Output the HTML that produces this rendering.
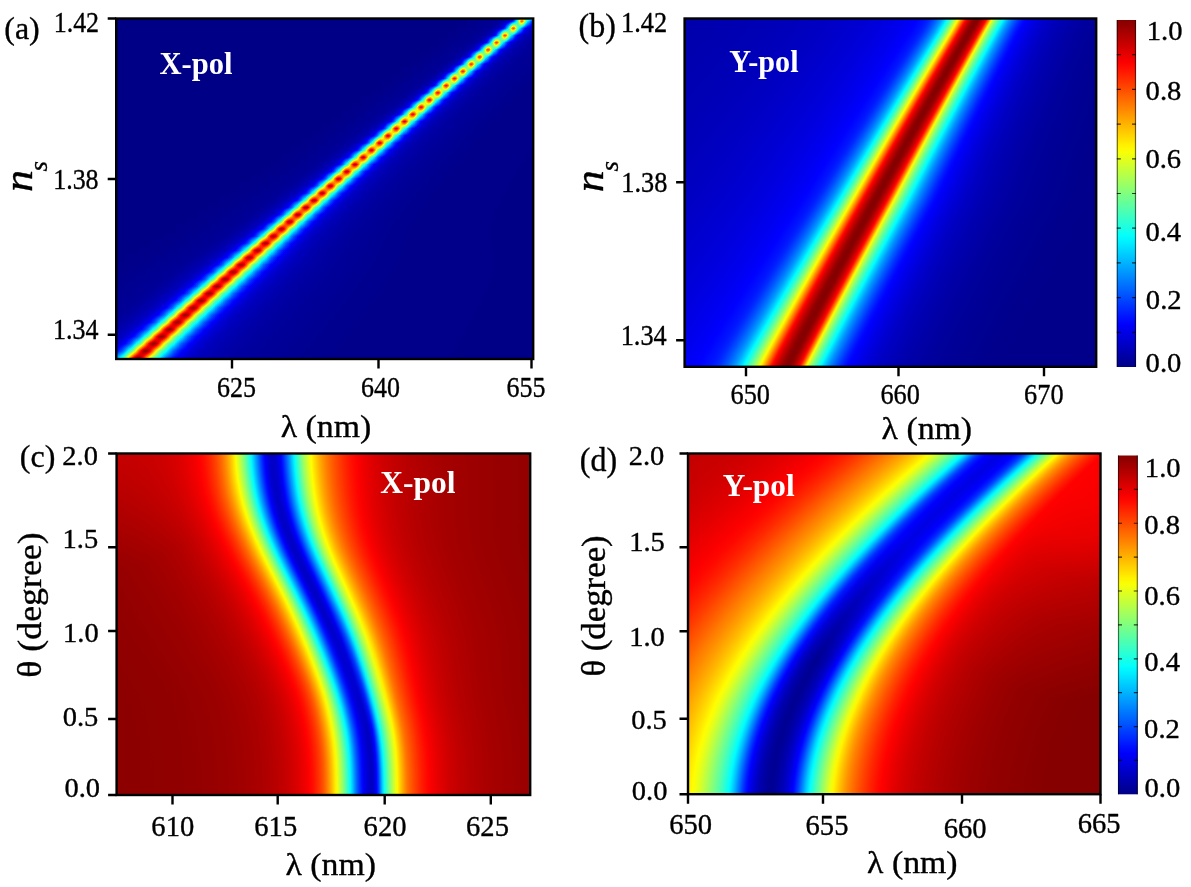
<!DOCTYPE html>
<html><head><meta charset="utf-8"><title>Figure</title>
<style>
html,body{margin:0;padding:0;background:#fff;overflow:hidden}
svg{display:block}
text{font-family:"Liberation Serif",serif;white-space:pre}
</style></head><body>
<svg width="1191" height="887" viewBox="0 0 1191 887">
<defs>
<linearGradient id="gb" gradientUnits="userSpaceOnUse" x1="-640" x2="640" y1="0" y2="0"><stop offset="0" stop-color="#0000a2"/><stop offset="0.0094" stop-color="#0000a2"/><stop offset="0.0187" stop-color="#0000a2"/><stop offset="0.0281" stop-color="#0000a2"/><stop offset="0.0375" stop-color="#0000a3"/><stop offset="0.0469" stop-color="#0000a3"/><stop offset="0.0563" stop-color="#0000a3"/><stop offset="0.0656" stop-color="#0000a4"/><stop offset="0.075" stop-color="#0000a4"/><stop offset="0.0844" stop-color="#0000a5"/><stop offset="0.0938" stop-color="#0000a5"/><stop offset="0.1031" stop-color="#0000a6"/><stop offset="0.1125" stop-color="#0000a7"/><stop offset="0.1219" stop-color="#0000a7"/><stop offset="0.1313" stop-color="#0000a8"/><stop offset="0.1406" stop-color="#0000a9"/><stop offset="0.15" stop-color="#0000aa"/><stop offset="0.1594" stop-color="#0000ab"/><stop offset="0.1688" stop-color="#0000ac"/><stop offset="0.1781" stop-color="#0000ad"/><stop offset="0.1875" stop-color="#0000ae"/><stop offset="0.1969" stop-color="#0000af"/><stop offset="0.2062" stop-color="#0000b0"/><stop offset="0.2156" stop-color="#0000b1"/><stop offset="0.225" stop-color="#0000b2"/><stop offset="0.2344" stop-color="#0000b3"/><stop offset="0.2437" stop-color="#0000b4"/><stop offset="0.2531" stop-color="#0000b5"/><stop offset="0.2625" stop-color="#0000b7"/><stop offset="0.2719" stop-color="#0000b8"/><stop offset="0.2812" stop-color="#0000ba"/><stop offset="0.2906" stop-color="#0000bb"/><stop offset="0.3" stop-color="#0000be"/><stop offset="0.3094" stop-color="#0000c0"/><stop offset="0.3187" stop-color="#0000c2"/><stop offset="0.3281" stop-color="#0000c5"/><stop offset="0.3375" stop-color="#0000c8"/><stop offset="0.3469" stop-color="#0000cb"/><stop offset="0.3563" stop-color="#0000cf"/><stop offset="0.3656" stop-color="#0000d2"/><stop offset="0.375" stop-color="#0000d6"/><stop offset="0.3758" stop-color="#0000d7"/><stop offset="0.3781" stop-color="#0000d8"/><stop offset="0.3805" stop-color="#0000d9"/><stop offset="0.3828" stop-color="#0000da"/><stop offset="0.3852" stop-color="#0000db"/><stop offset="0.3875" stop-color="#0000dd"/><stop offset="0.3898" stop-color="#0000de"/><stop offset="0.3922" stop-color="#0000df"/><stop offset="0.3945" stop-color="#0000e1"/><stop offset="0.3969" stop-color="#0000e2"/><stop offset="0.3992" stop-color="#0000e4"/><stop offset="0.4016" stop-color="#0000e5"/><stop offset="0.4039" stop-color="#0000e7"/><stop offset="0.4062" stop-color="#0000e9"/><stop offset="0.4086" stop-color="#0000ea"/><stop offset="0.4109" stop-color="#0000ec"/><stop offset="0.4133" stop-color="#0000ee"/><stop offset="0.4156" stop-color="#0000f0"/><stop offset="0.418" stop-color="#0000f2"/><stop offset="0.4203" stop-color="#0000f4"/><stop offset="0.4227" stop-color="#0000f7"/><stop offset="0.425" stop-color="#0000f9"/><stop offset="0.4273" stop-color="#0000fc"/><stop offset="0.4297" stop-color="#0000ff"/><stop offset="0.432" stop-color="#0004ff"/><stop offset="0.4344" stop-color="#0009ff"/><stop offset="0.4367" stop-color="#000eff"/><stop offset="0.4391" stop-color="#0013ff"/><stop offset="0.4414" stop-color="#0019ff"/><stop offset="0.4437" stop-color="#0022ff"/><stop offset="0.4461" stop-color="#002eff"/><stop offset="0.4484" stop-color="#003eff"/><stop offset="0.4508" stop-color="#004fff"/><stop offset="0.4531" stop-color="#0063ff"/><stop offset="0.4539" stop-color="#006aff"/><stop offset="0.4547" stop-color="#0071ff"/><stop offset="0.4555" stop-color="#0078ff"/><stop offset="0.4562" stop-color="#0080ff"/><stop offset="0.457" stop-color="#0087ff"/><stop offset="0.4578" stop-color="#0090ff"/><stop offset="0.4586" stop-color="#0098ff"/><stop offset="0.4594" stop-color="#00a2ff"/><stop offset="0.4602" stop-color="#00acff"/><stop offset="0.4609" stop-color="#00b7ff"/><stop offset="0.4617" stop-color="#00c2ff"/><stop offset="0.4625" stop-color="#00cdff"/><stop offset="0.4633" stop-color="#00d9ff"/><stop offset="0.4641" stop-color="#00e5ff"/><stop offset="0.4648" stop-color="#00f1ff"/><stop offset="0.4656" stop-color="#00feff"/><stop offset="0.4664" stop-color="#0bfff4"/><stop offset="0.4672" stop-color="#19ffe6"/><stop offset="0.468" stop-color="#26ffd9"/><stop offset="0.4688" stop-color="#34ffcb"/><stop offset="0.4695" stop-color="#43ffbc"/><stop offset="0.4703" stop-color="#51ffae"/><stop offset="0.4711" stop-color="#61ff9e"/><stop offset="0.4719" stop-color="#70ff8f"/><stop offset="0.4727" stop-color="#80ff7f"/><stop offset="0.4734" stop-color="#90ff6f"/><stop offset="0.4742" stop-color="#a1ff5e"/><stop offset="0.475" stop-color="#b2ff4d"/><stop offset="0.4758" stop-color="#c4ff3b"/><stop offset="0.4766" stop-color="#d5ff2a"/><stop offset="0.4773" stop-color="#e7ff18"/><stop offset="0.4781" stop-color="#f9ff06"/><stop offset="0.4789" stop-color="#fff200"/><stop offset="0.4797" stop-color="#ffdd00"/><stop offset="0.4805" stop-color="#ffc800"/><stop offset="0.4813" stop-color="#ffb200"/><stop offset="0.482" stop-color="#ff9c00"/><stop offset="0.4828" stop-color="#ff8600"/><stop offset="0.4836" stop-color="#ff7000"/><stop offset="0.4844" stop-color="#ff5a00"/><stop offset="0.4852" stop-color="#ff4300"/><stop offset="0.4859" stop-color="#ff2d00"/><stop offset="0.4867" stop-color="#ff1800"/><stop offset="0.4875" stop-color="#ff0600"/><stop offset="0.4883" stop-color="#f70000"/><stop offset="0.4891" stop-color="#ea0000"/><stop offset="0.4898" stop-color="#de0000"/><stop offset="0.4906" stop-color="#d20000"/><stop offset="0.4914" stop-color="#c80000"/><stop offset="0.4922" stop-color="#be0000"/><stop offset="0.493" stop-color="#b50000"/><stop offset="0.4938" stop-color="#ac0000"/><stop offset="0.4945" stop-color="#a30000"/><stop offset="0.4953" stop-color="#9b0000"/><stop offset="0.4961" stop-color="#930000"/><stop offset="0.4969" stop-color="#8e0000"/><stop offset="0.4977" stop-color="#8b0000"/><stop offset="0.4984" stop-color="#880000"/><stop offset="0.4992" stop-color="#850000"/><stop offset="0.5" stop-color="#850000"/><stop offset="0.5008" stop-color="#860000"/><stop offset="0.5016" stop-color="#8a0000"/><stop offset="0.5023" stop-color="#8e0000"/><stop offset="0.5031" stop-color="#950000"/><stop offset="0.5039" stop-color="#9f0000"/><stop offset="0.5047" stop-color="#ab0000"/><stop offset="0.5055" stop-color="#b70000"/><stop offset="0.5062" stop-color="#c30000"/><stop offset="0.507" stop-color="#d10000"/><stop offset="0.5078" stop-color="#e10000"/><stop offset="0.5086" stop-color="#f30000"/><stop offset="0.5094" stop-color="#ff0900"/><stop offset="0.5102" stop-color="#ff2500"/><stop offset="0.5109" stop-color="#ff4600"/><stop offset="0.5117" stop-color="#ff6a00"/><stop offset="0.5125" stop-color="#ff8f00"/><stop offset="0.5133" stop-color="#ffbc00"/><stop offset="0.5141" stop-color="#ffe700"/><stop offset="0.5148" stop-color="#f7ff08"/><stop offset="0.5156" stop-color="#ddff22"/><stop offset="0.5164" stop-color="#c5ff3a"/><stop offset="0.5172" stop-color="#afff50"/><stop offset="0.518" stop-color="#9bff64"/><stop offset="0.5188" stop-color="#88ff77"/><stop offset="0.5195" stop-color="#76ff89"/><stop offset="0.5203" stop-color="#65ff9a"/><stop offset="0.5211" stop-color="#55ffaa"/><stop offset="0.5219" stop-color="#46ffb9"/><stop offset="0.5227" stop-color="#37ffc8"/><stop offset="0.5234" stop-color="#28ffd7"/><stop offset="0.5242" stop-color="#1affe5"/><stop offset="0.525" stop-color="#0cfff3"/><stop offset="0.5258" stop-color="#00fcff"/><stop offset="0.5266" stop-color="#00eeff"/><stop offset="0.5273" stop-color="#00dfff"/><stop offset="0.5281" stop-color="#00d2ff"/><stop offset="0.5289" stop-color="#00c4ff"/><stop offset="0.5297" stop-color="#00b7ff"/><stop offset="0.5305" stop-color="#00abff"/><stop offset="0.5312" stop-color="#009fff"/><stop offset="0.532" stop-color="#0094ff"/><stop offset="0.5328" stop-color="#0089ff"/><stop offset="0.5336" stop-color="#0080ff"/><stop offset="0.5344" stop-color="#0076ff"/><stop offset="0.5352" stop-color="#006dff"/><stop offset="0.5359" stop-color="#0064ff"/><stop offset="0.5367" stop-color="#005bff"/><stop offset="0.5375" stop-color="#0052ff"/><stop offset="0.5383" stop-color="#004aff"/><stop offset="0.5391" stop-color="#0042ff"/><stop offset="0.5398" stop-color="#003aff"/><stop offset="0.5406" stop-color="#0032ff"/><stop offset="0.5414" stop-color="#002bff"/><stop offset="0.5422" stop-color="#0024ff"/><stop offset="0.543" stop-color="#001dff"/><stop offset="0.5437" stop-color="#0017ff"/><stop offset="0.5445" stop-color="#0011ff"/><stop offset="0.5453" stop-color="#000cff"/><stop offset="0.5461" stop-color="#0007ff"/><stop offset="0.5469" stop-color="#0003ff"/><stop offset="0.5492" stop-color="#0000f9"/><stop offset="0.5516" stop-color="#0000f1"/><stop offset="0.5539" stop-color="#0000ea"/><stop offset="0.5563" stop-color="#0000e3"/><stop offset="0.5586" stop-color="#0000dd"/><stop offset="0.5609" stop-color="#0000d7"/><stop offset="0.5633" stop-color="#0000d2"/><stop offset="0.5656" stop-color="#0000cd"/><stop offset="0.568" stop-color="#0000c8"/><stop offset="0.5703" stop-color="#0000c4"/><stop offset="0.5727" stop-color="#0000c0"/><stop offset="0.575" stop-color="#0000bd"/><stop offset="0.5773" stop-color="#0000ba"/><stop offset="0.5797" stop-color="#0000b7"/><stop offset="0.582" stop-color="#0000b4"/><stop offset="0.5844" stop-color="#0000b1"/><stop offset="0.5867" stop-color="#0000af"/><stop offset="0.5891" stop-color="#0000ad"/><stop offset="0.5914" stop-color="#0000ab"/><stop offset="0.5938" stop-color="#0000a8"/><stop offset="0.5961" stop-color="#0000a6"/><stop offset="0.5984" stop-color="#0000a5"/><stop offset="0.6008" stop-color="#0000a3"/><stop offset="0.6031" stop-color="#0000a1"/><stop offset="0.6055" stop-color="#00009f"/><stop offset="0.6078" stop-color="#00009e"/><stop offset="0.6102" stop-color="#00009c"/><stop offset="0.6125" stop-color="#00009b"/><stop offset="0.6148" stop-color="#00009a"/><stop offset="0.6172" stop-color="#000099"/><stop offset="0.6195" stop-color="#000098"/><stop offset="0.6219" stop-color="#000097"/><stop offset="0.6242" stop-color="#000096"/><stop offset="0.625" stop-color="#000096"/><stop offset="0.6344" stop-color="#000092"/><stop offset="0.6438" stop-color="#000090"/><stop offset="0.6531" stop-color="#00008d"/><stop offset="0.6625" stop-color="#00008c"/><stop offset="0.6719" stop-color="#00008b"/><stop offset="0.6813" stop-color="#00008b"/><stop offset="0.6906" stop-color="#00008a"/><stop offset="0.7" stop-color="#00008a"/><stop offset="0.7094" stop-color="#00008a"/><stop offset="0.7188" stop-color="#00008a"/><stop offset="0.7281" stop-color="#00008a"/><stop offset="0.7375" stop-color="#000089"/><stop offset="0.7469" stop-color="#000089"/><stop offset="0.7562" stop-color="#000089"/><stop offset="0.7656" stop-color="#000089"/><stop offset="0.775" stop-color="#000089"/><stop offset="0.7844" stop-color="#000089"/><stop offset="0.7937" stop-color="#000088"/><stop offset="0.8031" stop-color="#000088"/><stop offset="0.8125" stop-color="#000088"/><stop offset="0.8219" stop-color="#000088"/><stop offset="0.8313" stop-color="#000088"/><stop offset="0.8406" stop-color="#000088"/><stop offset="0.85" stop-color="#000088"/><stop offset="0.8594" stop-color="#000088"/><stop offset="0.8688" stop-color="#000088"/><stop offset="0.8781" stop-color="#000088"/><stop offset="0.8875" stop-color="#000087"/><stop offset="0.8969" stop-color="#000087"/><stop offset="0.9062" stop-color="#000087"/><stop offset="0.9156" stop-color="#000087"/><stop offset="0.925" stop-color="#000087"/><stop offset="0.9344" stop-color="#000087"/><stop offset="0.9437" stop-color="#000087"/><stop offset="0.9531" stop-color="#000087"/><stop offset="0.9625" stop-color="#000087"/><stop offset="0.9719" stop-color="#000087"/><stop offset="0.9812" stop-color="#000087"/><stop offset="0.9906" stop-color="#000087"/><stop offset="1" stop-color="#000087"/></linearGradient>
<clipPath id="cb"><rect x="684.6" y="18.5" width="411.6" height="348.3"/></clipPath>
<linearGradient id="gc" gradientUnits="userSpaceOnUse" x1="-520" x2="520" y1="0" y2="0"><stop offset="0" stop-color="#860000"/><stop offset="0.0115" stop-color="#870000"/><stop offset="0.0231" stop-color="#870000"/><stop offset="0.0346" stop-color="#870000"/><stop offset="0.0462" stop-color="#870000"/><stop offset="0.0577" stop-color="#870000"/><stop offset="0.0692" stop-color="#870000"/><stop offset="0.0808" stop-color="#870000"/><stop offset="0.0923" stop-color="#870000"/><stop offset="0.1038" stop-color="#880000"/><stop offset="0.1154" stop-color="#880000"/><stop offset="0.1269" stop-color="#880000"/><stop offset="0.1385" stop-color="#880000"/><stop offset="0.15" stop-color="#880000"/><stop offset="0.1615" stop-color="#890000"/><stop offset="0.1731" stop-color="#890000"/><stop offset="0.1846" stop-color="#890000"/><stop offset="0.1962" stop-color="#8a0000"/><stop offset="0.2077" stop-color="#8a0000"/><stop offset="0.2192" stop-color="#8a0000"/><stop offset="0.2308" stop-color="#8b0000"/><stop offset="0.2423" stop-color="#8c0000"/><stop offset="0.2538" stop-color="#8c0000"/><stop offset="0.2654" stop-color="#8d0000"/><stop offset="0.2769" stop-color="#8e0000"/><stop offset="0.2885" stop-color="#8f0000"/><stop offset="0.3" stop-color="#900000"/><stop offset="0.3115" stop-color="#910000"/><stop offset="0.3231" stop-color="#930000"/><stop offset="0.3346" stop-color="#950000"/><stop offset="0.3462" stop-color="#980000"/><stop offset="0.3471" stop-color="#980000"/><stop offset="0.35" stop-color="#990000"/><stop offset="0.3529" stop-color="#990000"/><stop offset="0.3558" stop-color="#9a0000"/><stop offset="0.3587" stop-color="#9b0000"/><stop offset="0.3615" stop-color="#9c0000"/><stop offset="0.3644" stop-color="#9d0000"/><stop offset="0.3673" stop-color="#9e0000"/><stop offset="0.3702" stop-color="#9f0000"/><stop offset="0.3731" stop-color="#a00000"/><stop offset="0.376" stop-color="#a20000"/><stop offset="0.3788" stop-color="#a30000"/><stop offset="0.3817" stop-color="#a50000"/><stop offset="0.3846" stop-color="#a60000"/><stop offset="0.3875" stop-color="#a80000"/><stop offset="0.3904" stop-color="#aa0000"/><stop offset="0.3933" stop-color="#ab0000"/><stop offset="0.3962" stop-color="#ae0000"/><stop offset="0.399" stop-color="#b00000"/><stop offset="0.4019" stop-color="#b20000"/><stop offset="0.4048" stop-color="#b50000"/><stop offset="0.4077" stop-color="#b80000"/><stop offset="0.4106" stop-color="#bb0000"/><stop offset="0.4135" stop-color="#be0000"/><stop offset="0.4163" stop-color="#c20000"/><stop offset="0.4192" stop-color="#c60000"/><stop offset="0.4221" stop-color="#cb0000"/><stop offset="0.425" stop-color="#d00000"/><stop offset="0.4279" stop-color="#d60000"/><stop offset="0.4308" stop-color="#dc0000"/><stop offset="0.4337" stop-color="#e30000"/><stop offset="0.4365" stop-color="#eb0000"/><stop offset="0.4394" stop-color="#f30000"/><stop offset="0.4423" stop-color="#fd0000"/><stop offset="0.4433" stop-color="#ff0200"/><stop offset="0.4442" stop-color="#ff0600"/><stop offset="0.4452" stop-color="#ff0a00"/><stop offset="0.4462" stop-color="#ff0e00"/><stop offset="0.4471" stop-color="#ff1200"/><stop offset="0.4481" stop-color="#ff1800"/><stop offset="0.449" stop-color="#ff1d00"/><stop offset="0.45" stop-color="#ff2300"/><stop offset="0.451" stop-color="#ff2900"/><stop offset="0.4519" stop-color="#ff2f00"/><stop offset="0.4529" stop-color="#ff3500"/><stop offset="0.4538" stop-color="#ff3c00"/><stop offset="0.4548" stop-color="#ff4300"/><stop offset="0.4558" stop-color="#ff4b00"/><stop offset="0.4567" stop-color="#ff5300"/><stop offset="0.4577" stop-color="#ff5b00"/><stop offset="0.4587" stop-color="#ff6300"/><stop offset="0.4596" stop-color="#ff6c00"/><stop offset="0.4606" stop-color="#ff7600"/><stop offset="0.4615" stop-color="#ff8000"/><stop offset="0.4625" stop-color="#ff8a00"/><stop offset="0.4635" stop-color="#ff9500"/><stop offset="0.4644" stop-color="#ffa100"/><stop offset="0.4654" stop-color="#ffad00"/><stop offset="0.4663" stop-color="#ffb900"/><stop offset="0.4673" stop-color="#ffc700"/><stop offset="0.4683" stop-color="#ffd500"/><stop offset="0.4692" stop-color="#ffe300"/><stop offset="0.4702" stop-color="#fff200"/><stop offset="0.4712" stop-color="#fcff03"/><stop offset="0.4721" stop-color="#ebff14"/><stop offset="0.4731" stop-color="#daff25"/><stop offset="0.474" stop-color="#c7ff38"/><stop offset="0.475" stop-color="#b4ff4b"/><stop offset="0.476" stop-color="#a1ff5e"/><stop offset="0.4769" stop-color="#8dff72"/><stop offset="0.4779" stop-color="#79ff86"/><stop offset="0.4788" stop-color="#64ff9b"/><stop offset="0.4798" stop-color="#4effb1"/><stop offset="0.4808" stop-color="#38ffc7"/><stop offset="0.4817" stop-color="#21ffde"/><stop offset="0.4827" stop-color="#09fff6"/><stop offset="0.4837" stop-color="#00f0ff"/><stop offset="0.4846" stop-color="#00d8ff"/><stop offset="0.4856" stop-color="#00bfff"/><stop offset="0.4865" stop-color="#00a6ff"/><stop offset="0.4875" stop-color="#008eff"/><stop offset="0.4885" stop-color="#0075ff"/><stop offset="0.4894" stop-color="#005dff"/><stop offset="0.4904" stop-color="#0046ff"/><stop offset="0.4913" stop-color="#0030ff"/><stop offset="0.4923" stop-color="#001bff"/><stop offset="0.4933" stop-color="#0008ff"/><stop offset="0.4942" stop-color="#0000f6"/><stop offset="0.4952" stop-color="#0000e8"/><stop offset="0.4962" stop-color="#0000dc"/><stop offset="0.4971" stop-color="#0000d2"/><stop offset="0.4981" stop-color="#0000cb"/><stop offset="0.499" stop-color="#0000c7"/><stop offset="0.5" stop-color="#0000c5"/><stop offset="0.501" stop-color="#0000c7"/><stop offset="0.5019" stop-color="#0000cb"/><stop offset="0.5029" stop-color="#0000d2"/><stop offset="0.5038" stop-color="#0000dc"/><stop offset="0.5048" stop-color="#0000e8"/><stop offset="0.5058" stop-color="#0000f6"/><stop offset="0.5067" stop-color="#0008ff"/><stop offset="0.5077" stop-color="#001bff"/><stop offset="0.5087" stop-color="#0030ff"/><stop offset="0.5096" stop-color="#0046ff"/><stop offset="0.5106" stop-color="#005dff"/><stop offset="0.5115" stop-color="#0075ff"/><stop offset="0.5125" stop-color="#008eff"/><stop offset="0.5135" stop-color="#00a6ff"/><stop offset="0.5144" stop-color="#00bfff"/><stop offset="0.5154" stop-color="#00d8ff"/><stop offset="0.5163" stop-color="#00f0ff"/><stop offset="0.5173" stop-color="#09fff6"/><stop offset="0.5183" stop-color="#21ffde"/><stop offset="0.5192" stop-color="#38ffc7"/><stop offset="0.5202" stop-color="#4effb1"/><stop offset="0.5212" stop-color="#64ff9b"/><stop offset="0.5221" stop-color="#79ff86"/><stop offset="0.5231" stop-color="#8dff72"/><stop offset="0.524" stop-color="#a1ff5e"/><stop offset="0.525" stop-color="#b2ff4d"/><stop offset="0.526" stop-color="#c3ff3c"/><stop offset="0.5269" stop-color="#d3ff2c"/><stop offset="0.5279" stop-color="#e3ff1c"/><stop offset="0.5288" stop-color="#f2ff0d"/><stop offset="0.5298" stop-color="#fffe00"/><stop offset="0.5308" stop-color="#fff100"/><stop offset="0.5317" stop-color="#ffe400"/><stop offset="0.5327" stop-color="#ffd800"/><stop offset="0.5337" stop-color="#ffcc00"/><stop offset="0.5346" stop-color="#ffc100"/><stop offset="0.5356" stop-color="#ffb600"/><stop offset="0.5365" stop-color="#ffac00"/><stop offset="0.5375" stop-color="#ffa200"/><stop offset="0.5385" stop-color="#ff9900"/><stop offset="0.5394" stop-color="#ff9000"/><stop offset="0.5404" stop-color="#ff8800"/><stop offset="0.5413" stop-color="#ff7f00"/><stop offset="0.5423" stop-color="#ff7800"/><stop offset="0.5433" stop-color="#ff7000"/><stop offset="0.5442" stop-color="#ff6900"/><stop offset="0.5452" stop-color="#ff6200"/><stop offset="0.5462" stop-color="#ff5c00"/><stop offset="0.5471" stop-color="#ff5600"/><stop offset="0.5481" stop-color="#ff5000"/><stop offset="0.549" stop-color="#ff4a00"/><stop offset="0.55" stop-color="#ff4500"/><stop offset="0.551" stop-color="#ff3f00"/><stop offset="0.5519" stop-color="#ff3a00"/><stop offset="0.5529" stop-color="#ff3600"/><stop offset="0.5538" stop-color="#ff3000"/><stop offset="0.5548" stop-color="#ff2b00"/><stop offset="0.5558" stop-color="#ff2600"/><stop offset="0.5567" stop-color="#ff2200"/><stop offset="0.5577" stop-color="#ff1d00"/><stop offset="0.5606" stop-color="#ff1100"/><stop offset="0.5635" stop-color="#ff0600"/><stop offset="0.5663" stop-color="#fb0000"/><stop offset="0.5692" stop-color="#f30000"/><stop offset="0.5721" stop-color="#eb0000"/><stop offset="0.575" stop-color="#e40000"/><stop offset="0.5779" stop-color="#de0000"/><stop offset="0.5808" stop-color="#d80000"/><stop offset="0.5837" stop-color="#d30000"/><stop offset="0.5865" stop-color="#ce0000"/><stop offset="0.5894" stop-color="#ca0000"/><stop offset="0.5923" stop-color="#c60000"/><stop offset="0.5952" stop-color="#c20000"/><stop offset="0.5981" stop-color="#bf0000"/><stop offset="0.601" stop-color="#bc0000"/><stop offset="0.6038" stop-color="#b90000"/><stop offset="0.6067" stop-color="#b60000"/><stop offset="0.6096" stop-color="#b40000"/><stop offset="0.6125" stop-color="#b20000"/><stop offset="0.6154" stop-color="#b00000"/><stop offset="0.6183" stop-color="#ae0000"/><stop offset="0.6212" stop-color="#ac0000"/><stop offset="0.624" stop-color="#aa0000"/><stop offset="0.6269" stop-color="#a80000"/><stop offset="0.6298" stop-color="#a70000"/><stop offset="0.6327" stop-color="#a50000"/><stop offset="0.6356" stop-color="#a40000"/><stop offset="0.6385" stop-color="#a30000"/><stop offset="0.6413" stop-color="#a20000"/><stop offset="0.6442" stop-color="#a10000"/><stop offset="0.6471" stop-color="#a00000"/><stop offset="0.65" stop-color="#9f0000"/><stop offset="0.6529" stop-color="#9e0000"/><stop offset="0.6538" stop-color="#9d0000"/><stop offset="0.6654" stop-color="#9a0000"/><stop offset="0.6769" stop-color="#970000"/><stop offset="0.6885" stop-color="#950000"/><stop offset="0.7" stop-color="#930000"/><stop offset="0.7115" stop-color="#920000"/><stop offset="0.7231" stop-color="#910000"/><stop offset="0.7346" stop-color="#8f0000"/><stop offset="0.7462" stop-color="#8e0000"/><stop offset="0.7577" stop-color="#8e0000"/><stop offset="0.7692" stop-color="#8d0000"/><stop offset="0.7808" stop-color="#8c0000"/><stop offset="0.7923" stop-color="#8c0000"/><stop offset="0.8038" stop-color="#8b0000"/><stop offset="0.8154" stop-color="#8b0000"/><stop offset="0.8269" stop-color="#8a0000"/><stop offset="0.8385" stop-color="#8a0000"/><stop offset="0.85" stop-color="#890000"/><stop offset="0.8615" stop-color="#890000"/><stop offset="0.8731" stop-color="#890000"/><stop offset="0.8846" stop-color="#890000"/><stop offset="0.8962" stop-color="#880000"/><stop offset="0.9077" stop-color="#880000"/><stop offset="0.9192" stop-color="#880000"/><stop offset="0.9308" stop-color="#880000"/><stop offset="0.9423" stop-color="#880000"/><stop offset="0.9538" stop-color="#880000"/><stop offset="0.9654" stop-color="#870000"/><stop offset="0.9769" stop-color="#870000"/><stop offset="0.9885" stop-color="#870000"/><stop offset="1" stop-color="#870000"/></linearGradient>
<clipPath id="cc"><rect x="116.6" y="453.5" width="413.6" height="341.5"/></clipPath>
<linearGradient id="gc2" gradientUnits="userSpaceOnUse" x1="-44" x2="44" y1="0" y2="0"><stop offset="0" stop-color="#ff5b00"/><stop offset="0.0227" stop-color="#ff7000"/><stop offset="0.0455" stop-color="#ff8700"/><stop offset="0.0682" stop-color="#ff9f00"/><stop offset="0.0909" stop-color="#ffb800"/><stop offset="0.1136" stop-color="#ffd300"/><stop offset="0.1364" stop-color="#ffef00"/><stop offset="0.1591" stop-color="#f2ff0d"/><stop offset="0.1818" stop-color="#d2ff2d"/><stop offset="0.2045" stop-color="#b1ff4e"/><stop offset="0.2273" stop-color="#8fff70"/><stop offset="0.25" stop-color="#6bff94"/><stop offset="0.2727" stop-color="#47ffb8"/><stop offset="0.2955" stop-color="#21ffde"/><stop offset="0.3182" stop-color="#00f9ff"/><stop offset="0.3409" stop-color="#00ceff"/><stop offset="0.3636" stop-color="#009fff"/><stop offset="0.3864" stop-color="#0072ff"/><stop offset="0.4091" stop-color="#004dff"/><stop offset="0.4318" stop-color="#002cff"/><stop offset="0.4545" stop-color="#000eff"/><stop offset="0.4773" stop-color="#0000f4"/><stop offset="0.5" stop-color="#0000e2"/><stop offset="0.5227" stop-color="#0000d4"/><stop offset="0.5455" stop-color="#0000c8"/><stop offset="0.5682" stop-color="#0000c1"/><stop offset="0.5909" stop-color="#0000c6"/><stop offset="0.6136" stop-color="#0000e0"/><stop offset="0.6364" stop-color="#0005ff"/><stop offset="0.6591" stop-color="#003bff"/><stop offset="0.6818" stop-color="#0085ff"/><stop offset="0.7045" stop-color="#00cfff"/><stop offset="0.7273" stop-color="#0afff5"/><stop offset="0.75" stop-color="#37ffc8"/><stop offset="0.7727" stop-color="#60ff9f"/><stop offset="0.7955" stop-color="#86ff79"/><stop offset="0.8182" stop-color="#a9ff56"/><stop offset="0.8409" stop-color="#c9ff36"/><stop offset="0.8636" stop-color="#e8ff17"/><stop offset="0.8864" stop-color="#fff800"/><stop offset="0.9091" stop-color="#ffdb00"/><stop offset="0.9318" stop-color="#ffbf00"/><stop offset="0.9545" stop-color="#ffa600"/><stop offset="0.9773" stop-color="#ff8e00"/><stop offset="1" stop-color="#ff7800"/></linearGradient>
<radialGradient id="ctl" gradientUnits="userSpaceOnUse" cx="105" cy="435" r="135"><stop offset="0" stop-color="#f00" stop-opacity=".45"/><stop offset=".5" stop-color="#f00" stop-opacity=".22"/><stop offset="1" stop-color="#f00" stop-opacity="0"/></radialGradient>
<linearGradient id="gd" gradientUnits="userSpaceOnUse" x1="-640" x2="640" y1="0" y2="0"><stop offset="0" stop-color="#ac0000"/><stop offset="0.0094" stop-color="#ac0000"/><stop offset="0.0187" stop-color="#ac0000"/><stop offset="0.0281" stop-color="#ac0000"/><stop offset="0.0375" stop-color="#ac0000"/><stop offset="0.0469" stop-color="#ad0000"/><stop offset="0.0563" stop-color="#ad0000"/><stop offset="0.0656" stop-color="#ae0000"/><stop offset="0.075" stop-color="#ae0000"/><stop offset="0.0844" stop-color="#af0000"/><stop offset="0.0938" stop-color="#b00000"/><stop offset="0.1031" stop-color="#b00000"/><stop offset="0.1125" stop-color="#b10000"/><stop offset="0.1219" stop-color="#b20000"/><stop offset="0.1313" stop-color="#b30000"/><stop offset="0.1406" stop-color="#b40000"/><stop offset="0.15" stop-color="#b50000"/><stop offset="0.1594" stop-color="#b70000"/><stop offset="0.1688" stop-color="#b80000"/><stop offset="0.1781" stop-color="#b90000"/><stop offset="0.1875" stop-color="#bb0000"/><stop offset="0.1969" stop-color="#bc0000"/><stop offset="0.2062" stop-color="#be0000"/><stop offset="0.2156" stop-color="#bf0000"/><stop offset="0.225" stop-color="#c10000"/><stop offset="0.2344" stop-color="#c30000"/><stop offset="0.2437" stop-color="#c50000"/><stop offset="0.2531" stop-color="#c70000"/><stop offset="0.2625" stop-color="#c80000"/><stop offset="0.2719" stop-color="#cb0000"/><stop offset="0.2812" stop-color="#ce0000"/><stop offset="0.2906" stop-color="#d20000"/><stop offset="0.3" stop-color="#d70000"/><stop offset="0.3094" stop-color="#dd0000"/><stop offset="0.3187" stop-color="#e30000"/><stop offset="0.3281" stop-color="#eb0000"/><stop offset="0.3375" stop-color="#f30000"/><stop offset="0.3469" stop-color="#fc0000"/><stop offset="0.3563" stop-color="#ff0800"/><stop offset="0.3656" stop-color="#ff1800"/><stop offset="0.375" stop-color="#ff2b00"/><stop offset="0.3758" stop-color="#ff2d00"/><stop offset="0.3781" stop-color="#ff3300"/><stop offset="0.3805" stop-color="#ff3800"/><stop offset="0.3828" stop-color="#ff3e00"/><stop offset="0.3852" stop-color="#ff4400"/><stop offset="0.3875" stop-color="#ff4b00"/><stop offset="0.3898" stop-color="#ff5100"/><stop offset="0.3922" stop-color="#ff5700"/><stop offset="0.3945" stop-color="#ff5e00"/><stop offset="0.3969" stop-color="#ff6400"/><stop offset="0.3992" stop-color="#ff6b00"/><stop offset="0.4016" stop-color="#ff7200"/><stop offset="0.4039" stop-color="#ff7900"/><stop offset="0.4062" stop-color="#ff8000"/><stop offset="0.4086" stop-color="#ff8600"/><stop offset="0.4109" stop-color="#ff8d00"/><stop offset="0.4133" stop-color="#ff9500"/><stop offset="0.4156" stop-color="#ff9c00"/><stop offset="0.418" stop-color="#ffa400"/><stop offset="0.4203" stop-color="#ffac00"/><stop offset="0.4227" stop-color="#ffb400"/><stop offset="0.425" stop-color="#ffbd00"/><stop offset="0.4273" stop-color="#ffc600"/><stop offset="0.4297" stop-color="#ffd000"/><stop offset="0.432" stop-color="#ffda00"/><stop offset="0.4344" stop-color="#ffe500"/><stop offset="0.4367" stop-color="#fff100"/><stop offset="0.4391" stop-color="#fffd00"/><stop offset="0.4414" stop-color="#f3ff0c"/><stop offset="0.4437" stop-color="#e3ff1c"/><stop offset="0.4461" stop-color="#d1ff2e"/><stop offset="0.4484" stop-color="#bdff42"/><stop offset="0.4508" stop-color="#a9ff56"/><stop offset="0.4531" stop-color="#94ff6b"/><stop offset="0.4539" stop-color="#8dff72"/><stop offset="0.4547" stop-color="#86ff79"/><stop offset="0.4555" stop-color="#7fff80"/><stop offset="0.4562" stop-color="#78ff87"/><stop offset="0.457" stop-color="#71ff8e"/><stop offset="0.4578" stop-color="#6aff95"/><stop offset="0.4586" stop-color="#63ff9c"/><stop offset="0.4594" stop-color="#5bffa4"/><stop offset="0.4602" stop-color="#54ffab"/><stop offset="0.4609" stop-color="#4cffb3"/><stop offset="0.4617" stop-color="#44ffbb"/><stop offset="0.4625" stop-color="#3cffc3"/><stop offset="0.4633" stop-color="#34ffcb"/><stop offset="0.4641" stop-color="#2cffd3"/><stop offset="0.4648" stop-color="#23ffdc"/><stop offset="0.4656" stop-color="#1affe5"/><stop offset="0.4664" stop-color="#11ffee"/><stop offset="0.4672" stop-color="#07fff8"/><stop offset="0.468" stop-color="#00fcff"/><stop offset="0.4688" stop-color="#00f1ff"/><stop offset="0.4695" stop-color="#00e5ff"/><stop offset="0.4703" stop-color="#00d8ff"/><stop offset="0.4711" stop-color="#00caff"/><stop offset="0.4719" stop-color="#00bcff"/><stop offset="0.4727" stop-color="#00adff"/><stop offset="0.4734" stop-color="#009eff"/><stop offset="0.4742" stop-color="#008eff"/><stop offset="0.475" stop-color="#007fff"/><stop offset="0.4758" stop-color="#006fff"/><stop offset="0.4766" stop-color="#0060ff"/><stop offset="0.4773" stop-color="#0051ff"/><stop offset="0.4781" stop-color="#0042ff"/><stop offset="0.4789" stop-color="#0034ff"/><stop offset="0.4797" stop-color="#0027ff"/><stop offset="0.4805" stop-color="#001aff"/><stop offset="0.4813" stop-color="#000fff"/><stop offset="0.482" stop-color="#0005ff"/><stop offset="0.4828" stop-color="#0000fb"/><stop offset="0.4836" stop-color="#0000f3"/><stop offset="0.4844" stop-color="#0000eb"/><stop offset="0.4852" stop-color="#0000e3"/><stop offset="0.4859" stop-color="#0000db"/><stop offset="0.4867" stop-color="#0000d4"/><stop offset="0.4875" stop-color="#0000cd"/><stop offset="0.4883" stop-color="#0000c7"/><stop offset="0.4891" stop-color="#0000c1"/><stop offset="0.4898" stop-color="#0000bb"/><stop offset="0.4906" stop-color="#0000b6"/><stop offset="0.4914" stop-color="#0000b2"/><stop offset="0.4922" stop-color="#0000ae"/><stop offset="0.493" stop-color="#0000aa"/><stop offset="0.4938" stop-color="#0000a6"/><stop offset="0.4945" stop-color="#0000a3"/><stop offset="0.4953" stop-color="#0000a0"/><stop offset="0.4961" stop-color="#00009d"/><stop offset="0.4969" stop-color="#00009a"/><stop offset="0.4977" stop-color="#000098"/><stop offset="0.4984" stop-color="#000096"/><stop offset="0.4992" stop-color="#000094"/><stop offset="0.5" stop-color="#000093"/><stop offset="0.5008" stop-color="#000094"/><stop offset="0.5016" stop-color="#000096"/><stop offset="0.5023" stop-color="#000098"/><stop offset="0.5031" stop-color="#00009a"/><stop offset="0.5039" stop-color="#00009d"/><stop offset="0.5047" stop-color="#0000a0"/><stop offset="0.5055" stop-color="#0000a3"/><stop offset="0.5062" stop-color="#0000a6"/><stop offset="0.507" stop-color="#0000aa"/><stop offset="0.5078" stop-color="#0000ae"/><stop offset="0.5086" stop-color="#0000b2"/><stop offset="0.5094" stop-color="#0000b6"/><stop offset="0.5102" stop-color="#0000bb"/><stop offset="0.5109" stop-color="#0000c1"/><stop offset="0.5117" stop-color="#0000c6"/><stop offset="0.5125" stop-color="#0000cd"/><stop offset="0.5133" stop-color="#0000d4"/><stop offset="0.5141" stop-color="#0000db"/><stop offset="0.5148" stop-color="#0000e2"/><stop offset="0.5156" stop-color="#0000ea"/><stop offset="0.5164" stop-color="#0000f2"/><stop offset="0.5172" stop-color="#0000fb"/><stop offset="0.518" stop-color="#0005ff"/><stop offset="0.5188" stop-color="#0010ff"/><stop offset="0.5195" stop-color="#001cff"/><stop offset="0.5203" stop-color="#0029ff"/><stop offset="0.5211" stop-color="#0037ff"/><stop offset="0.5219" stop-color="#0046ff"/><stop offset="0.5227" stop-color="#0056ff"/><stop offset="0.5234" stop-color="#0066ff"/><stop offset="0.5242" stop-color="#0076ff"/><stop offset="0.525" stop-color="#0087ff"/><stop offset="0.5258" stop-color="#0098ff"/><stop offset="0.5266" stop-color="#00a9ff"/><stop offset="0.5273" stop-color="#00baff"/><stop offset="0.5281" stop-color="#00caff"/><stop offset="0.5289" stop-color="#00daff"/><stop offset="0.5297" stop-color="#00e9ff"/><stop offset="0.5305" stop-color="#00f7ff"/><stop offset="0.5312" stop-color="#05fffa"/><stop offset="0.532" stop-color="#12ffed"/><stop offset="0.5328" stop-color="#1fffe0"/><stop offset="0.5336" stop-color="#2bffd4"/><stop offset="0.5344" stop-color="#37ffc8"/><stop offset="0.5352" stop-color="#43ffbc"/><stop offset="0.5359" stop-color="#4fffb0"/><stop offset="0.5367" stop-color="#5bffa4"/><stop offset="0.5375" stop-color="#66ff99"/><stop offset="0.5383" stop-color="#72ff8d"/><stop offset="0.5391" stop-color="#7dff82"/><stop offset="0.5398" stop-color="#89ff76"/><stop offset="0.5406" stop-color="#94ff6b"/><stop offset="0.5414" stop-color="#9fff60"/><stop offset="0.5422" stop-color="#abff54"/><stop offset="0.543" stop-color="#b6ff49"/><stop offset="0.5437" stop-color="#c1ff3e"/><stop offset="0.5445" stop-color="#ccff33"/><stop offset="0.5453" stop-color="#d7ff28"/><stop offset="0.5461" stop-color="#e2ff1d"/><stop offset="0.5469" stop-color="#ecff13"/><stop offset="0.5492" stop-color="#fff600"/><stop offset="0.5516" stop-color="#ffdc00"/><stop offset="0.5539" stop-color="#ffc300"/><stop offset="0.5563" stop-color="#ffac00"/><stop offset="0.5586" stop-color="#ff9700"/><stop offset="0.5609" stop-color="#ff8500"/><stop offset="0.5633" stop-color="#ff7500"/><stop offset="0.5656" stop-color="#ff6600"/><stop offset="0.568" stop-color="#ff5700"/><stop offset="0.5703" stop-color="#ff4a00"/><stop offset="0.5727" stop-color="#ff3d00"/><stop offset="0.575" stop-color="#ff3100"/><stop offset="0.5773" stop-color="#ff2500"/><stop offset="0.5797" stop-color="#ff1b00"/><stop offset="0.582" stop-color="#ff1100"/><stop offset="0.5844" stop-color="#ff0800"/><stop offset="0.5867" stop-color="#ff0000"/><stop offset="0.5891" stop-color="#f80000"/><stop offset="0.5914" stop-color="#f10000"/><stop offset="0.5938" stop-color="#ea0000"/><stop offset="0.5961" stop-color="#e40000"/><stop offset="0.5984" stop-color="#df0000"/><stop offset="0.6008" stop-color="#d90000"/><stop offset="0.6031" stop-color="#d40000"/><stop offset="0.6055" stop-color="#d00000"/><stop offset="0.6078" stop-color="#cc0000"/><stop offset="0.6102" stop-color="#c80000"/><stop offset="0.6125" stop-color="#c40000"/><stop offset="0.6148" stop-color="#c10000"/><stop offset="0.6172" stop-color="#be0000"/><stop offset="0.6195" stop-color="#bb0000"/><stop offset="0.6219" stop-color="#b80000"/><stop offset="0.6242" stop-color="#b60000"/><stop offset="0.625" stop-color="#b50000"/><stop offset="0.6344" stop-color="#ac0000"/><stop offset="0.6438" stop-color="#a40000"/><stop offset="0.6531" stop-color="#9d0000"/><stop offset="0.6625" stop-color="#980000"/><stop offset="0.6719" stop-color="#930000"/><stop offset="0.6813" stop-color="#900000"/><stop offset="0.6906" stop-color="#8d0000"/><stop offset="0.7" stop-color="#8a0000"/><stop offset="0.7094" stop-color="#880000"/><stop offset="0.7188" stop-color="#860000"/><stop offset="0.7281" stop-color="#850000"/><stop offset="0.7375" stop-color="#850000"/><stop offset="0.7469" stop-color="#850000"/><stop offset="0.7562" stop-color="#850000"/><stop offset="0.7656" stop-color="#850000"/><stop offset="0.775" stop-color="#850000"/><stop offset="0.7844" stop-color="#850000"/><stop offset="0.7937" stop-color="#850000"/><stop offset="0.8031" stop-color="#850000"/><stop offset="0.8125" stop-color="#850000"/><stop offset="0.8219" stop-color="#850000"/><stop offset="0.8313" stop-color="#850000"/><stop offset="0.8406" stop-color="#850000"/><stop offset="0.85" stop-color="#850000"/><stop offset="0.8594" stop-color="#850000"/><stop offset="0.8688" stop-color="#850000"/><stop offset="0.8781" stop-color="#850000"/><stop offset="0.8875" stop-color="#850000"/><stop offset="0.8969" stop-color="#850000"/><stop offset="0.9062" stop-color="#850000"/><stop offset="0.9156" stop-color="#850000"/><stop offset="0.925" stop-color="#850000"/><stop offset="0.9344" stop-color="#850000"/><stop offset="0.9437" stop-color="#850000"/><stop offset="0.9531" stop-color="#850000"/><stop offset="0.9625" stop-color="#850000"/><stop offset="0.9719" stop-color="#850000"/><stop offset="0.9812" stop-color="#850000"/><stop offset="0.9906" stop-color="#850000"/><stop offset="1" stop-color="#850000"/></linearGradient>
<clipPath id="cd"><rect x="688" y="453.5" width="412.5" height="340.7"/></clipPath>
<linearGradient id="gd2" gradientUnits="userSpaceOnUse" x1="-70" x2="70" y1="0" y2="0"><stop offset="0" stop-color="#d7ff28"/><stop offset="0.0143" stop-color="#cbff34"/><stop offset="0.0286" stop-color="#bdff42"/><stop offset="0.0429" stop-color="#b0ff4f"/><stop offset="0.0571" stop-color="#a2ff5d"/><stop offset="0.0714" stop-color="#94ff6b"/><stop offset="0.0857" stop-color="#87ff78"/><stop offset="0.1" stop-color="#79ff86"/><stop offset="0.1143" stop-color="#6bff94"/><stop offset="0.1286" stop-color="#5dffa2"/><stop offset="0.1429" stop-color="#4effb1"/><stop offset="0.1571" stop-color="#3fffc0"/><stop offset="0.1714" stop-color="#2fffd0"/><stop offset="0.1857" stop-color="#1fffe0"/><stop offset="0.2" stop-color="#0dfff2"/><stop offset="0.2143" stop-color="#00f9ff"/><stop offset="0.2286" stop-color="#00e2ff"/><stop offset="0.2429" stop-color="#00c9ff"/><stop offset="0.2571" stop-color="#00adff"/><stop offset="0.2714" stop-color="#0092ff"/><stop offset="0.2857" stop-color="#0077ff"/><stop offset="0.3" stop-color="#005dff"/><stop offset="0.3143" stop-color="#0047ff"/><stop offset="0.3286" stop-color="#0034ff"/><stop offset="0.3429" stop-color="#0026ff"/><stop offset="0.3571" stop-color="#001aff"/><stop offset="0.3714" stop-color="#0010ff"/><stop offset="0.3857" stop-color="#0006ff"/><stop offset="0.4" stop-color="#0000fe"/><stop offset="0.4143" stop-color="#0000f8"/><stop offset="0.4286" stop-color="#0000f4"/><stop offset="0.4429" stop-color="#0000f0"/><stop offset="0.4571" stop-color="#0000ed"/><stop offset="0.4714" stop-color="#0000ea"/><stop offset="0.4857" stop-color="#0000e7"/><stop offset="0.5" stop-color="#0000e4"/><stop offset="0.5143" stop-color="#0000e7"/><stop offset="0.5286" stop-color="#0000ea"/><stop offset="0.5429" stop-color="#0000ed"/><stop offset="0.5571" stop-color="#0000f0"/><stop offset="0.5714" stop-color="#0000f4"/><stop offset="0.5857" stop-color="#0000f8"/><stop offset="0.6" stop-color="#0000fe"/><stop offset="0.6143" stop-color="#0006ff"/><stop offset="0.6286" stop-color="#000fff"/><stop offset="0.6429" stop-color="#001aff"/><stop offset="0.6571" stop-color="#0026ff"/><stop offset="0.6714" stop-color="#0035ff"/><stop offset="0.6857" stop-color="#0049ff"/><stop offset="0.7" stop-color="#0061ff"/><stop offset="0.7143" stop-color="#007dff"/><stop offset="0.7286" stop-color="#009aff"/><stop offset="0.7429" stop-color="#00b9ff"/><stop offset="0.7571" stop-color="#00d7ff"/><stop offset="0.7714" stop-color="#00f3ff"/><stop offset="0.7857" stop-color="#0dfff2"/><stop offset="0.8" stop-color="#25ffda"/><stop offset="0.8143" stop-color="#3cffc3"/><stop offset="0.8286" stop-color="#53ffac"/><stop offset="0.8429" stop-color="#69ff96"/><stop offset="0.8571" stop-color="#7fff80"/><stop offset="0.8714" stop-color="#95ff6a"/><stop offset="0.8857" stop-color="#acff53"/><stop offset="0.9" stop-color="#c2ff3d"/><stop offset="0.9143" stop-color="#d8ff27"/><stop offset="0.9286" stop-color="#ecff13"/><stop offset="0.9429" stop-color="#ffff00"/><stop offset="0.9571" stop-color="#ffed00"/><stop offset="0.9714" stop-color="#ffdc00"/><stop offset="0.9857" stop-color="#ffcb00"/><stop offset="1" stop-color="#ffbb00"/></linearGradient>
<clipPath id="cdr"><polygon points="1108.2,450 1097.1,460 1086.4,470 1075.9,480 1065.6,490 1055.6,500 1045.5,510 1035.7,520 1026.2,530 1016.8,540 1007.8,550 999,560 990.4,570 982.1,580 974.1,590 966.4,600 959,610 951.9,620 945.1,630 938.7,640 932.6,650 926.8,660 921.3,670 916.2,680 911.5,690 907.1,700 902.7,710 898.8,720 895.2,730 1102,730 1102,450"/></clipPath>
<radialGradient id="dtr" gradientUnits="userSpaceOnUse" cx="1100" cy="453" r="250"><stop offset="0" stop-color="#f00" stop-opacity=".9"/><stop offset=".19" stop-color="#f00" stop-opacity=".9"/><stop offset=".35" stop-color="#f00" stop-opacity=".75"/><stop offset=".51" stop-color="#f00" stop-opacity=".42"/><stop offset=".71" stop-color="#f00" stop-opacity=".2"/><stop offset="1" stop-color="#f00" stop-opacity="0"/></radialGradient>
<filter id="jet" filterUnits="userSpaceOnUse" x="114.2" y="16.5" width="421" height="344.5" color-interpolation-filters="sRGB"><feComponentTransfer><feFuncR type="table" tableValues="0 0 0 0 0 0 0 0 0 0 0 0 0 0 0 0 0 0 0 0 0 0 0 0 0 0 0 0 0 0 0 0 0 0 0 0 0 0 0.02 0.06 0.1 0.14 0.18 0.22 0.26 0.3 0.34 0.38 0.42 0.46 0.5 0.54 0.58 0.62 0.66 0.7 0.74 0.78 0.82 0.86 0.9 0.94 0.98 1 1 1 1 1 1 1 1 1 1 1 1 1 1 1 1 1 1 1 1 1 1 1 1 1 0.981 0.942 0.904 0.866 0.827 0.789 0.75 0.712 0.674 0.635 0.597 0.558 0.52"/><feFuncG type="table" tableValues="0 0 0 0 0 0 0 0 0 0 0 0 0 0.02 0.06 0.1 0.14 0.18 0.22 0.26 0.3 0.34 0.38 0.42 0.46 0.5 0.54 0.58 0.62 0.66 0.7 0.74 0.78 0.82 0.86 0.9 0.94 0.98 1 1 1 1 1 1 1 1 1 1 1 1 1 1 1 1 1 1 1 1 1 1 1 1 1 0.98 0.94 0.9 0.86 0.82 0.78 0.74 0.7 0.66 0.62 0.58 0.54 0.5 0.46 0.42 0.38 0.34 0.3 0.26 0.22 0.18 0.14 0.1 0.06 0.02 0 0 0 0 0 0 0 0 0 0 0 0 0"/><feFuncB type="table" tableValues="0.53 0.568 0.605 0.643 0.68 0.718 0.756 0.793 0.831 0.868 0.906 0.944 0.981 1 1 1 1 1 1 1 1 1 1 1 1 1 1 1 1 1 1 1 1 1 1 1 1 1 0.98 0.94 0.9 0.86 0.82 0.78 0.74 0.7 0.66 0.62 0.58 0.54 0.5 0.46 0.42 0.38 0.34 0.3 0.26 0.22 0.18 0.14 0.1 0.06 0.02 0 0 0 0 0 0 0 0 0 0 0 0 0 0 0 0 0 0 0 0 0 0 0 0 0 0 0 0 0 0 0 0 0 0 0 0 0 0"/></feComponentTransfer></filter>
<linearGradient id="ga" gradientUnits="userSpaceOnUse" x1="-500" x2="500" y1="0" y2="0"><stop offset="0" stop-color="#000000"/><stop offset="0.004" stop-color="#000000"/><stop offset="0.01" stop-color="#000000"/><stop offset="0.016" stop-color="#000000"/><stop offset="0.022" stop-color="#000000"/><stop offset="0.028" stop-color="#000000"/><stop offset="0.034" stop-color="#000000"/><stop offset="0.04" stop-color="#000000"/><stop offset="0.046" stop-color="#000000"/><stop offset="0.052" stop-color="#000000"/><stop offset="0.058" stop-color="#000000"/><stop offset="0.064" stop-color="#000000"/><stop offset="0.07" stop-color="#000000"/><stop offset="0.076" stop-color="#000000"/><stop offset="0.082" stop-color="#000000"/><stop offset="0.088" stop-color="#000000"/><stop offset="0.094" stop-color="#000000"/><stop offset="0.1" stop-color="#000000"/><stop offset="0.106" stop-color="#000000"/><stop offset="0.112" stop-color="#000000"/><stop offset="0.118" stop-color="#000000"/><stop offset="0.124" stop-color="#000000"/><stop offset="0.13" stop-color="#000000"/><stop offset="0.136" stop-color="#000000"/><stop offset="0.142" stop-color="#000000"/><stop offset="0.148" stop-color="#000000"/><stop offset="0.154" stop-color="#000000"/><stop offset="0.16" stop-color="#000000"/><stop offset="0.166" stop-color="#000000"/><stop offset="0.172" stop-color="#000000"/><stop offset="0.178" stop-color="#000000"/><stop offset="0.184" stop-color="#000000"/><stop offset="0.19" stop-color="#000000"/><stop offset="0.196" stop-color="#000000"/><stop offset="0.202" stop-color="#000000"/><stop offset="0.208" stop-color="#000000"/><stop offset="0.214" stop-color="#000000"/><stop offset="0.22" stop-color="#000000"/><stop offset="0.226" stop-color="#000000"/><stop offset="0.232" stop-color="#000000"/><stop offset="0.238" stop-color="#000000"/><stop offset="0.244" stop-color="#000000"/><stop offset="0.25" stop-color="#000000"/><stop offset="0.256" stop-color="#000000"/><stop offset="0.262" stop-color="#000000"/><stop offset="0.268" stop-color="#000000"/><stop offset="0.274" stop-color="#000000"/><stop offset="0.28" stop-color="#000000"/><stop offset="0.286" stop-color="#000000"/><stop offset="0.292" stop-color="#000000"/><stop offset="0.298" stop-color="#000000"/><stop offset="0.304" stop-color="#000000"/><stop offset="0.31" stop-color="#000000"/><stop offset="0.316" stop-color="#000000"/><stop offset="0.322" stop-color="#000000"/><stop offset="0.328" stop-color="#000000"/><stop offset="0.334" stop-color="#000000"/><stop offset="0.34" stop-color="#000000"/><stop offset="0.341" stop-color="#000000"/><stop offset="0.3425" stop-color="#000000"/><stop offset="0.344" stop-color="#000000"/><stop offset="0.3455" stop-color="#010101"/><stop offset="0.347" stop-color="#010101"/><stop offset="0.3485" stop-color="#010101"/><stop offset="0.35" stop-color="#010101"/><stop offset="0.3515" stop-color="#010101"/><stop offset="0.353" stop-color="#010101"/><stop offset="0.3545" stop-color="#010101"/><stop offset="0.356" stop-color="#010101"/><stop offset="0.3575" stop-color="#010101"/><stop offset="0.359" stop-color="#010101"/><stop offset="0.3605" stop-color="#010101"/><stop offset="0.362" stop-color="#010101"/><stop offset="0.3635" stop-color="#010101"/><stop offset="0.365" stop-color="#010101"/><stop offset="0.3665" stop-color="#010101"/><stop offset="0.368" stop-color="#010101"/><stop offset="0.3695" stop-color="#010101"/><stop offset="0.371" stop-color="#010101"/><stop offset="0.3725" stop-color="#010101"/><stop offset="0.374" stop-color="#010101"/><stop offset="0.3755" stop-color="#010101"/><stop offset="0.377" stop-color="#020202"/><stop offset="0.3785" stop-color="#020202"/><stop offset="0.38" stop-color="#020202"/><stop offset="0.3815" stop-color="#020202"/><stop offset="0.383" stop-color="#020202"/><stop offset="0.3845" stop-color="#020202"/><stop offset="0.386" stop-color="#020202"/><stop offset="0.3875" stop-color="#020202"/><stop offset="0.389" stop-color="#020202"/><stop offset="0.3905" stop-color="#020202"/><stop offset="0.392" stop-color="#020202"/><stop offset="0.3935" stop-color="#020202"/><stop offset="0.395" stop-color="#020202"/><stop offset="0.3965" stop-color="#020202"/><stop offset="0.398" stop-color="#030303"/><stop offset="0.3995" stop-color="#030303"/><stop offset="0.401" stop-color="#030303"/><stop offset="0.4025" stop-color="#030303"/><stop offset="0.404" stop-color="#030303"/><stop offset="0.4055" stop-color="#030303"/><stop offset="0.407" stop-color="#030303"/><stop offset="0.4085" stop-color="#030303"/><stop offset="0.41" stop-color="#030303"/><stop offset="0.4115" stop-color="#030303"/><stop offset="0.413" stop-color="#030303"/><stop offset="0.4145" stop-color="#030303"/><stop offset="0.416" stop-color="#040404"/><stop offset="0.4175" stop-color="#040404"/><stop offset="0.419" stop-color="#040404"/><stop offset="0.4205" stop-color="#040404"/><stop offset="0.422" stop-color="#040404"/><stop offset="0.4235" stop-color="#040404"/><stop offset="0.425" stop-color="#040404"/><stop offset="0.4265" stop-color="#040404"/><stop offset="0.428" stop-color="#050505"/><stop offset="0.4295" stop-color="#050505"/><stop offset="0.431" stop-color="#050505"/><stop offset="0.4325" stop-color="#050505"/><stop offset="0.434" stop-color="#060606"/><stop offset="0.4355" stop-color="#060606"/><stop offset="0.437" stop-color="#060606"/><stop offset="0.4385" stop-color="#070707"/><stop offset="0.44" stop-color="#070707"/><stop offset="0.4405" stop-color="#070707"/><stop offset="0.441" stop-color="#080808"/><stop offset="0.4415" stop-color="#080808"/><stop offset="0.442" stop-color="#080808"/><stop offset="0.4425" stop-color="#080808"/><stop offset="0.443" stop-color="#080808"/><stop offset="0.4435" stop-color="#080808"/><stop offset="0.444" stop-color="#080808"/><stop offset="0.4445" stop-color="#090909"/><stop offset="0.445" stop-color="#090909"/><stop offset="0.4455" stop-color="#090909"/><stop offset="0.446" stop-color="#090909"/><stop offset="0.4465" stop-color="#090909"/><stop offset="0.447" stop-color="#090909"/><stop offset="0.4475" stop-color="#0a0a0a"/><stop offset="0.448" stop-color="#0a0a0a"/><stop offset="0.4485" stop-color="#0a0a0a"/><stop offset="0.449" stop-color="#0a0a0a"/><stop offset="0.4495" stop-color="#0a0a0a"/><stop offset="0.45" stop-color="#0b0b0b"/><stop offset="0.4505" stop-color="#0b0b0b"/><stop offset="0.451" stop-color="#0b0b0b"/><stop offset="0.4515" stop-color="#0b0b0b"/><stop offset="0.452" stop-color="#0b0b0b"/><stop offset="0.4525" stop-color="#0c0c0c"/><stop offset="0.453" stop-color="#0c0c0c"/><stop offset="0.4535" stop-color="#0c0c0c"/><stop offset="0.454" stop-color="#0c0c0c"/><stop offset="0.4545" stop-color="#0d0d0d"/><stop offset="0.455" stop-color="#0d0d0d"/><stop offset="0.4555" stop-color="#0d0d0d"/><stop offset="0.456" stop-color="#0d0d0d"/><stop offset="0.4565" stop-color="#0e0e0e"/><stop offset="0.457" stop-color="#0e0e0e"/><stop offset="0.4575" stop-color="#0e0e0e"/><stop offset="0.458" stop-color="#0f0f0f"/><stop offset="0.4585" stop-color="#0f0f0f"/><stop offset="0.459" stop-color="#0f0f0f"/><stop offset="0.4595" stop-color="#101010"/><stop offset="0.46" stop-color="#101010"/><stop offset="0.4605" stop-color="#111111"/><stop offset="0.461" stop-color="#111111"/><stop offset="0.4615" stop-color="#121212"/><stop offset="0.462" stop-color="#121212"/><stop offset="0.4625" stop-color="#131313"/><stop offset="0.463" stop-color="#141414"/><stop offset="0.4635" stop-color="#141414"/><stop offset="0.464" stop-color="#151515"/><stop offset="0.4645" stop-color="#161616"/><stop offset="0.465" stop-color="#161616"/><stop offset="0.4655" stop-color="#171717"/><stop offset="0.466" stop-color="#181818"/><stop offset="0.4665" stop-color="#191919"/><stop offset="0.467" stop-color="#191919"/><stop offset="0.4675" stop-color="#1a1a1a"/><stop offset="0.468" stop-color="#1b1b1b"/><stop offset="0.4685" stop-color="#1c1c1c"/><stop offset="0.469" stop-color="#1d1d1d"/><stop offset="0.4695" stop-color="#1e1e1e"/><stop offset="0.47" stop-color="#1f1f1f"/><stop offset="0.4705" stop-color="#202020"/><stop offset="0.471" stop-color="#212121"/><stop offset="0.4715" stop-color="#222222"/><stop offset="0.472" stop-color="#242424"/><stop offset="0.4725" stop-color="#252525"/><stop offset="0.473" stop-color="#272727"/><stop offset="0.4735" stop-color="#292929"/><stop offset="0.474" stop-color="#2b2b2b"/><stop offset="0.4745" stop-color="#2d2d2d"/><stop offset="0.475" stop-color="#2f2f2f"/><stop offset="0.4755" stop-color="#313131"/><stop offset="0.476" stop-color="#333333"/><stop offset="0.4765" stop-color="#363636"/><stop offset="0.477" stop-color="#383838"/><stop offset="0.4775" stop-color="#3b3b3b"/><stop offset="0.478" stop-color="#3e3e3e"/><stop offset="0.4785" stop-color="#414141"/><stop offset="0.479" stop-color="#454545"/><stop offset="0.4795" stop-color="#494949"/><stop offset="0.48" stop-color="#4c4c4c"/><stop offset="0.4805" stop-color="#505050"/><stop offset="0.481" stop-color="#545454"/><stop offset="0.4815" stop-color="#585858"/><stop offset="0.482" stop-color="#5c5c5c"/><stop offset="0.4825" stop-color="#606060"/><stop offset="0.483" stop-color="#636363"/><stop offset="0.4835" stop-color="#666666"/><stop offset="0.484" stop-color="#696969"/><stop offset="0.4845" stop-color="#6c6c6c"/><stop offset="0.485" stop-color="#707070"/><stop offset="0.4855" stop-color="#737373"/><stop offset="0.486" stop-color="#767676"/><stop offset="0.4865" stop-color="#7a7a7a"/><stop offset="0.487" stop-color="#7f7f7f"/><stop offset="0.4875" stop-color="#848484"/><stop offset="0.488" stop-color="#898989"/><stop offset="0.4885" stop-color="#8e8e8e"/><stop offset="0.489" stop-color="#949494"/><stop offset="0.4895" stop-color="#9a9a9a"/><stop offset="0.49" stop-color="#9f9f9f"/><stop offset="0.4905" stop-color="#a6a6a6"/><stop offset="0.491" stop-color="#acacac"/><stop offset="0.4915" stop-color="#b3b3b3"/><stop offset="0.492" stop-color="#bababa"/><stop offset="0.4925" stop-color="#c1c1c1"/><stop offset="0.493" stop-color="#c7c7c7"/><stop offset="0.4935" stop-color="#cdcdcd"/><stop offset="0.494" stop-color="#d3d3d3"/><stop offset="0.4945" stop-color="#d8d8d8"/><stop offset="0.495" stop-color="#dedede"/><stop offset="0.4955" stop-color="#e3e3e3"/><stop offset="0.496" stop-color="#e9e9e9"/><stop offset="0.4965" stop-color="#eeeeee"/><stop offset="0.497" stop-color="#f2f2f2"/><stop offset="0.4975" stop-color="#f6f6f6"/><stop offset="0.498" stop-color="#f9f9f9"/><stop offset="0.4985" stop-color="#fbfbfb"/><stop offset="0.499" stop-color="#fdfdfd"/><stop offset="0.4995" stop-color="#fefefe"/><stop offset="0.5" stop-color="#ffffff"/><stop offset="0.5005" stop-color="#fefefe"/><stop offset="0.501" stop-color="#fdfdfd"/><stop offset="0.5015" stop-color="#fbfbfb"/><stop offset="0.502" stop-color="#f9f9f9"/><stop offset="0.5025" stop-color="#f6f6f6"/><stop offset="0.503" stop-color="#f2f2f2"/><stop offset="0.5035" stop-color="#eeeeee"/><stop offset="0.504" stop-color="#e9e9e9"/><stop offset="0.5045" stop-color="#e3e3e3"/><stop offset="0.505" stop-color="#dedede"/><stop offset="0.5055" stop-color="#d8d8d8"/><stop offset="0.506" stop-color="#d3d3d3"/><stop offset="0.5065" stop-color="#cdcdcd"/><stop offset="0.507" stop-color="#c7c7c7"/><stop offset="0.5075" stop-color="#c1c1c1"/><stop offset="0.508" stop-color="#bbbbbb"/><stop offset="0.5085" stop-color="#b5b5b5"/><stop offset="0.509" stop-color="#afafaf"/><stop offset="0.5095" stop-color="#aaaaaa"/><stop offset="0.51" stop-color="#a4a4a4"/><stop offset="0.5105" stop-color="#9f9f9f"/><stop offset="0.511" stop-color="#9b9b9b"/><stop offset="0.5115" stop-color="#969696"/><stop offset="0.512" stop-color="#919191"/><stop offset="0.5125" stop-color="#8d8d8d"/><stop offset="0.513" stop-color="#898989"/><stop offset="0.5135" stop-color="#858585"/><stop offset="0.514" stop-color="#818181"/><stop offset="0.5145" stop-color="#7e7e7e"/><stop offset="0.515" stop-color="#7a7a7a"/><stop offset="0.5155" stop-color="#777777"/><stop offset="0.516" stop-color="#757575"/><stop offset="0.5165" stop-color="#727272"/><stop offset="0.517" stop-color="#707070"/><stop offset="0.5175" stop-color="#6e6e6e"/><stop offset="0.518" stop-color="#6b6b6b"/><stop offset="0.5185" stop-color="#696969"/><stop offset="0.519" stop-color="#676767"/><stop offset="0.5195" stop-color="#656565"/><stop offset="0.52" stop-color="#636363"/><stop offset="0.5205" stop-color="#606060"/><stop offset="0.521" stop-color="#5e5e5e"/><stop offset="0.5215" stop-color="#5b5b5b"/><stop offset="0.522" stop-color="#585858"/><stop offset="0.5225" stop-color="#555555"/><stop offset="0.523" stop-color="#525252"/><stop offset="0.5235" stop-color="#4f4f4f"/><stop offset="0.524" stop-color="#4c4c4c"/><stop offset="0.5245" stop-color="#494949"/><stop offset="0.525" stop-color="#474747"/><stop offset="0.5255" stop-color="#444444"/><stop offset="0.526" stop-color="#414141"/><stop offset="0.5265" stop-color="#3f3f3f"/><stop offset="0.527" stop-color="#3c3c3c"/><stop offset="0.5275" stop-color="#3a3a3a"/><stop offset="0.528" stop-color="#383838"/><stop offset="0.5285" stop-color="#363636"/><stop offset="0.529" stop-color="#343434"/><stop offset="0.5295" stop-color="#333333"/><stop offset="0.53" stop-color="#313131"/><stop offset="0.5305" stop-color="#2f2f2f"/><stop offset="0.531" stop-color="#2e2e2e"/><stop offset="0.5315" stop-color="#2c2c2c"/><stop offset="0.532" stop-color="#2b2b2b"/><stop offset="0.5325" stop-color="#292929"/><stop offset="0.533" stop-color="#282828"/><stop offset="0.5335" stop-color="#262626"/><stop offset="0.534" stop-color="#252525"/><stop offset="0.5345" stop-color="#242424"/><stop offset="0.535" stop-color="#232323"/><stop offset="0.5355" stop-color="#222222"/><stop offset="0.536" stop-color="#212121"/><stop offset="0.5365" stop-color="#202020"/><stop offset="0.537" stop-color="#1f1f1f"/><stop offset="0.5375" stop-color="#1f1f1f"/><stop offset="0.538" stop-color="#1e1e1e"/><stop offset="0.5385" stop-color="#1d1d1d"/><stop offset="0.539" stop-color="#1d1d1d"/><stop offset="0.5395" stop-color="#1c1c1c"/><stop offset="0.54" stop-color="#1b1b1b"/><stop offset="0.5405" stop-color="#1b1b1b"/><stop offset="0.541" stop-color="#1a1a1a"/><stop offset="0.5415" stop-color="#1a1a1a"/><stop offset="0.542" stop-color="#191919"/><stop offset="0.5425" stop-color="#181818"/><stop offset="0.543" stop-color="#181818"/><stop offset="0.5435" stop-color="#171717"/><stop offset="0.544" stop-color="#171717"/><stop offset="0.5445" stop-color="#161616"/><stop offset="0.545" stop-color="#161616"/><stop offset="0.5455" stop-color="#151515"/><stop offset="0.546" stop-color="#151515"/><stop offset="0.5465" stop-color="#151515"/><stop offset="0.547" stop-color="#141414"/><stop offset="0.5475" stop-color="#141414"/><stop offset="0.548" stop-color="#131313"/><stop offset="0.5485" stop-color="#131313"/><stop offset="0.549" stop-color="#131313"/><stop offset="0.5495" stop-color="#121212"/><stop offset="0.55" stop-color="#121212"/><stop offset="0.5505" stop-color="#121212"/><stop offset="0.551" stop-color="#111111"/><stop offset="0.5515" stop-color="#111111"/><stop offset="0.552" stop-color="#111111"/><stop offset="0.5525" stop-color="#101010"/><stop offset="0.553" stop-color="#101010"/><stop offset="0.5535" stop-color="#101010"/><stop offset="0.554" stop-color="#101010"/><stop offset="0.5545" stop-color="#0f0f0f"/><stop offset="0.555" stop-color="#0f0f0f"/><stop offset="0.5555" stop-color="#0f0f0f"/><stop offset="0.556" stop-color="#0f0f0f"/><stop offset="0.5565" stop-color="#0f0f0f"/><stop offset="0.557" stop-color="#0f0f0f"/><stop offset="0.5575" stop-color="#0e0e0e"/><stop offset="0.558" stop-color="#0e0e0e"/><stop offset="0.5585" stop-color="#0e0e0e"/><stop offset="0.559" stop-color="#0e0e0e"/><stop offset="0.5595" stop-color="#0e0e0e"/><stop offset="0.56" stop-color="#0e0e0e"/><stop offset="0.5615" stop-color="#0d0d0d"/><stop offset="0.563" stop-color="#0d0d0d"/><stop offset="0.5645" stop-color="#0c0c0c"/><stop offset="0.566" stop-color="#0c0c0c"/><stop offset="0.5675" stop-color="#0b0b0b"/><stop offset="0.569" stop-color="#0b0b0b"/><stop offset="0.5705" stop-color="#0b0b0b"/><stop offset="0.572" stop-color="#0a0a0a"/><stop offset="0.5735" stop-color="#0a0a0a"/><stop offset="0.575" stop-color="#0a0a0a"/><stop offset="0.5765" stop-color="#0a0a0a"/><stop offset="0.578" stop-color="#090909"/><stop offset="0.5795" stop-color="#090909"/><stop offset="0.581" stop-color="#090909"/><stop offset="0.5825" stop-color="#090909"/><stop offset="0.584" stop-color="#080808"/><stop offset="0.5855" stop-color="#080808"/><stop offset="0.587" stop-color="#080808"/><stop offset="0.5885" stop-color="#080808"/><stop offset="0.59" stop-color="#080808"/><stop offset="0.5915" stop-color="#070707"/><stop offset="0.593" stop-color="#070707"/><stop offset="0.5945" stop-color="#070707"/><stop offset="0.596" stop-color="#070707"/><stop offset="0.5975" stop-color="#070707"/><stop offset="0.599" stop-color="#070707"/><stop offset="0.6005" stop-color="#070707"/><stop offset="0.602" stop-color="#060606"/><stop offset="0.6035" stop-color="#060606"/><stop offset="0.605" stop-color="#060606"/><stop offset="0.6065" stop-color="#060606"/><stop offset="0.608" stop-color="#060606"/><stop offset="0.6095" stop-color="#060606"/><stop offset="0.611" stop-color="#060606"/><stop offset="0.6125" stop-color="#060606"/><stop offset="0.614" stop-color="#050505"/><stop offset="0.6155" stop-color="#050505"/><stop offset="0.617" stop-color="#050505"/><stop offset="0.6185" stop-color="#050505"/><stop offset="0.62" stop-color="#050505"/><stop offset="0.6215" stop-color="#050505"/><stop offset="0.623" stop-color="#050505"/><stop offset="0.6245" stop-color="#050505"/><stop offset="0.626" stop-color="#040404"/><stop offset="0.6275" stop-color="#040404"/><stop offset="0.629" stop-color="#040404"/><stop offset="0.6305" stop-color="#040404"/><stop offset="0.632" stop-color="#040404"/><stop offset="0.6335" stop-color="#040404"/><stop offset="0.635" stop-color="#040404"/><stop offset="0.6365" stop-color="#040404"/><stop offset="0.638" stop-color="#040404"/><stop offset="0.6395" stop-color="#040404"/><stop offset="0.641" stop-color="#030303"/><stop offset="0.6425" stop-color="#030303"/><stop offset="0.644" stop-color="#030303"/><stop offset="0.6455" stop-color="#030303"/><stop offset="0.647" stop-color="#030303"/><stop offset="0.6485" stop-color="#030303"/><stop offset="0.65" stop-color="#030303"/><stop offset="0.6515" stop-color="#030303"/><stop offset="0.653" stop-color="#030303"/><stop offset="0.6545" stop-color="#030303"/><stop offset="0.656" stop-color="#030303"/><stop offset="0.6575" stop-color="#030303"/><stop offset="0.659" stop-color="#020202"/><stop offset="0.66" stop-color="#020202"/><stop offset="0.666" stop-color="#020202"/><stop offset="0.672" stop-color="#020202"/><stop offset="0.678" stop-color="#020202"/><stop offset="0.684" stop-color="#020202"/><stop offset="0.69" stop-color="#010101"/><stop offset="0.696" stop-color="#010101"/><stop offset="0.702" stop-color="#010101"/><stop offset="0.708" stop-color="#010101"/><stop offset="0.714" stop-color="#010101"/><stop offset="0.72" stop-color="#010101"/><stop offset="0.726" stop-color="#010101"/><stop offset="0.732" stop-color="#010101"/><stop offset="0.738" stop-color="#010101"/><stop offset="0.744" stop-color="#010101"/><stop offset="0.75" stop-color="#010101"/><stop offset="0.756" stop-color="#010101"/><stop offset="0.762" stop-color="#010101"/><stop offset="0.768" stop-color="#010101"/><stop offset="0.774" stop-color="#010101"/><stop offset="0.78" stop-color="#010101"/><stop offset="0.786" stop-color="#010101"/><stop offset="0.792" stop-color="#010101"/><stop offset="0.798" stop-color="#010101"/><stop offset="0.804" stop-color="#010101"/><stop offset="0.81" stop-color="#000000"/><stop offset="0.816" stop-color="#000000"/><stop offset="0.822" stop-color="#000000"/><stop offset="0.828" stop-color="#000000"/><stop offset="0.834" stop-color="#000000"/><stop offset="0.84" stop-color="#000000"/><stop offset="0.846" stop-color="#000000"/><stop offset="0.852" stop-color="#000000"/><stop offset="0.858" stop-color="#000000"/><stop offset="0.864" stop-color="#000000"/><stop offset="0.87" stop-color="#000000"/><stop offset="0.876" stop-color="#000000"/><stop offset="0.882" stop-color="#000000"/><stop offset="0.888" stop-color="#000000"/><stop offset="0.894" stop-color="#000000"/><stop offset="0.9" stop-color="#000000"/><stop offset="0.906" stop-color="#000000"/><stop offset="0.912" stop-color="#000000"/><stop offset="0.918" stop-color="#000000"/><stop offset="0.924" stop-color="#000000"/><stop offset="0.93" stop-color="#000000"/><stop offset="0.936" stop-color="#000000"/><stop offset="0.942" stop-color="#000000"/><stop offset="0.948" stop-color="#000000"/><stop offset="0.954" stop-color="#000000"/><stop offset="0.96" stop-color="#000000"/><stop offset="0.966" stop-color="#000000"/><stop offset="0.972" stop-color="#000000"/><stop offset="0.978" stop-color="#000000"/><stop offset="0.984" stop-color="#000000"/><stop offset="0.99" stop-color="#000000"/><stop offset="0.996" stop-color="#000000"/><stop offset="1" stop-color="#000000"/></linearGradient>
<clipPath id="ca"><rect x="116.2" y="18.5" width="417" height="340.5"/></clipPath>
<linearGradient id="env" x1="0" y1="0" x2="0" y2="1"><stop offset="0" stop-color="#000" stop-opacity=".2"/><stop offset="0.25" stop-color="#000" stop-opacity=".1"/><stop offset="0.5" stop-color="#000" stop-opacity=".03"/><stop offset="1" stop-color="#000" stop-opacity="0"/></linearGradient>
<linearGradient id="cbar" x1="0" y1="0" x2="0" y2="1"><stop offset="0" stop-color="#850000"/><stop offset="0.02" stop-color="#980000"/><stop offset="0.04" stop-color="#ac0000"/><stop offset="0.06" stop-color="#bf0000"/><stop offset="0.08" stop-color="#d30000"/><stop offset="0.1" stop-color="#e70000"/><stop offset="0.12" stop-color="#fa0000"/><stop offset="0.14" stop-color="#ff0f00"/><stop offset="0.16" stop-color="#ff2400"/><stop offset="0.18" stop-color="#ff3800"/><stop offset="0.2" stop-color="#ff4c00"/><stop offset="0.22" stop-color="#ff6100"/><stop offset="0.24" stop-color="#ff7500"/><stop offset="0.26" stop-color="#ff8a00"/><stop offset="0.28" stop-color="#ff9e00"/><stop offset="0.3" stop-color="#ffb300"/><stop offset="0.32" stop-color="#ffc700"/><stop offset="0.34" stop-color="#ffdb00"/><stop offset="0.36" stop-color="#fff000"/><stop offset="0.38" stop-color="#faff05"/><stop offset="0.4" stop-color="#e5ff1a"/><stop offset="0.42" stop-color="#d1ff2e"/><stop offset="0.44" stop-color="#bdff42"/><stop offset="0.46" stop-color="#a8ff57"/><stop offset="0.48" stop-color="#94ff6b"/><stop offset="0.5" stop-color="#80ff80"/><stop offset="0.52" stop-color="#6bff94"/><stop offset="0.54" stop-color="#57ffa8"/><stop offset="0.56" stop-color="#42ffbd"/><stop offset="0.58" stop-color="#2effd1"/><stop offset="0.6" stop-color="#1affe5"/><stop offset="0.62" stop-color="#05fffa"/><stop offset="0.64" stop-color="#00f0ff"/><stop offset="0.66" stop-color="#00dbff"/><stop offset="0.68" stop-color="#00c7ff"/><stop offset="0.7" stop-color="#00b3ff"/><stop offset="0.72" stop-color="#009eff"/><stop offset="0.74" stop-color="#008aff"/><stop offset="0.76" stop-color="#0075ff"/><stop offset="0.78" stop-color="#0061ff"/><stop offset="0.8" stop-color="#004cff"/><stop offset="0.82" stop-color="#0038ff"/><stop offset="0.84" stop-color="#0024ff"/><stop offset="0.86" stop-color="#000fff"/><stop offset="0.88" stop-color="#0000fa"/><stop offset="0.9" stop-color="#0000e7"/><stop offset="0.92" stop-color="#0000d4"/><stop offset="0.94" stop-color="#0000c1"/><stop offset="0.96" stop-color="#0000ae"/><stop offset="0.98" stop-color="#00009a"/><stop offset="1" stop-color="#000087"/></linearGradient>
</defs>
<rect width="1191" height="887" fill="#fff"/>
<g clip-path="url(#cb)"><rect transform="translate(977.2 18) scale(0.67 1)" x="-438.2" width="439.7" height="1" fill="url(#gb)"/><rect transform="translate(977.2 18) scale(0.81 1)" x="0" width="148.1" height="1" fill="url(#gb)"/><rect transform="translate(976.62 19) scale(0.67 1)" x="-437.3" width="438.8" height="1" fill="url(#gb)"/><rect transform="translate(976.62 19) scale(0.81 1)" x="0" width="148.9" height="1" fill="url(#gb)"/><rect transform="translate(976.04 20) scale(0.67 1)" x="-436.5" width="438" height="1" fill="url(#gb)"/><rect transform="translate(976.04 20) scale(0.81 1)" x="0" width="149.6" height="1" fill="url(#gb)"/><rect transform="translate(975.46 21) scale(0.67 1)" x="-435.6" width="437.1" height="1" fill="url(#gb)"/><rect transform="translate(975.46 21) scale(0.81 1)" x="0" width="150.3" height="1" fill="url(#gb)"/><rect transform="translate(974.89 22) scale(0.67 1)" x="-434.8" width="436.2" height="1" fill="url(#gb)"/><rect transform="translate(974.89 22) scale(0.81 1)" x="0" width="151" height="1" fill="url(#gb)"/><rect transform="translate(974.31 23) scale(0.67 1)" x="-433.9" width="435.4" height="1" fill="url(#gb)"/><rect transform="translate(974.31 23) scale(0.81 1)" x="0" width="151.7" height="1" fill="url(#gb)"/><rect transform="translate(973.73 24) scale(0.67 1)" x="-433" width="434.5" height="1" fill="url(#gb)"/><rect transform="translate(973.73 24) scale(0.81 1)" x="0" width="152.4" height="1" fill="url(#gb)"/><rect transform="translate(973.15 25) scale(0.67 1)" x="-432.2" width="433.7" height="1" fill="url(#gb)"/><rect transform="translate(973.15 25) scale(0.81 1)" x="0" width="153.1" height="1" fill="url(#gb)"/><rect transform="translate(972.57 26) scale(0.67 1)" x="-431.3" width="432.8" height="1" fill="url(#gb)"/><rect transform="translate(972.57 26) scale(0.81 1)" x="0" width="153.9" height="1" fill="url(#gb)"/><rect transform="translate(972 27) scale(0.67 1)" x="-430.4" width="431.9" height="1" fill="url(#gb)"/><rect transform="translate(972 27) scale(0.81 1)" x="0" width="154.6" height="1" fill="url(#gb)"/><rect transform="translate(971.42 28) scale(0.67 1)" x="-429.6" width="431.1" height="1" fill="url(#gb)"/><rect transform="translate(971.42 28) scale(0.81 1)" x="0" width="155.3" height="1" fill="url(#gb)"/><rect transform="translate(970.84 29) scale(0.67 1)" x="-428.7" width="430.2" height="1" fill="url(#gb)"/><rect transform="translate(970.84 29) scale(0.81 1)" x="0" width="156" height="1" fill="url(#gb)"/><rect transform="translate(970.26 30) scale(0.67 1)" x="-427.9" width="429.4" height="1" fill="url(#gb)"/><rect transform="translate(970.26 30) scale(0.81 1)" x="0" width="156.7" height="1" fill="url(#gb)"/><rect transform="translate(969.69 31) scale(0.67 1)" x="-427" width="428.5" height="1" fill="url(#gb)"/><rect transform="translate(969.69 31) scale(0.81 1)" x="0" width="157.4" height="1" fill="url(#gb)"/><rect transform="translate(969.11 32) scale(0.67 1)" x="-425.9" width="427.3" height="1" fill="url(#gb)"/><rect transform="translate(969.11 32) scale(0.811 1)" x="0" width="158" height="1" fill="url(#gb)"/><rect transform="translate(968.54 33) scale(0.671 1)" x="-424.4" width="425.9" height="1" fill="url(#gb)"/><rect transform="translate(968.54 33) scale(0.812 1)" x="0" width="158.5" height="1" fill="url(#gb)"/><rect transform="translate(967.96 34) scale(0.672 1)" x="-423" width="424.5" height="1" fill="url(#gb)"/><rect transform="translate(967.96 34) scale(0.813 1)" x="0" width="159" height="1" fill="url(#gb)"/><rect transform="translate(967.38 35) scale(0.673 1)" x="-421.6" width="423.1" height="1" fill="url(#gb)"/><rect transform="translate(967.38 35) scale(0.814 1)" x="0" width="159.5" height="1" fill="url(#gb)"/><rect transform="translate(966.81 36) scale(0.674 1)" x="-420.2" width="421.7" height="1" fill="url(#gb)"/><rect transform="translate(966.81 36) scale(0.815 1)" x="0" width="160" height="1" fill="url(#gb)"/><rect transform="translate(966.23 37) scale(0.675 1)" x="-418.8" width="420.3" height="1" fill="url(#gb)"/><rect transform="translate(966.23 37) scale(0.816 1)" x="0" width="160.5" height="1" fill="url(#gb)"/><rect transform="translate(965.66 38) scale(0.676 1)" x="-417.4" width="418.8" height="1" fill="url(#gb)"/><rect transform="translate(965.66 38) scale(0.817 1)" x="0" width="160.9" height="1" fill="url(#gb)"/><rect transform="translate(965.08 39) scale(0.677 1)" x="-416" width="417.4" height="1" fill="url(#gb)"/><rect transform="translate(965.08 39) scale(0.818 1)" x="0" width="161.4" height="1" fill="url(#gb)"/><rect transform="translate(964.51 40) scale(0.678 1)" x="-414.6" width="416" height="1" fill="url(#gb)"/><rect transform="translate(964.51 40) scale(0.82 1)" x="0" width="161.9" height="1" fill="url(#gb)"/><rect transform="translate(963.93 41) scale(0.678 1)" x="-413.2" width="414.6" height="1" fill="url(#gb)"/><rect transform="translate(963.93 41) scale(0.821 1)" x="0" width="162.4" height="1" fill="url(#gb)"/><rect transform="translate(963.36 42) scale(0.679 1)" x="-411.8" width="413.3" height="1" fill="url(#gb)"/><rect transform="translate(963.36 42) scale(0.822 1)" x="0" width="162.9" height="1" fill="url(#gb)"/><rect transform="translate(962.78 43) scale(0.68 1)" x="-410.4" width="411.9" height="1" fill="url(#gb)"/><rect transform="translate(962.78 43) scale(0.823 1)" x="0" width="163.3" height="1" fill="url(#gb)"/><rect transform="translate(962.21 44) scale(0.681 1)" x="-409" width="410.5" height="1" fill="url(#gb)"/><rect transform="translate(962.21 44) scale(0.824 1)" x="0" width="163.8" height="1" fill="url(#gb)"/><rect transform="translate(961.64 45) scale(0.682 1)" x="-407.6" width="409.1" height="1" fill="url(#gb)"/><rect transform="translate(961.64 45) scale(0.825 1)" x="0" width="164.3" height="1" fill="url(#gb)"/><rect transform="translate(961.06 46) scale(0.683 1)" x="-406.3" width="407.7" height="1" fill="url(#gb)"/><rect transform="translate(961.06 46) scale(0.826 1)" x="0" width="164.7" height="1" fill="url(#gb)"/><rect transform="translate(960.49 47) scale(0.684 1)" x="-404.9" width="406.4" height="1" fill="url(#gb)"/><rect transform="translate(960.49 47) scale(0.828 1)" x="0" width="165.2" height="1" fill="url(#gb)"/><rect transform="translate(959.91 48) scale(0.685 1)" x="-403.5" width="405" height="1" fill="url(#gb)"/><rect transform="translate(959.91 48) scale(0.829 1)" x="0" width="165.7" height="1" fill="url(#gb)"/><rect transform="translate(959.34 49) scale(0.686 1)" x="-402.2" width="403.6" height="1" fill="url(#gb)"/><rect transform="translate(959.34 49) scale(0.83 1)" x="0" width="166.1" height="1" fill="url(#gb)"/><rect transform="translate(958.77 50) scale(0.687 1)" x="-400.8" width="402.3" height="1" fill="url(#gb)"/><rect transform="translate(958.77 50) scale(0.831 1)" x="0" width="166.6" height="1" fill="url(#gb)"/><rect transform="translate(958.2 51) scale(0.687 1)" x="-399.5" width="400.9" height="1" fill="url(#gb)"/><rect transform="translate(958.2 51) scale(0.832 1)" x="0" width="167.1" height="1" fill="url(#gb)"/><rect transform="translate(957.62 52) scale(0.688 1)" x="-398.1" width="399.6" height="1" fill="url(#gb)"/><rect transform="translate(957.62 52) scale(0.833 1)" x="0" width="167.5" height="1" fill="url(#gb)"/><rect transform="translate(957.05 53) scale(0.689 1)" x="-396.8" width="398.2" height="1" fill="url(#gb)"/><rect transform="translate(957.05 53) scale(0.834 1)" x="0" width="168" height="1" fill="url(#gb)"/><rect transform="translate(956.48 54) scale(0.69 1)" x="-395.4" width="396.9" height="1" fill="url(#gb)"/><rect transform="translate(956.48 54) scale(0.835 1)" x="0" width="168.4" height="1" fill="url(#gb)"/><rect transform="translate(955.91 55) scale(0.691 1)" x="-394.1" width="395.5" height="1" fill="url(#gb)"/><rect transform="translate(955.91 55) scale(0.837 1)" x="0" width="168.9" height="1" fill="url(#gb)"/><rect transform="translate(955.33 56) scale(0.692 1)" x="-392.8" width="394.2" height="1" fill="url(#gb)"/><rect transform="translate(955.33 56) scale(0.838 1)" x="0" width="169.3" height="1" fill="url(#gb)"/><rect transform="translate(954.76 57) scale(0.693 1)" x="-391.4" width="392.9" height="1" fill="url(#gb)"/><rect transform="translate(954.76 57) scale(0.839 1)" x="0" width="169.8" height="1" fill="url(#gb)"/><rect transform="translate(954.19 58) scale(0.694 1)" x="-390.1" width="391.5" height="1" fill="url(#gb)"/><rect transform="translate(954.19 58) scale(0.84 1)" x="0" width="170.3" height="1" fill="url(#gb)"/><rect transform="translate(953.62 59) scale(0.695 1)" x="-388.8" width="390.2" height="1" fill="url(#gb)"/><rect transform="translate(953.62 59) scale(0.841 1)" x="0" width="170.7" height="1" fill="url(#gb)"/><rect transform="translate(953.05 60) scale(0.695 1)" x="-387.4" width="388.9" height="1" fill="url(#gb)"/><rect transform="translate(953.05 60) scale(0.842 1)" x="0" width="171.2" height="1" fill="url(#gb)"/><rect transform="translate(952.48 61) scale(0.696 1)" x="-386.1" width="387.6" height="1" fill="url(#gb)"/><rect transform="translate(952.48 61) scale(0.843 1)" x="0" width="171.6" height="1" fill="url(#gb)"/><rect transform="translate(951.91 62) scale(0.697 1)" x="-384.8" width="386.3" height="1" fill="url(#gb)"/><rect transform="translate(951.91 62) scale(0.844 1)" x="0" width="172" height="1" fill="url(#gb)"/><rect transform="translate(951.34 63) scale(0.698 1)" x="-383.5" width="384.9" height="1" fill="url(#gb)"/><rect transform="translate(951.34 63) scale(0.846 1)" x="0" width="172.5" height="1" fill="url(#gb)"/><rect transform="translate(950.77 64) scale(0.699 1)" x="-382.2" width="383.6" height="1" fill="url(#gb)"/><rect transform="translate(950.77 64) scale(0.847 1)" x="0" width="172.9" height="1" fill="url(#gb)"/><rect transform="translate(950.2 65) scale(0.7 1)" x="-380.9" width="382.3" height="1" fill="url(#gb)"/><rect transform="translate(950.2 65) scale(0.848 1)" x="0" width="173.4" height="1" fill="url(#gb)"/><rect transform="translate(949.63 66) scale(0.701 1)" x="-379.6" width="381" height="1" fill="url(#gb)"/><rect transform="translate(949.63 66) scale(0.849 1)" x="0" width="173.8" height="1" fill="url(#gb)"/><rect transform="translate(949.06 67) scale(0.702 1)" x="-378.3" width="379.7" height="1" fill="url(#gb)"/><rect transform="translate(949.06 67) scale(0.85 1)" x="0" width="174.3" height="1" fill="url(#gb)"/><rect transform="translate(948.49 68) scale(0.703 1)" x="-377" width="378.4" height="1" fill="url(#gb)"/><rect transform="translate(948.49 68) scale(0.851 1)" x="0" width="174.7" height="1" fill="url(#gb)"/><rect transform="translate(947.92 69) scale(0.703 1)" x="-375.7" width="377.2" height="1" fill="url(#gb)"/><rect transform="translate(947.92 69) scale(0.852 1)" x="0" width="175.1" height="1" fill="url(#gb)"/><rect transform="translate(947.35 70) scale(0.704 1)" x="-374.4" width="375.9" height="1" fill="url(#gb)"/><rect transform="translate(947.35 70) scale(0.854 1)" x="0" width="175.6" height="1" fill="url(#gb)"/><rect transform="translate(946.78 71) scale(0.705 1)" x="-373.2" width="374.6" height="1" fill="url(#gb)"/><rect transform="translate(946.78 71) scale(0.855 1)" x="0" width="176" height="1" fill="url(#gb)"/><rect transform="translate(946.21 72) scale(0.706 1)" x="-371.9" width="373.3" height="1" fill="url(#gb)"/><rect transform="translate(946.21 72) scale(0.856 1)" x="0" width="176.4" height="1" fill="url(#gb)"/><rect transform="translate(945.64 73) scale(0.707 1)" x="-370.6" width="372" height="1" fill="url(#gb)"/><rect transform="translate(945.64 73) scale(0.857 1)" x="0" width="176.9" height="1" fill="url(#gb)"/><rect transform="translate(945.08 74) scale(0.708 1)" x="-369.3" width="370.8" height="1" fill="url(#gb)"/><rect transform="translate(945.08 74) scale(0.858 1)" x="0" width="177.3" height="1" fill="url(#gb)"/><rect transform="translate(944.51 75) scale(0.709 1)" x="-368.1" width="369.5" height="1" fill="url(#gb)"/><rect transform="translate(944.51 75) scale(0.859 1)" x="0" width="177.7" height="1" fill="url(#gb)"/><rect transform="translate(943.94 76) scale(0.71 1)" x="-366.8" width="368.2" height="1" fill="url(#gb)"/><rect transform="translate(943.94 76) scale(0.86 1)" x="0" width="178.1" height="1" fill="url(#gb)"/><rect transform="translate(943.37 77) scale(0.711 1)" x="-365.6" width="367" height="1" fill="url(#gb)"/><rect transform="translate(943.37 77) scale(0.861 1)" x="0" width="178.6" height="1" fill="url(#gb)"/><rect transform="translate(942.8 78) scale(0.712 1)" x="-364.3" width="365.7" height="1" fill="url(#gb)"/><rect transform="translate(942.8 78) scale(0.863 1)" x="0" width="179" height="1" fill="url(#gb)"/><rect transform="translate(942.24 79) scale(0.712 1)" x="-363" width="364.4" height="1" fill="url(#gb)"/><rect transform="translate(942.24 79) scale(0.864 1)" x="0" width="179.4" height="1" fill="url(#gb)"/><rect transform="translate(941.67 80) scale(0.713 1)" x="-361.8" width="363.2" height="1" fill="url(#gb)"/><rect transform="translate(941.67 80) scale(0.865 1)" x="0" width="179.8" height="1" fill="url(#gb)"/><rect transform="translate(941.1 81) scale(0.714 1)" x="-360.5" width="361.9" height="1" fill="url(#gb)"/><rect transform="translate(941.1 81) scale(0.866 1)" x="0" width="180.3" height="1" fill="url(#gb)"/><rect transform="translate(940.54 82) scale(0.715 1)" x="-359.3" width="360.7" height="1" fill="url(#gb)"/><rect transform="translate(940.54 82) scale(0.867 1)" x="0" width="180.7" height="1" fill="url(#gb)"/><rect transform="translate(939.97 83) scale(0.716 1)" x="-358.1" width="359.5" height="1" fill="url(#gb)"/><rect transform="translate(939.97 83) scale(0.868 1)" x="0" width="181.1" height="1" fill="url(#gb)"/><rect transform="translate(939.4 84) scale(0.717 1)" x="-356.8" width="358.2" height="1" fill="url(#gb)"/><rect transform="translate(939.4 84) scale(0.869 1)" x="0" width="181.5" height="1" fill="url(#gb)"/><rect transform="translate(938.84 85) scale(0.718 1)" x="-355.6" width="357" height="1" fill="url(#gb)"/><rect transform="translate(938.84 85) scale(0.871 1)" x="0" width="181.9" height="1" fill="url(#gb)"/><rect transform="translate(938.27 86) scale(0.719 1)" x="-354.4" width="355.8" height="1" fill="url(#gb)"/><rect transform="translate(938.27 86) scale(0.872 1)" x="0" width="182.3" height="1" fill="url(#gb)"/><rect transform="translate(937.71 87) scale(0.72 1)" x="-353.1" width="354.5" height="1" fill="url(#gb)"/><rect transform="translate(937.71 87) scale(0.873 1)" x="0" width="182.7" height="1" fill="url(#gb)"/><rect transform="translate(937.14 88) scale(0.72 1)" x="-351.9" width="353.3" height="1" fill="url(#gb)"/><rect transform="translate(937.14 88) scale(0.874 1)" x="0" width="183.2" height="1" fill="url(#gb)"/><rect transform="translate(936.57 89) scale(0.721 1)" x="-350.7" width="352.1" height="1" fill="url(#gb)"/><rect transform="translate(936.57 89) scale(0.875 1)" x="0" width="183.6" height="1" fill="url(#gb)"/><rect transform="translate(936.01 90) scale(0.722 1)" x="-349.5" width="350.9" height="1" fill="url(#gb)"/><rect transform="translate(936.01 90) scale(0.876 1)" x="0" width="184" height="1" fill="url(#gb)"/><rect transform="translate(935.44 91) scale(0.723 1)" x="-348.3" width="349.7" height="1" fill="url(#gb)"/><rect transform="translate(935.44 91) scale(0.877 1)" x="0" width="184.4" height="1" fill="url(#gb)"/><rect transform="translate(934.88 92) scale(0.724 1)" x="-347.1" width="348.4" height="1" fill="url(#gb)"/><rect transform="translate(934.88 92) scale(0.878 1)" x="0" width="184.8" height="1" fill="url(#gb)"/><rect transform="translate(934.31 93) scale(0.725 1)" x="-345.9" width="347.2" height="1" fill="url(#gb)"/><rect transform="translate(934.31 93) scale(0.88 1)" x="0" width="185.2" height="1" fill="url(#gb)"/><rect transform="translate(933.75 94) scale(0.726 1)" x="-344.7" width="346" height="1" fill="url(#gb)"/><rect transform="translate(933.75 94) scale(0.881 1)" x="0" width="185.6" height="1" fill="url(#gb)"/><rect transform="translate(933.19 95) scale(0.727 1)" x="-343.5" width="344.8" height="1" fill="url(#gb)"/><rect transform="translate(933.19 95) scale(0.882 1)" x="0" width="186" height="1" fill="url(#gb)"/><rect transform="translate(932.62 96) scale(0.728 1)" x="-342.3" width="343.6" height="1" fill="url(#gb)"/><rect transform="translate(932.62 96) scale(0.883 1)" x="0" width="186.4" height="1" fill="url(#gb)"/><rect transform="translate(932.06 97) scale(0.728 1)" x="-341.1" width="342.4" height="1" fill="url(#gb)"/><rect transform="translate(932.06 97) scale(0.884 1)" x="0" width="186.8" height="1" fill="url(#gb)"/><rect transform="translate(931.49 98) scale(0.729 1)" x="-339.9" width="341.2" height="1" fill="url(#gb)"/><rect transform="translate(931.49 98) scale(0.885 1)" x="0" width="187.2" height="1" fill="url(#gb)"/><rect transform="translate(930.93 99) scale(0.73 1)" x="-338.7" width="340.1" height="1" fill="url(#gb)"/><rect transform="translate(930.93 99) scale(0.886 1)" x="0" width="187.6" height="1" fill="url(#gb)"/><rect transform="translate(930.37 100) scale(0.731 1)" x="-337.5" width="338.9" height="1" fill="url(#gb)"/><rect transform="translate(930.37 100) scale(0.887 1)" x="0" width="188" height="1" fill="url(#gb)"/><rect transform="translate(929.8 101) scale(0.732 1)" x="-336.3" width="337.7" height="1" fill="url(#gb)"/><rect transform="translate(929.8 101) scale(0.889 1)" x="0" width="188.4" height="1" fill="url(#gb)"/><rect transform="translate(929.24 102) scale(0.733 1)" x="-335.1" width="336.5" height="1" fill="url(#gb)"/><rect transform="translate(929.24 102) scale(0.89 1)" x="0" width="188.8" height="1" fill="url(#gb)"/><rect transform="translate(928.68 103) scale(0.734 1)" x="-334" width="335.3" height="1" fill="url(#gb)"/><rect transform="translate(928.68 103) scale(0.891 1)" x="0" width="189.2" height="1" fill="url(#gb)"/><rect transform="translate(928.12 104) scale(0.735 1)" x="-332.8" width="334.2" height="1" fill="url(#gb)"/><rect transform="translate(928.12 104) scale(0.892 1)" x="0" width="189.6" height="1" fill="url(#gb)"/><rect transform="translate(927.55 105) scale(0.736 1)" x="-331.6" width="333" height="1" fill="url(#gb)"/><rect transform="translate(927.55 105) scale(0.893 1)" x="0" width="189.9" height="1" fill="url(#gb)"/><rect transform="translate(926.99 106) scale(0.737 1)" x="-330.5" width="331.8" height="1" fill="url(#gb)"/><rect transform="translate(926.99 106) scale(0.894 1)" x="0" width="190.3" height="1" fill="url(#gb)"/><rect transform="translate(926.43 107) scale(0.737 1)" x="-329.3" width="330.7" height="1" fill="url(#gb)"/><rect transform="translate(926.43 107) scale(0.895 1)" x="0" width="190.7" height="1" fill="url(#gb)"/><rect transform="translate(925.87 108) scale(0.738 1)" x="-328.1" width="329.5" height="1" fill="url(#gb)"/><rect transform="translate(925.87 108) scale(0.897 1)" x="0" width="191.1" height="1" fill="url(#gb)"/><rect transform="translate(925.31 109) scale(0.739 1)" x="-327" width="328.3" height="1" fill="url(#gb)"/><rect transform="translate(925.31 109) scale(0.898 1)" x="0" width="191.5" height="1" fill="url(#gb)"/><rect transform="translate(924.75 110) scale(0.74 1)" x="-325.8" width="327.2" height="1" fill="url(#gb)"/><rect transform="translate(924.75 110) scale(0.899 1)" x="0" width="191.9" height="1" fill="url(#gb)"/><rect transform="translate(924.19 111) scale(0.741 1)" x="-324.7" width="326" height="1" fill="url(#gb)"/><rect transform="translate(924.19 111) scale(0.9 1)" x="0" width="192.3" height="1" fill="url(#gb)"/><rect transform="translate(923.62 112) scale(0.742 1)" x="-323.5" width="324.9" height="1" fill="url(#gb)"/><rect transform="translate(923.62 112) scale(0.901 1)" x="0" width="192.6" height="1" fill="url(#gb)"/><rect transform="translate(923.06 113) scale(0.743 1)" x="-322.4" width="323.7" height="1" fill="url(#gb)"/><rect transform="translate(923.06 113) scale(0.902 1)" x="0" width="193" height="1" fill="url(#gb)"/><rect transform="translate(922.5 114) scale(0.744 1)" x="-321.3" width="322.6" height="1" fill="url(#gb)"/><rect transform="translate(922.5 114) scale(0.903 1)" x="0" width="193.4" height="1" fill="url(#gb)"/><rect transform="translate(921.94 115) scale(0.745 1)" x="-320.1" width="321.5" height="1" fill="url(#gb)"/><rect transform="translate(921.94 115) scale(0.904 1)" x="0" width="193.8" height="1" fill="url(#gb)"/><rect transform="translate(921.38 116) scale(0.745 1)" x="-319" width="320.3" height="1" fill="url(#gb)"/><rect transform="translate(921.38 116) scale(0.906 1)" x="0" width="194.2" height="1" fill="url(#gb)"/><rect transform="translate(920.82 117) scale(0.746 1)" x="-317.8" width="319.2" height="1" fill="url(#gb)"/><rect transform="translate(920.82 117) scale(0.907 1)" x="0" width="194.5" height="1" fill="url(#gb)"/><rect transform="translate(920.26 118) scale(0.747 1)" x="-316.7" width="318.1" height="1" fill="url(#gb)"/><rect transform="translate(920.26 118) scale(0.908 1)" x="0" width="194.9" height="1" fill="url(#gb)"/><rect transform="translate(919.7 119) scale(0.748 1)" x="-315.6" width="316.9" height="1" fill="url(#gb)"/><rect transform="translate(919.7 119) scale(0.909 1)" x="0" width="195.3" height="1" fill="url(#gb)"/><rect transform="translate(919.14 120) scale(0.749 1)" x="-314.5" width="315.8" height="1" fill="url(#gb)"/><rect transform="translate(919.14 120) scale(0.91 1)" x="0" width="195.6" height="1" fill="url(#gb)"/><rect transform="translate(918.58 121) scale(0.75 1)" x="-313.4" width="314.7" height="1" fill="url(#gb)"/><rect transform="translate(918.58 121) scale(0.911 1)" x="0" width="196" height="1" fill="url(#gb)"/><rect transform="translate(918.03 122) scale(0.751 1)" x="-312.2" width="313.6" height="1" fill="url(#gb)"/><rect transform="translate(918.03 122) scale(0.912 1)" x="0" width="196.4" height="1" fill="url(#gb)"/><rect transform="translate(917.47 123) scale(0.752 1)" x="-311.1" width="312.4" height="1" fill="url(#gb)"/><rect transform="translate(917.47 123) scale(0.913 1)" x="0" width="196.8" height="1" fill="url(#gb)"/><rect transform="translate(916.91 124) scale(0.753 1)" x="-310" width="311.3" height="1" fill="url(#gb)"/><rect transform="translate(916.91 124) scale(0.915 1)" x="0" width="197.1" height="1" fill="url(#gb)"/><rect transform="translate(916.35 125) scale(0.753 1)" x="-308.9" width="310.2" height="1" fill="url(#gb)"/><rect transform="translate(916.35 125) scale(0.916 1)" x="0" width="197.5" height="1" fill="url(#gb)"/><rect transform="translate(915.79 126) scale(0.754 1)" x="-307.8" width="309.1" height="1" fill="url(#gb)"/><rect transform="translate(915.79 126) scale(0.917 1)" x="0" width="197.9" height="1" fill="url(#gb)"/><rect transform="translate(915.23 127) scale(0.755 1)" x="-306.7" width="308" height="1" fill="url(#gb)"/><rect transform="translate(915.23 127) scale(0.918 1)" x="0" width="198.2" height="1" fill="url(#gb)"/><rect transform="translate(914.68 128) scale(0.756 1)" x="-305.6" width="306.9" height="1" fill="url(#gb)"/><rect transform="translate(914.68 128) scale(0.919 1)" x="0" width="198.6" height="1" fill="url(#gb)"/><rect transform="translate(914.12 129) scale(0.757 1)" x="-304.5" width="305.8" height="1" fill="url(#gb)"/><rect transform="translate(914.12 129) scale(0.92 1)" x="0" width="198.9" height="1" fill="url(#gb)"/><rect transform="translate(913.56 130) scale(0.758 1)" x="-303.4" width="304.7" height="1" fill="url(#gb)"/><rect transform="translate(913.56 130) scale(0.921 1)" x="0" width="199.3" height="1" fill="url(#gb)"/><rect transform="translate(913 131) scale(0.759 1)" x="-302.3" width="303.6" height="1" fill="url(#gb)"/><rect transform="translate(913 131) scale(0.923 1)" x="0" width="199.7" height="1" fill="url(#gb)"/><rect transform="translate(912.45 132) scale(0.76 1)" x="-301.2" width="302.5" height="1" fill="url(#gb)"/><rect transform="translate(912.45 132) scale(0.924 1)" x="0" width="200" height="1" fill="url(#gb)"/><rect transform="translate(911.89 133) scale(0.761 1)" x="-300.1" width="301.5" height="1" fill="url(#gb)"/><rect transform="translate(911.89 133) scale(0.925 1)" x="0" width="200.4" height="1" fill="url(#gb)"/><rect transform="translate(911.33 134) scale(0.762 1)" x="-299.1" width="300.4" height="1" fill="url(#gb)"/><rect transform="translate(911.33 134) scale(0.926 1)" x="0" width="200.7" height="1" fill="url(#gb)"/><rect transform="translate(910.78 135) scale(0.762 1)" x="-298" width="299.3" height="1" fill="url(#gb)"/><rect transform="translate(910.78 135) scale(0.927 1)" x="0" width="201.1" height="1" fill="url(#gb)"/><rect transform="translate(910.22 136) scale(0.763 1)" x="-296.9" width="298.2" height="1" fill="url(#gb)"/><rect transform="translate(910.22 136) scale(0.928 1)" x="0" width="201.4" height="1" fill="url(#gb)"/><rect transform="translate(909.67 137) scale(0.764 1)" x="-295.8" width="297.1" height="1" fill="url(#gb)"/><rect transform="translate(909.67 137) scale(0.929 1)" x="0" width="201.8" height="1" fill="url(#gb)"/><rect transform="translate(909.11 138) scale(0.765 1)" x="-294.7" width="296.1" height="1" fill="url(#gb)"/><rect transform="translate(909.11 138) scale(0.93 1)" x="0" width="202.2" height="1" fill="url(#gb)"/><rect transform="translate(908.55 139) scale(0.766 1)" x="-293.7" width="295" height="1" fill="url(#gb)"/><rect transform="translate(908.55 139) scale(0.932 1)" x="0" width="202.5" height="1" fill="url(#gb)"/><rect transform="translate(908 140) scale(0.767 1)" x="-292.6" width="293.9" height="1" fill="url(#gb)"/><rect transform="translate(908 140) scale(0.933 1)" x="0" width="202.9" height="1" fill="url(#gb)"/><rect transform="translate(907.44 141) scale(0.768 1)" x="-291.6" width="292.9" height="1" fill="url(#gb)"/><rect transform="translate(907.44 141) scale(0.934 1)" x="0" width="203.2" height="1" fill="url(#gb)"/><rect transform="translate(906.89 142) scale(0.769 1)" x="-290.5" width="291.8" height="1" fill="url(#gb)"/><rect transform="translate(906.89 142) scale(0.935 1)" x="0" width="203.5" height="1" fill="url(#gb)"/><rect transform="translate(906.33 143) scale(0.77 1)" x="-289.4" width="290.7" height="1" fill="url(#gb)"/><rect transform="translate(906.33 143) scale(0.936 1)" x="0" width="203.9" height="1" fill="url(#gb)"/><rect transform="translate(905.78 144) scale(0.77 1)" x="-288.4" width="289.7" height="1" fill="url(#gb)"/><rect transform="translate(905.78 144) scale(0.937 1)" x="0" width="204.2" height="1" fill="url(#gb)"/><rect transform="translate(905.22 145) scale(0.771 1)" x="-287.3" width="288.6" height="1" fill="url(#gb)"/><rect transform="translate(905.22 145) scale(0.938 1)" x="0" width="204.6" height="1" fill="url(#gb)"/><rect transform="translate(904.67 146) scale(0.772 1)" x="-286.3" width="287.6" height="1" fill="url(#gb)"/><rect transform="translate(904.67 146) scale(0.939 1)" x="0" width="204.9" height="1" fill="url(#gb)"/><rect transform="translate(904.12 147) scale(0.773 1)" x="-285.2" width="286.5" height="1" fill="url(#gb)"/><rect transform="translate(904.12 147) scale(0.941 1)" x="0" width="205.3" height="1" fill="url(#gb)"/><rect transform="translate(903.56 148) scale(0.774 1)" x="-284.2" width="285.5" height="1" fill="url(#gb)"/><rect transform="translate(903.56 148) scale(0.942 1)" x="0" width="205.6" height="1" fill="url(#gb)"/><rect transform="translate(903.01 149) scale(0.775 1)" x="-283.1" width="284.4" height="1" fill="url(#gb)"/><rect transform="translate(903.01 149) scale(0.943 1)" x="0" width="206" height="1" fill="url(#gb)"/><rect transform="translate(902.45 150) scale(0.776 1)" x="-282.1" width="283.4" height="1" fill="url(#gb)"/><rect transform="translate(902.45 150) scale(0.944 1)" x="0" width="206.3" height="1" fill="url(#gb)"/><rect transform="translate(901.9 151) scale(0.777 1)" x="-281.1" width="282.4" height="1" fill="url(#gb)"/><rect transform="translate(901.9 151) scale(0.945 1)" x="0" width="206.6" height="1" fill="url(#gb)"/><rect transform="translate(901.35 152) scale(0.778 1)" x="-280" width="281.3" height="1" fill="url(#gb)"/><rect transform="translate(901.35 152) scale(0.946 1)" x="0" width="207" height="1" fill="url(#gb)"/><rect transform="translate(900.8 153) scale(0.778 1)" x="-279" width="280.3" height="1" fill="url(#gb)"/><rect transform="translate(900.8 153) scale(0.947 1)" x="0" width="207.3" height="1" fill="url(#gb)"/><rect transform="translate(900.24 154) scale(0.779 1)" x="-278" width="279.3" height="1" fill="url(#gb)"/><rect transform="translate(900.24 154) scale(0.949 1)" x="0" width="207.6" height="1" fill="url(#gb)"/><rect transform="translate(899.69 155) scale(0.78 1)" x="-276.9" width="278.2" height="1" fill="url(#gb)"/><rect transform="translate(899.69 155) scale(0.95 1)" x="0" width="208" height="1" fill="url(#gb)"/><rect transform="translate(899.14 156) scale(0.781 1)" x="-275.9" width="277.2" height="1" fill="url(#gb)"/><rect transform="translate(899.14 156) scale(0.951 1)" x="0" width="208.3" height="1" fill="url(#gb)"/><rect transform="translate(898.59 157) scale(0.782 1)" x="-274.9" width="276.2" height="1" fill="url(#gb)"/><rect transform="translate(898.59 157) scale(0.952 1)" x="0" width="208.6" height="1" fill="url(#gb)"/><rect transform="translate(898.03 158) scale(0.783 1)" x="-273.9" width="275.2" height="1" fill="url(#gb)"/><rect transform="translate(898.03 158) scale(0.953 1)" x="0" width="209" height="1" fill="url(#gb)"/><rect transform="translate(897.48 159) scale(0.784 1)" x="-272.9" width="274.1" height="1" fill="url(#gb)"/><rect transform="translate(897.48 159) scale(0.954 1)" x="0" width="209.3" height="1" fill="url(#gb)"/><rect transform="translate(896.93 160) scale(0.785 1)" x="-271.9" width="273.1" height="1" fill="url(#gb)"/><rect transform="translate(896.93 160) scale(0.955 1)" x="0" width="209.6" height="1" fill="url(#gb)"/><rect transform="translate(896.38 161) scale(0.786 1)" x="-270.8" width="272.1" height="1" fill="url(#gb)"/><rect transform="translate(896.38 161) scale(0.956 1)" x="0" width="210" height="1" fill="url(#gb)"/><rect transform="translate(895.83 162) scale(0.787 1)" x="-269.8" width="271.1" height="1" fill="url(#gb)"/><rect transform="translate(895.83 162) scale(0.958 1)" x="0" width="210.3" height="1" fill="url(#gb)"/><rect transform="translate(895.28 163) scale(0.787 1)" x="-268.8" width="270.1" height="1" fill="url(#gb)"/><rect transform="translate(895.28 163) scale(0.959 1)" x="0" width="210.6" height="1" fill="url(#gb)"/><rect transform="translate(894.73 164) scale(0.788 1)" x="-267.8" width="269.1" height="1" fill="url(#gb)"/><rect transform="translate(894.73 164) scale(0.96 1)" x="0" width="210.9" height="1" fill="url(#gb)"/><rect transform="translate(894.18 165) scale(0.789 1)" x="-266.8" width="268.1" height="1" fill="url(#gb)"/><rect transform="translate(894.18 165) scale(0.961 1)" x="0" width="211.3" height="1" fill="url(#gb)"/><rect transform="translate(893.63 166) scale(0.79 1)" x="-265.8" width="267.1" height="1" fill="url(#gb)"/><rect transform="translate(893.63 166) scale(0.962 1)" x="0" width="211.6" height="1" fill="url(#gb)"/><rect transform="translate(893.07 167) scale(0.791 1)" x="-264.8" width="266.1" height="1" fill="url(#gb)"/><rect transform="translate(893.07 167) scale(0.963 1)" x="0" width="211.9" height="1" fill="url(#gb)"/><rect transform="translate(892.52 168) scale(0.792 1)" x="-263.8" width="265.1" height="1" fill="url(#gb)"/><rect transform="translate(892.52 168) scale(0.964 1)" x="0" width="212.2" height="1" fill="url(#gb)"/><rect transform="translate(891.98 169) scale(0.793 1)" x="-262.8" width="264.1" height="1" fill="url(#gb)"/><rect transform="translate(891.98 169) scale(0.966 1)" x="0" width="212.6" height="1" fill="url(#gb)"/><rect transform="translate(891.43 170) scale(0.794 1)" x="-261.9" width="263.1" height="1" fill="url(#gb)"/><rect transform="translate(891.43 170) scale(0.967 1)" x="0" width="212.9" height="1" fill="url(#gb)"/><rect transform="translate(890.88 171) scale(0.795 1)" x="-260.9" width="262.1" height="1" fill="url(#gb)"/><rect transform="translate(890.88 171) scale(0.968 1)" x="0" width="213.2" height="1" fill="url(#gb)"/><rect transform="translate(890.33 172) scale(0.795 1)" x="-259.9" width="261.1" height="1" fill="url(#gb)"/><rect transform="translate(890.33 172) scale(0.969 1)" x="0" width="213.5" height="1" fill="url(#gb)"/><rect transform="translate(889.78 173) scale(0.796 1)" x="-258.9" width="260.2" height="1" fill="url(#gb)"/><rect transform="translate(889.78 173) scale(0.97 1)" x="0" width="213.8" height="1" fill="url(#gb)"/><rect transform="translate(889.23 174) scale(0.797 1)" x="-257.9" width="259.2" height="1" fill="url(#gb)"/><rect transform="translate(889.23 174) scale(0.971 1)" x="0" width="214.1" height="1" fill="url(#gb)"/><rect transform="translate(888.68 175) scale(0.798 1)" x="-257" width="258.2" height="1" fill="url(#gb)"/><rect transform="translate(888.68 175) scale(0.972 1)" x="0" width="214.5" height="1" fill="url(#gb)"/><rect transform="translate(888.13 176) scale(0.799 1)" x="-256" width="257.2" height="1" fill="url(#gb)"/><rect transform="translate(888.13 176) scale(0.973 1)" x="0" width="214.8" height="1" fill="url(#gb)"/><rect transform="translate(887.58 177) scale(0.8 1)" x="-255" width="256.3" height="1" fill="url(#gb)"/><rect transform="translate(887.58 177) scale(0.975 1)" x="0" width="215.1" height="1" fill="url(#gb)"/><rect transform="translate(887.04 178) scale(0.801 1)" x="-254" width="255.3" height="1" fill="url(#gb)"/><rect transform="translate(887.04 178) scale(0.976 1)" x="0" width="215.4" height="1" fill="url(#gb)"/><rect transform="translate(886.49 179) scale(0.802 1)" x="-253.1" width="254.3" height="1" fill="url(#gb)"/><rect transform="translate(886.49 179) scale(0.977 1)" x="0" width="215.7" height="1" fill="url(#gb)"/><rect transform="translate(885.94 180) scale(0.803 1)" x="-252.1" width="253.4" height="1" fill="url(#gb)"/><rect transform="translate(885.94 180) scale(0.978 1)" x="0" width="216" height="1" fill="url(#gb)"/><rect transform="translate(885.39 181) scale(0.803 1)" x="-251.1" width="252.4" height="1" fill="url(#gb)"/><rect transform="translate(885.39 181) scale(0.979 1)" x="0" width="216.3" height="1" fill="url(#gb)"/><rect transform="translate(884.85 182) scale(0.804 1)" x="-250.2" width="251.4" height="1" fill="url(#gb)"/><rect transform="translate(884.85 182) scale(0.98 1)" x="0" width="216.6" height="1" fill="url(#gb)"/><rect transform="translate(884.3 183) scale(0.805 1)" x="-249.2" width="250.5" height="1" fill="url(#gb)"/><rect transform="translate(884.3 183) scale(0.981 1)" x="0" width="216.9" height="1" fill="url(#gb)"/><rect transform="translate(883.75 184) scale(0.806 1)" x="-248.3" width="249.5" height="1" fill="url(#gb)"/><rect transform="translate(883.75 184) scale(0.982 1)" x="0" width="217.3" height="1" fill="url(#gb)"/><rect transform="translate(883.2 185) scale(0.807 1)" x="-247.3" width="248.6" height="1" fill="url(#gb)"/><rect transform="translate(883.2 185) scale(0.984 1)" x="0" width="217.6" height="1" fill="url(#gb)"/><rect transform="translate(882.66 186) scale(0.808 1)" x="-246.4" width="247.6" height="1" fill="url(#gb)"/><rect transform="translate(882.66 186) scale(0.985 1)" x="0" width="217.9" height="1" fill="url(#gb)"/><rect transform="translate(882.11 187) scale(0.809 1)" x="-245.4" width="246.7" height="1" fill="url(#gb)"/><rect transform="translate(882.11 187) scale(0.986 1)" x="0" width="218.2" height="1" fill="url(#gb)"/><rect transform="translate(881.57 188) scale(0.81 1)" x="-244.5" width="245.7" height="1" fill="url(#gb)"/><rect transform="translate(881.57 188) scale(0.987 1)" x="0" width="218.5" height="1" fill="url(#gb)"/><rect transform="translate(881.02 189) scale(0.811 1)" x="-243.5" width="244.8" height="1" fill="url(#gb)"/><rect transform="translate(881.02 189) scale(0.988 1)" x="0" width="218.8" height="1" fill="url(#gb)"/><rect transform="translate(880.47 190) scale(0.812 1)" x="-242.6" width="243.8" height="1" fill="url(#gb)"/><rect transform="translate(880.47 190) scale(0.989 1)" x="0" width="219.1" height="1" fill="url(#gb)"/><rect transform="translate(879.93 191) scale(0.812 1)" x="-241.7" width="242.9" height="1" fill="url(#gb)"/><rect transform="translate(879.93 191) scale(0.99 1)" x="0" width="219.4" height="1" fill="url(#gb)"/><rect transform="translate(879.38 192) scale(0.813 1)" x="-240.7" width="242" height="1" fill="url(#gb)"/><rect transform="translate(879.38 192) scale(0.992 1)" x="0" width="219.7" height="1" fill="url(#gb)"/><rect transform="translate(878.84 193) scale(0.814 1)" x="-239.8" width="241" height="1" fill="url(#gb)"/><rect transform="translate(878.84 193) scale(0.993 1)" x="0" width="220" height="1" fill="url(#gb)"/><rect transform="translate(878.29 194) scale(0.815 1)" x="-238.9" width="240.1" height="1" fill="url(#gb)"/><rect transform="translate(878.29 194) scale(0.994 1)" x="0" width="220.3" height="1" fill="url(#gb)"/><rect transform="translate(877.75 195) scale(0.816 1)" x="-237.9" width="239.2" height="1" fill="url(#gb)"/><rect transform="translate(877.75 195) scale(0.995 1)" x="0" width="220.6" height="1" fill="url(#gb)"/><rect transform="translate(877.2 196) scale(0.817 1)" x="-237" width="238.2" height="1" fill="url(#gb)"/><rect transform="translate(877.2 196) scale(0.996 1)" x="0" width="220.9" height="1" fill="url(#gb)"/><rect transform="translate(876.66 197) scale(0.818 1)" x="-236.1" width="237.3" height="1" fill="url(#gb)"/><rect transform="translate(876.66 197) scale(0.997 1)" x="0" width="221.2" height="1" fill="url(#gb)"/><rect transform="translate(876.12 198) scale(0.819 1)" x="-235.2" width="236.4" height="1" fill="url(#gb)"/><rect transform="translate(876.12 198) scale(0.998 1)" x="0" width="221.5" height="1" fill="url(#gb)"/><rect transform="translate(875.57 199) scale(0.82 1)" x="-234.2" width="235.5" height="1" fill="url(#gb)"/><rect transform="translate(875.57 199) scale(0.999 1)" x="0" width="221.8" height="1" fill="url(#gb)"/><rect transform="translate(875.03 200) scale(0.821 1)" x="-233.3" width="234.5" height="1" fill="url(#gb)"/><rect transform="translate(875.03 200) scale(1 1)" x="0" width="222.2" height="1" fill="url(#gb)"/><rect transform="translate(874.48 201) scale(0.822 1)" x="-232.3" width="233.5" height="1" fill="url(#gb)"/><rect transform="translate(874.48 201) scale(1 1)" x="0" width="222.7" height="1" fill="url(#gb)"/><rect transform="translate(873.94 202) scale(0.823 1)" x="-231.3" width="232.5" height="1" fill="url(#gb)"/><rect transform="translate(873.94 202) scale(1 1)" x="0" width="223.3" height="1" fill="url(#gb)"/><rect transform="translate(873.4 203) scale(0.824 1)" x="-230.3" width="231.5" height="1" fill="url(#gb)"/><rect transform="translate(873.4 203) scale(1 1)" x="0" width="223.8" height="1" fill="url(#gb)"/><rect transform="translate(872.86 204) scale(0.825 1)" x="-229.3" width="230.5" height="1" fill="url(#gb)"/><rect transform="translate(872.86 204) scale(1 1)" x="0" width="224.3" height="1" fill="url(#gb)"/><rect transform="translate(872.31 205) scale(0.827 1)" x="-228.3" width="229.5" height="1" fill="url(#gb)"/><rect transform="translate(872.31 205) scale(1 1)" x="0" width="224.9" height="1" fill="url(#gb)"/><rect transform="translate(871.77 206) scale(0.828 1)" x="-227.3" width="228.5" height="1" fill="url(#gb)"/><rect transform="translate(871.77 206) scale(1 1)" x="0" width="225.4" height="1" fill="url(#gb)"/><rect transform="translate(871.23 207) scale(0.829 1)" x="-226.4" width="227.6" height="1" fill="url(#gb)"/><rect transform="translate(871.23 207) scale(1 1)" x="0" width="226" height="1" fill="url(#gb)"/><rect transform="translate(870.69 208) scale(0.83 1)" x="-225.4" width="226.6" height="1" fill="url(#gb)"/><rect transform="translate(870.69 208) scale(1 1)" x="0" width="226.5" height="1" fill="url(#gb)"/><rect transform="translate(870.14 209) scale(0.831 1)" x="-224.4" width="225.6" height="1" fill="url(#gb)"/><rect transform="translate(870.14 209) scale(1 1)" x="0" width="227.1" height="1" fill="url(#gb)"/><rect transform="translate(869.6 210) scale(0.832 1)" x="-223.4" width="224.6" height="1" fill="url(#gb)"/><rect transform="translate(869.6 210) scale(1 1)" x="0" width="227.6" height="1" fill="url(#gb)"/><rect transform="translate(869.06 211) scale(0.834 1)" x="-222.5" width="223.7" height="1" fill="url(#gb)"/><rect transform="translate(869.06 211) scale(1 1)" x="0" width="228.1" height="1" fill="url(#gb)"/><rect transform="translate(868.52 212) scale(0.835 1)" x="-221.5" width="222.7" height="1" fill="url(#gb)"/><rect transform="translate(868.52 212) scale(1 1)" x="0" width="228.7" height="1" fill="url(#gb)"/><rect transform="translate(867.98 213) scale(0.836 1)" x="-220.6" width="221.7" height="1" fill="url(#gb)"/><rect transform="translate(867.98 213) scale(1 1)" x="0" width="229.2" height="1" fill="url(#gb)"/><rect transform="translate(867.44 214) scale(0.837 1)" x="-219.6" width="220.8" height="1" fill="url(#gb)"/><rect transform="translate(867.44 214) scale(1 1)" x="0" width="229.8" height="1" fill="url(#gb)"/><rect transform="translate(866.9 215) scale(0.838 1)" x="-218.6" width="219.8" height="1" fill="url(#gb)"/><rect transform="translate(866.9 215) scale(1 1)" x="0" width="230.3" height="1" fill="url(#gb)"/><rect transform="translate(866.35 216) scale(0.84 1)" x="-217.7" width="218.9" height="1" fill="url(#gb)"/><rect transform="translate(866.35 216) scale(1 1)" x="0" width="230.8" height="1" fill="url(#gb)"/><rect transform="translate(865.81 217) scale(0.841 1)" x="-216.7" width="217.9" height="1" fill="url(#gb)"/><rect transform="translate(865.81 217) scale(1 1)" x="0" width="231.4" height="1" fill="url(#gb)"/><rect transform="translate(865.27 218) scale(0.842 1)" x="-215.8" width="217" height="1" fill="url(#gb)"/><rect transform="translate(865.27 218) scale(1 1)" x="0" width="231.9" height="1" fill="url(#gb)"/><rect transform="translate(864.73 219) scale(0.843 1)" x="-214.8" width="216" height="1" fill="url(#gb)"/><rect transform="translate(864.73 219) scale(1 1)" x="0" width="232.5" height="1" fill="url(#gb)"/><rect transform="translate(864.19 220) scale(0.844 1)" x="-213.9" width="215.1" height="1" fill="url(#gb)"/><rect transform="translate(864.19 220) scale(1 1)" x="0" width="233" height="1" fill="url(#gb)"/><rect transform="translate(863.65 221) scale(0.845 1)" x="-213" width="214.1" height="1" fill="url(#gb)"/><rect transform="translate(863.65 221) scale(1 1)" x="0" width="233.5" height="1" fill="url(#gb)"/><rect transform="translate(863.11 222) scale(0.847 1)" x="-212" width="213.2" height="1" fill="url(#gb)"/><rect transform="translate(863.11 222) scale(1 1)" x="0" width="234.1" height="1" fill="url(#gb)"/><rect transform="translate(862.58 223) scale(0.848 1)" x="-211.1" width="212.3" height="1" fill="url(#gb)"/><rect transform="translate(862.58 223) scale(1 1)" x="0" width="234.6" height="1" fill="url(#gb)"/><rect transform="translate(862.04 224) scale(0.849 1)" x="-210.2" width="211.3" height="1" fill="url(#gb)"/><rect transform="translate(862.04 224) scale(1 1)" x="0" width="235.2" height="1" fill="url(#gb)"/><rect transform="translate(861.5 225) scale(0.85 1)" x="-209.2" width="210.4" height="1" fill="url(#gb)"/><rect transform="translate(861.5 225) scale(1 1)" x="0" width="235.7" height="1" fill="url(#gb)"/><rect transform="translate(860.96 226) scale(0.851 1)" x="-208.3" width="209.5" height="1" fill="url(#gb)"/><rect transform="translate(860.96 226) scale(1 1)" x="0" width="236.2" height="1" fill="url(#gb)"/><rect transform="translate(860.42 227) scale(0.853 1)" x="-207.4" width="208.6" height="1" fill="url(#gb)"/><rect transform="translate(860.42 227) scale(1 1)" x="0" width="236.8" height="1" fill="url(#gb)"/><rect transform="translate(859.88 228) scale(0.854 1)" x="-206.5" width="207.7" height="1" fill="url(#gb)"/><rect transform="translate(859.88 228) scale(1 1)" x="0" width="237.3" height="1" fill="url(#gb)"/><rect transform="translate(859.34 229) scale(0.855 1)" x="-205.6" width="206.7" height="1" fill="url(#gb)"/><rect transform="translate(859.34 229) scale(1 1)" x="0" width="237.9" height="1" fill="url(#gb)"/><rect transform="translate(858.81 230) scale(0.856 1)" x="-204.7" width="205.8" height="1" fill="url(#gb)"/><rect transform="translate(858.81 230) scale(1 1)" x="0" width="238.4" height="1" fill="url(#gb)"/><rect transform="translate(858.27 231) scale(0.857 1)" x="-203.7" width="204.9" height="1" fill="url(#gb)"/><rect transform="translate(858.27 231) scale(1 1)" x="0" width="238.9" height="1" fill="url(#gb)"/><rect transform="translate(857.73 232) scale(0.858 1)" x="-202.8" width="204" height="1" fill="url(#gb)"/><rect transform="translate(857.73 232) scale(1 1)" x="0" width="239.5" height="1" fill="url(#gb)"/><rect transform="translate(857.19 233) scale(0.86 1)" x="-201.9" width="203.1" height="1" fill="url(#gb)"/><rect transform="translate(857.19 233) scale(1 1)" x="0" width="240" height="1" fill="url(#gb)"/><rect transform="translate(856.66 234) scale(0.861 1)" x="-201" width="202.2" height="1" fill="url(#gb)"/><rect transform="translate(856.66 234) scale(1 1)" x="0" width="240.5" height="1" fill="url(#gb)"/><rect transform="translate(856.12 235) scale(0.862 1)" x="-200.1" width="201.3" height="1" fill="url(#gb)"/><rect transform="translate(856.12 235) scale(1 1)" x="0" width="241.1" height="1" fill="url(#gb)"/><rect transform="translate(855.58 236) scale(0.863 1)" x="-199.2" width="200.4" height="1" fill="url(#gb)"/><rect transform="translate(855.58 236) scale(1 1)" x="0" width="241.6" height="1" fill="url(#gb)"/><rect transform="translate(855.05 237) scale(0.864 1)" x="-198.3" width="199.5" height="1" fill="url(#gb)"/><rect transform="translate(855.05 237) scale(1 1)" x="0" width="242.2" height="1" fill="url(#gb)"/><rect transform="translate(854.51 238) scale(0.866 1)" x="-197.4" width="198.6" height="1" fill="url(#gb)"/><rect transform="translate(854.51 238) scale(1 1)" x="0" width="242.7" height="1" fill="url(#gb)"/><rect transform="translate(853.97 239) scale(0.867 1)" x="-196.6" width="197.7" height="1" fill="url(#gb)"/><rect transform="translate(853.97 239) scale(1 1)" x="0" width="243.2" height="1" fill="url(#gb)"/><rect transform="translate(853.44 240) scale(0.868 1)" x="-195.7" width="196.8" height="1" fill="url(#gb)"/><rect transform="translate(853.44 240) scale(1 1)" x="0" width="243.8" height="1" fill="url(#gb)"/><rect transform="translate(852.9 241) scale(0.869 1)" x="-194.8" width="195.9" height="1" fill="url(#gb)"/><rect transform="translate(852.9 241) scale(1 1)" x="0" width="244.3" height="1" fill="url(#gb)"/><rect transform="translate(852.37 242) scale(0.87 1)" x="-193.9" width="195.1" height="1" fill="url(#gb)"/><rect transform="translate(852.37 242) scale(1 1)" x="0" width="244.8" height="1" fill="url(#gb)"/><rect transform="translate(851.83 243) scale(0.872 1)" x="-193" width="194.2" height="1" fill="url(#gb)"/><rect transform="translate(851.83 243) scale(1 1)" x="0" width="245.4" height="1" fill="url(#gb)"/><rect transform="translate(851.3 244) scale(0.873 1)" x="-192.2" width="193.3" height="1" fill="url(#gb)"/><rect transform="translate(851.3 244) scale(1 1)" x="0" width="245.9" height="1" fill="url(#gb)"/><rect transform="translate(850.76 245) scale(0.874 1)" x="-191.3" width="192.4" height="1" fill="url(#gb)"/><rect transform="translate(850.76 245) scale(1 1)" x="0" width="246.4" height="1" fill="url(#gb)"/><rect transform="translate(850.23 246) scale(0.875 1)" x="-190.4" width="191.6" height="1" fill="url(#gb)"/><rect transform="translate(850.23 246) scale(1 1)" x="0" width="247" height="1" fill="url(#gb)"/><rect transform="translate(849.69 247) scale(0.876 1)" x="-189.5" width="190.7" height="1" fill="url(#gb)"/><rect transform="translate(849.69 247) scale(1 1)" x="0" width="247.5" height="1" fill="url(#gb)"/><rect transform="translate(849.16 248) scale(0.877 1)" x="-188.7" width="189.8" height="1" fill="url(#gb)"/><rect transform="translate(849.16 248) scale(1 1)" x="0" width="248" height="1" fill="url(#gb)"/><rect transform="translate(848.62 249) scale(0.879 1)" x="-187.8" width="189" height="1" fill="url(#gb)"/><rect transform="translate(848.62 249) scale(1 1)" x="0" width="248.6" height="1" fill="url(#gb)"/><rect transform="translate(848.09 250) scale(0.88 1)" x="-187" width="188.1" height="1" fill="url(#gb)"/><rect transform="translate(848.09 250) scale(1 1)" x="0" width="249.1" height="1" fill="url(#gb)"/><rect transform="translate(847.56 251) scale(0.881 1)" x="-186.1" width="187.2" height="1" fill="url(#gb)"/><rect transform="translate(847.56 251) scale(1 1)" x="0" width="249.6" height="1" fill="url(#gb)"/><rect transform="translate(847.02 252) scale(0.882 1)" x="-185.2" width="186.4" height="1" fill="url(#gb)"/><rect transform="translate(847.02 252) scale(1 1)" x="0" width="250.2" height="1" fill="url(#gb)"/><rect transform="translate(846.49 253) scale(0.883 1)" x="-184.4" width="185.5" height="1" fill="url(#gb)"/><rect transform="translate(846.49 253) scale(1 1)" x="0" width="250.7" height="1" fill="url(#gb)"/><rect transform="translate(845.95 254) scale(0.885 1)" x="-183.5" width="184.7" height="1" fill="url(#gb)"/><rect transform="translate(845.95 254) scale(1 1)" x="0" width="251.2" height="1" fill="url(#gb)"/><rect transform="translate(845.42 255) scale(0.886 1)" x="-182.7" width="183.8" height="1" fill="url(#gb)"/><rect transform="translate(845.42 255) scale(1 1)" x="0" width="251.8" height="1" fill="url(#gb)"/><rect transform="translate(844.89 256) scale(0.887 1)" x="-181.9" width="183" height="1" fill="url(#gb)"/><rect transform="translate(844.89 256) scale(1 1)" x="0" width="252.3" height="1" fill="url(#gb)"/><rect transform="translate(844.36 257) scale(0.888 1)" x="-181" width="182.1" height="1" fill="url(#gb)"/><rect transform="translate(844.36 257) scale(1 1)" x="0" width="252.8" height="1" fill="url(#gb)"/><rect transform="translate(843.82 258) scale(0.889 1)" x="-180.2" width="181.3" height="1" fill="url(#gb)"/><rect transform="translate(843.82 258) scale(1 1)" x="0" width="253.4" height="1" fill="url(#gb)"/><rect transform="translate(843.29 259) scale(0.89 1)" x="-179.3" width="180.5" height="1" fill="url(#gb)"/><rect transform="translate(843.29 259) scale(1 1)" x="0" width="253.9" height="1" fill="url(#gb)"/><rect transform="translate(842.76 260) scale(0.892 1)" x="-178.5" width="179.6" height="1" fill="url(#gb)"/><rect transform="translate(842.76 260) scale(1 1)" x="0" width="254.4" height="1" fill="url(#gb)"/><rect transform="translate(842.23 261) scale(0.893 1)" x="-177.7" width="178.8" height="1" fill="url(#gb)"/><rect transform="translate(842.23 261) scale(1 1)" x="0" width="255" height="1" fill="url(#gb)"/><rect transform="translate(841.7 262) scale(0.894 1)" x="-176.8" width="178" height="1" fill="url(#gb)"/><rect transform="translate(841.7 262) scale(1 1)" x="0" width="255.5" height="1" fill="url(#gb)"/><rect transform="translate(841.16 263) scale(0.895 1)" x="-176" width="177.1" height="1" fill="url(#gb)"/><rect transform="translate(841.16 263) scale(1 1)" x="0" width="256" height="1" fill="url(#gb)"/><rect transform="translate(840.63 264) scale(0.896 1)" x="-175.2" width="176.3" height="1" fill="url(#gb)"/><rect transform="translate(840.63 264) scale(1 1)" x="0" width="256.6" height="1" fill="url(#gb)"/><rect transform="translate(840.1 265) scale(0.898 1)" x="-174.4" width="175.5" height="1" fill="url(#gb)"/><rect transform="translate(840.1 265) scale(1 1)" x="0" width="257.1" height="1" fill="url(#gb)"/><rect transform="translate(839.57 266) scale(0.899 1)" x="-173.5" width="174.7" height="1" fill="url(#gb)"/><rect transform="translate(839.57 266) scale(1 1)" x="0" width="257.6" height="1" fill="url(#gb)"/><rect transform="translate(839.04 267) scale(0.9 1)" x="-172.7" width="173.8" height="1" fill="url(#gb)"/><rect transform="translate(839.04 267) scale(1 1)" x="0" width="258.2" height="1" fill="url(#gb)"/><rect transform="translate(838.51 268) scale(0.901 1)" x="-171.9" width="173" height="1" fill="url(#gb)"/><rect transform="translate(838.51 268) scale(1 1)" x="0" width="258.7" height="1" fill="url(#gb)"/><rect transform="translate(837.98 269) scale(0.902 1)" x="-171.1" width="172.2" height="1" fill="url(#gb)"/><rect transform="translate(837.98 269) scale(1 1)" x="0" width="259.2" height="1" fill="url(#gb)"/><rect transform="translate(837.45 270) scale(0.903 1)" x="-170.3" width="171.4" height="1" fill="url(#gb)"/><rect transform="translate(837.45 270) scale(1 1)" x="0" width="259.8" height="1" fill="url(#gb)"/><rect transform="translate(836.92 271) scale(0.905 1)" x="-169.5" width="170.6" height="1" fill="url(#gb)"/><rect transform="translate(836.92 271) scale(1 1)" x="0" width="260.3" height="1" fill="url(#gb)"/><rect transform="translate(836.39 272) scale(0.906 1)" x="-168.7" width="169.8" height="1" fill="url(#gb)"/><rect transform="translate(836.39 272) scale(1 1)" x="0" width="260.8" height="1" fill="url(#gb)"/><rect transform="translate(835.86 273) scale(0.907 1)" x="-167.9" width="169" height="1" fill="url(#gb)"/><rect transform="translate(835.86 273) scale(1 1)" x="0" width="261.3" height="1" fill="url(#gb)"/><rect transform="translate(835.33 274) scale(0.908 1)" x="-167.1" width="168.2" height="1" fill="url(#gb)"/><rect transform="translate(835.33 274) scale(1 1)" x="0" width="261.9" height="1" fill="url(#gb)"/><rect transform="translate(834.8 275) scale(0.909 1)" x="-166.3" width="167.4" height="1" fill="url(#gb)"/><rect transform="translate(834.8 275) scale(1 1)" x="0" width="262.4" height="1" fill="url(#gb)"/><rect transform="translate(834.27 276) scale(0.911 1)" x="-165.5" width="166.6" height="1" fill="url(#gb)"/><rect transform="translate(834.27 276) scale(1 1)" x="0" width="262.9" height="1" fill="url(#gb)"/><rect transform="translate(833.74 277) scale(0.912 1)" x="-164.7" width="165.8" height="1" fill="url(#gb)"/><rect transform="translate(833.74 277) scale(1 1)" x="0" width="263.5" height="1" fill="url(#gb)"/><rect transform="translate(833.22 278) scale(0.913 1)" x="-163.9" width="165" height="1" fill="url(#gb)"/><rect transform="translate(833.22 278) scale(1 1)" x="0" width="264" height="1" fill="url(#gb)"/><rect transform="translate(832.69 279) scale(0.914 1)" x="-163.1" width="164.2" height="1" fill="url(#gb)"/><rect transform="translate(832.69 279) scale(1 1)" x="0" width="264.5" height="1" fill="url(#gb)"/><rect transform="translate(832.16 280) scale(0.915 1)" x="-162.3" width="163.4" height="1" fill="url(#gb)"/><rect transform="translate(832.16 280) scale(1 1)" x="0" width="265" height="1" fill="url(#gb)"/><rect transform="translate(831.63 281) scale(0.917 1)" x="-161.5" width="162.6" height="1" fill="url(#gb)"/><rect transform="translate(831.63 281) scale(1 1)" x="0" width="265.6" height="1" fill="url(#gb)"/><rect transform="translate(831.1 282) scale(0.918 1)" x="-160.7" width="161.8" height="1" fill="url(#gb)"/><rect transform="translate(831.1 282) scale(1 1)" x="0" width="266.1" height="1" fill="url(#gb)"/><rect transform="translate(830.58 283) scale(0.919 1)" x="-160" width="161" height="1" fill="url(#gb)"/><rect transform="translate(830.58 283) scale(1 1)" x="0" width="266.6" height="1" fill="url(#gb)"/><rect transform="translate(830.05 284) scale(0.92 1)" x="-159.2" width="160.3" height="1" fill="url(#gb)"/><rect transform="translate(830.05 284) scale(1 1)" x="0" width="267.2" height="1" fill="url(#gb)"/><rect transform="translate(829.52 285) scale(0.921 1)" x="-158.4" width="159.5" height="1" fill="url(#gb)"/><rect transform="translate(829.52 285) scale(1 1)" x="0" width="267.7" height="1" fill="url(#gb)"/><rect transform="translate(828.99 286) scale(0.922 1)" x="-157.6" width="158.7" height="1" fill="url(#gb)"/><rect transform="translate(828.99 286) scale(1 1)" x="0" width="268.2" height="1" fill="url(#gb)"/><rect transform="translate(828.47 287) scale(0.924 1)" x="-156.8" width="157.9" height="1" fill="url(#gb)"/><rect transform="translate(828.47 287) scale(1 1)" x="0" width="268.7" height="1" fill="url(#gb)"/><rect transform="translate(827.94 288) scale(0.925 1)" x="-156.1" width="157.2" height="1" fill="url(#gb)"/><rect transform="translate(827.94 288) scale(1 1)" x="0" width="269.3" height="1" fill="url(#gb)"/><rect transform="translate(827.41 289) scale(0.926 1)" x="-155.3" width="156.4" height="1" fill="url(#gb)"/><rect transform="translate(827.41 289) scale(1 1)" x="0" width="269.8" height="1" fill="url(#gb)"/><rect transform="translate(826.89 290) scale(0.927 1)" x="-154.5" width="155.6" height="1" fill="url(#gb)"/><rect transform="translate(826.89 290) scale(1 1)" x="0" width="270.3" height="1" fill="url(#gb)"/><rect transform="translate(826.36 291) scale(0.928 1)" x="-153.8" width="154.9" height="1" fill="url(#gb)"/><rect transform="translate(826.36 291) scale(1 1)" x="0" width="270.8" height="1" fill="url(#gb)"/><rect transform="translate(825.84 292) scale(0.93 1)" x="-153" width="154.1" height="1" fill="url(#gb)"/><rect transform="translate(825.84 292) scale(1 1)" x="0" width="271.4" height="1" fill="url(#gb)"/><rect transform="translate(825.31 293) scale(0.931 1)" x="-152.3" width="153.3" height="1" fill="url(#gb)"/><rect transform="translate(825.31 293) scale(1 1)" x="0" width="271.9" height="1" fill="url(#gb)"/><rect transform="translate(824.79 294) scale(0.932 1)" x="-151.5" width="152.6" height="1" fill="url(#gb)"/><rect transform="translate(824.79 294) scale(1 1)" x="0" width="272.4" height="1" fill="url(#gb)"/><rect transform="translate(824.26 295) scale(0.933 1)" x="-150.7" width="151.8" height="1" fill="url(#gb)"/><rect transform="translate(824.26 295) scale(1 1)" x="0" width="272.9" height="1" fill="url(#gb)"/><rect transform="translate(823.73 296) scale(0.934 1)" x="-150" width="151.1" height="1" fill="url(#gb)"/><rect transform="translate(823.73 296) scale(1 1)" x="0" width="273.5" height="1" fill="url(#gb)"/><rect transform="translate(823.21 297) scale(0.935 1)" x="-149.2" width="150.3" height="1" fill="url(#gb)"/><rect transform="translate(823.21 297) scale(1 1)" x="0" width="274" height="1" fill="url(#gb)"/><rect transform="translate(822.69 298) scale(0.937 1)" x="-148.5" width="149.6" height="1" fill="url(#gb)"/><rect transform="translate(822.69 298) scale(1 1)" x="0" width="274.5" height="1" fill="url(#gb)"/><rect transform="translate(822.16 299) scale(0.938 1)" x="-147.7" width="148.8" height="1" fill="url(#gb)"/><rect transform="translate(822.16 299) scale(1 1)" x="0" width="275" height="1" fill="url(#gb)"/><rect transform="translate(821.64 300) scale(0.939 1)" x="-147" width="148.1" height="1" fill="url(#gb)"/><rect transform="translate(821.64 300) scale(1 1)" x="0" width="275.6" height="1" fill="url(#gb)"/><rect transform="translate(821.11 301) scale(0.94 1)" x="-146.3" width="147.3" height="1" fill="url(#gb)"/><rect transform="translate(821.11 301) scale(1 1)" x="0" width="276.1" height="1" fill="url(#gb)"/><rect transform="translate(820.59 302) scale(0.941 1)" x="-145.5" width="146.6" height="1" fill="url(#gb)"/><rect transform="translate(820.59 302) scale(1 1)" x="0" width="276.6" height="1" fill="url(#gb)"/><rect transform="translate(820.06 303) scale(0.943 1)" x="-144.8" width="145.8" height="1" fill="url(#gb)"/><rect transform="translate(820.06 303) scale(1 1)" x="0" width="277.1" height="1" fill="url(#gb)"/><rect transform="translate(819.54 304) scale(0.944 1)" x="-144" width="145.1" height="1" fill="url(#gb)"/><rect transform="translate(819.54 304) scale(1 1)" x="0" width="277.7" height="1" fill="url(#gb)"/><rect transform="translate(819.02 305) scale(0.945 1)" x="-143.3" width="144.4" height="1" fill="url(#gb)"/><rect transform="translate(819.02 305) scale(1 1)" x="0" width="278.2" height="1" fill="url(#gb)"/><rect transform="translate(818.5 306) scale(0.946 1)" x="-142.6" width="143.6" height="1" fill="url(#gb)"/><rect transform="translate(818.5 306) scale(1 1)" x="0" width="278.7" height="1" fill="url(#gb)"/><rect transform="translate(817.97 307) scale(0.947 1)" x="-141.8" width="142.9" height="1" fill="url(#gb)"/><rect transform="translate(817.97 307) scale(1 1)" x="0" width="279.2" height="1" fill="url(#gb)"/><rect transform="translate(817.45 308) scale(0.948 1)" x="-141.1" width="142.2" height="1" fill="url(#gb)"/><rect transform="translate(817.45 308) scale(1 1)" x="0" width="279.8" height="1" fill="url(#gb)"/><rect transform="translate(816.93 309) scale(0.95 1)" x="-140.4" width="141.4" height="1" fill="url(#gb)"/><rect transform="translate(816.93 309) scale(1 1)" x="0" width="280.3" height="1" fill="url(#gb)"/><rect transform="translate(816.4 310) scale(0.951 1)" x="-139.7" width="140.7" height="1" fill="url(#gb)"/><rect transform="translate(816.4 310) scale(1 1)" x="0" width="280.8" height="1" fill="url(#gb)"/><rect transform="translate(815.88 311) scale(0.952 1)" x="-138.9" width="140" height="1" fill="url(#gb)"/><rect transform="translate(815.88 311) scale(1 1)" x="0" width="281.3" height="1" fill="url(#gb)"/><rect transform="translate(815.36 312) scale(0.953 1)" x="-138.2" width="139.3" height="1" fill="url(#gb)"/><rect transform="translate(815.36 312) scale(1 1)" x="0" width="281.8" height="1" fill="url(#gb)"/><rect transform="translate(814.84 313) scale(0.954 1)" x="-137.5" width="138.6" height="1" fill="url(#gb)"/><rect transform="translate(814.84 313) scale(1 1)" x="0" width="282.4" height="1" fill="url(#gb)"/><rect transform="translate(814.32 314) scale(0.956 1)" x="-136.8" width="137.8" height="1" fill="url(#gb)"/><rect transform="translate(814.32 314) scale(1 1)" x="0" width="282.9" height="1" fill="url(#gb)"/><rect transform="translate(813.8 315) scale(0.957 1)" x="-136.1" width="137.1" height="1" fill="url(#gb)"/><rect transform="translate(813.8 315) scale(1 1)" x="0" width="283.4" height="1" fill="url(#gb)"/><rect transform="translate(813.27 316) scale(0.958 1)" x="-135.4" width="136.4" height="1" fill="url(#gb)"/><rect transform="translate(813.27 316) scale(1 1)" x="0" width="283.9" height="1" fill="url(#gb)"/><rect transform="translate(812.75 317) scale(0.959 1)" x="-134.7" width="135.7" height="1" fill="url(#gb)"/><rect transform="translate(812.75 317) scale(1 1)" x="0" width="284.4" height="1" fill="url(#gb)"/><rect transform="translate(812.23 318) scale(0.96 1)" x="-133.9" width="135" height="1" fill="url(#gb)"/><rect transform="translate(812.23 318) scale(1 1)" x="0" width="285" height="1" fill="url(#gb)"/><rect transform="translate(811.71 319) scale(0.962 1)" x="-133.2" width="134.3" height="1" fill="url(#gb)"/><rect transform="translate(811.71 319) scale(1 1)" x="0" width="285.5" height="1" fill="url(#gb)"/><rect transform="translate(811.19 320) scale(0.963 1)" x="-132.5" width="133.6" height="1" fill="url(#gb)"/><rect transform="translate(811.19 320) scale(1 1)" x="0" width="286" height="1" fill="url(#gb)"/><rect transform="translate(810.67 321) scale(0.964 1)" x="-131.8" width="132.9" height="1" fill="url(#gb)"/><rect transform="translate(810.67 321) scale(1 1)" x="0" width="286.5" height="1" fill="url(#gb)"/><rect transform="translate(810.15 322) scale(0.965 1)" x="-131.1" width="132.2" height="1" fill="url(#gb)"/><rect transform="translate(810.15 322) scale(1 1)" x="0" width="287" height="1" fill="url(#gb)"/><rect transform="translate(809.63 323) scale(0.966 1)" x="-130.4" width="131.5" height="1" fill="url(#gb)"/><rect transform="translate(809.63 323) scale(1 1)" x="0" width="287.6" height="1" fill="url(#gb)"/><rect transform="translate(809.11 324) scale(0.967 1)" x="-129.7" width="130.8" height="1" fill="url(#gb)"/><rect transform="translate(809.11 324) scale(1 1)" x="0" width="288.1" height="1" fill="url(#gb)"/><rect transform="translate(808.59 325) scale(0.969 1)" x="-129" width="130.1" height="1" fill="url(#gb)"/><rect transform="translate(808.59 325) scale(1 1)" x="0" width="288.6" height="1" fill="url(#gb)"/><rect transform="translate(808.07 326) scale(0.97 1)" x="-128.3" width="129.4" height="1" fill="url(#gb)"/><rect transform="translate(808.07 326) scale(1 1)" x="0" width="289.1" height="1" fill="url(#gb)"/><rect transform="translate(807.55 327) scale(0.971 1)" x="-127.7" width="128.7" height="1" fill="url(#gb)"/><rect transform="translate(807.55 327) scale(1 1)" x="0" width="289.6" height="1" fill="url(#gb)"/><rect transform="translate(807.04 328) scale(0.972 1)" x="-127" width="128" height="1" fill="url(#gb)"/><rect transform="translate(807.04 328) scale(1 1)" x="0" width="290.2" height="1" fill="url(#gb)"/><rect transform="translate(806.52 329) scale(0.973 1)" x="-126.3" width="127.3" height="1" fill="url(#gb)"/><rect transform="translate(806.52 329) scale(1 1)" x="0" width="290.7" height="1" fill="url(#gb)"/><rect transform="translate(806 330) scale(0.975 1)" x="-125.6" width="126.6" height="1" fill="url(#gb)"/><rect transform="translate(806 330) scale(1 1)" x="0" width="291.2" height="1" fill="url(#gb)"/><rect transform="translate(805.48 331) scale(0.976 1)" x="-124.9" width="125.9" height="1" fill="url(#gb)"/><rect transform="translate(805.48 331) scale(1 1)" x="0" width="291.7" height="1" fill="url(#gb)"/><rect transform="translate(804.96 332) scale(0.977 1)" x="-124.2" width="125.3" height="1" fill="url(#gb)"/><rect transform="translate(804.96 332) scale(1 1)" x="0" width="292.2" height="1" fill="url(#gb)"/><rect transform="translate(804.44 333) scale(0.978 1)" x="-123.6" width="124.6" height="1" fill="url(#gb)"/><rect transform="translate(804.44 333) scale(1 1)" x="0" width="292.8" height="1" fill="url(#gb)"/><rect transform="translate(803.93 334) scale(0.979 1)" x="-122.9" width="123.9" height="1" fill="url(#gb)"/><rect transform="translate(803.93 334) scale(1 1)" x="0" width="293.3" height="1" fill="url(#gb)"/><rect transform="translate(803.41 335) scale(0.98 1)" x="-122.2" width="123.2" height="1" fill="url(#gb)"/><rect transform="translate(803.41 335) scale(1 1)" x="0" width="293.8" height="1" fill="url(#gb)"/><rect transform="translate(802.89 336) scale(0.982 1)" x="-121.5" width="122.5" height="1" fill="url(#gb)"/><rect transform="translate(802.89 336) scale(1 1)" x="0" width="294.3" height="1" fill="url(#gb)"/><rect transform="translate(802.38 337) scale(0.983 1)" x="-120.9" width="121.9" height="1" fill="url(#gb)"/><rect transform="translate(802.38 337) scale(1 1)" x="0" width="294.8" height="1" fill="url(#gb)"/><rect transform="translate(801.86 338) scale(0.984 1)" x="-120.2" width="121.2" height="1" fill="url(#gb)"/><rect transform="translate(801.86 338) scale(1 1)" x="0" width="295.3" height="1" fill="url(#gb)"/><rect transform="translate(801.34 339) scale(0.985 1)" x="-119.5" width="120.5" height="1" fill="url(#gb)"/><rect transform="translate(801.34 339) scale(1 1)" x="0" width="295.9" height="1" fill="url(#gb)"/><rect transform="translate(800.83 340) scale(0.986 1)" x="-118.8" width="119.9" height="1" fill="url(#gb)"/><rect transform="translate(800.83 340) scale(1 1)" x="0" width="296.4" height="1" fill="url(#gb)"/><rect transform="translate(800.31 341) scale(0.988 1)" x="-118.2" width="119.2" height="1" fill="url(#gb)"/><rect transform="translate(800.31 341) scale(1 1)" x="0" width="296.9" height="1" fill="url(#gb)"/><rect transform="translate(799.79 342) scale(0.989 1)" x="-117.5" width="118.5" height="1" fill="url(#gb)"/><rect transform="translate(799.79 342) scale(1 1)" x="0" width="297.4" height="1" fill="url(#gb)"/><rect transform="translate(799.28 343) scale(0.99 1)" x="-116.9" width="117.9" height="1" fill="url(#gb)"/><rect transform="translate(799.28 343) scale(1 1)" x="0" width="297.9" height="1" fill="url(#gb)"/><rect transform="translate(798.76 344) scale(0.991 1)" x="-116.2" width="117.2" height="1" fill="url(#gb)"/><rect transform="translate(798.76 344) scale(1 1)" x="0" width="298.4" height="1" fill="url(#gb)"/><rect transform="translate(798.25 345) scale(0.992 1)" x="-115.5" width="116.5" height="1" fill="url(#gb)"/><rect transform="translate(798.25 345) scale(1 1)" x="0" width="299" height="1" fill="url(#gb)"/><rect transform="translate(797.73 346) scale(0.993 1)" x="-114.9" width="115.9" height="1" fill="url(#gb)"/><rect transform="translate(797.73 346) scale(1 1)" x="0" width="299.5" height="1" fill="url(#gb)"/><rect transform="translate(797.22 347) scale(0.995 1)" x="-114.2" width="115.2" height="1" fill="url(#gb)"/><rect transform="translate(797.22 347) scale(1 1)" x="0" width="300" height="1" fill="url(#gb)"/><rect transform="translate(796.7 348) scale(0.996 1)" x="-113.6" width="114.6" height="1" fill="url(#gb)"/><rect transform="translate(796.7 348) scale(1 1)" x="0" width="300.5" height="1" fill="url(#gb)"/><rect transform="translate(796.19 349) scale(0.997 1)" x="-112.9" width="113.9" height="1" fill="url(#gb)"/><rect transform="translate(796.19 349) scale(1 1)" x="0" width="301" height="1" fill="url(#gb)"/><rect transform="translate(795.67 350) scale(0.998 1)" x="-112.3" width="113.3" height="1" fill="url(#gb)"/><rect transform="translate(795.67 350) scale(1 1)" x="0" width="301.5" height="1" fill="url(#gb)"/><rect transform="translate(795.16 351) scale(0.999 1)" x="-111.6" width="112.6" height="1" fill="url(#gb)"/><rect transform="translate(795.16 351) scale(1 1)" x="0" width="302" height="1" fill="url(#gb)"/><rect transform="translate(794.64 352) scale(1 1)" x="-111" width="112" height="1" fill="url(#gb)"/><rect transform="translate(794.64 352) scale(1 1)" x="0" width="302.6" height="1" fill="url(#gb)"/><rect transform="translate(794.13 353) scale(1 1)" x="-110.5" width="111.5" height="1" fill="url(#gb)"/><rect transform="translate(794.13 353) scale(1 1)" x="0" width="303.1" height="1" fill="url(#gb)"/><rect transform="translate(793.62 354) scale(1 1)" x="-110" width="111" height="1" fill="url(#gb)"/><rect transform="translate(793.62 354) scale(1 1)" x="0" width="303.6" height="1" fill="url(#gb)"/><rect transform="translate(793.1 355) scale(1 1)" x="-109.5" width="110.5" height="1" fill="url(#gb)"/><rect transform="translate(793.1 355) scale(1 1)" x="0" width="304.1" height="1" fill="url(#gb)"/><rect transform="translate(792.59 356) scale(1 1)" x="-109" width="110" height="1" fill="url(#gb)"/><rect transform="translate(792.59 356) scale(1 1)" x="0" width="304.6" height="1" fill="url(#gb)"/><rect transform="translate(792.08 357) scale(1 1)" x="-108.5" width="109.5" height="1" fill="url(#gb)"/><rect transform="translate(792.08 357) scale(1 1)" x="0" width="305.1" height="1" fill="url(#gb)"/><rect transform="translate(791.56 358) scale(1 1)" x="-108" width="109" height="1" fill="url(#gb)"/><rect transform="translate(791.56 358) scale(1 1)" x="0" width="305.6" height="1" fill="url(#gb)"/><rect transform="translate(791.05 359) scale(1 1)" x="-107.4" width="108.4" height="1" fill="url(#gb)"/><rect transform="translate(791.05 359) scale(1 1)" x="0" width="306.2" height="1" fill="url(#gb)"/><rect transform="translate(790.54 360) scale(1 1)" x="-106.9" width="107.9" height="1" fill="url(#gb)"/><rect transform="translate(790.54 360) scale(1 1)" x="0" width="306.7" height="1" fill="url(#gb)"/><rect transform="translate(790.02 361) scale(1 1)" x="-106.4" width="107.4" height="1" fill="url(#gb)"/><rect transform="translate(790.02 361) scale(1 1)" x="0" width="307.2" height="1" fill="url(#gb)"/><rect transform="translate(789.51 362) scale(1 1)" x="-105.9" width="106.9" height="1" fill="url(#gb)"/><rect transform="translate(789.51 362) scale(1 1)" x="0" width="307.7" height="1" fill="url(#gb)"/><rect transform="translate(789 363) scale(1 1)" x="-105.4" width="106.4" height="1" fill="url(#gb)"/><rect transform="translate(789 363) scale(1 1)" x="0" width="308.2" height="1" fill="url(#gb)"/><rect transform="translate(788.49 364) scale(1 1)" x="-104.9" width="105.9" height="1" fill="url(#gb)"/><rect transform="translate(788.49 364) scale(1 1)" x="0" width="308.7" height="1" fill="url(#gb)"/><rect transform="translate(787.98 365) scale(1 1)" x="-104.4" width="105.4" height="1" fill="url(#gb)"/><rect transform="translate(787.98 365) scale(1 1)" x="0" width="309.2" height="1" fill="url(#gb)"/><rect transform="translate(787.47 366) scale(1 1)" x="-103.9" width="104.9" height="1" fill="url(#gb)"/><rect transform="translate(787.47 366) scale(1 1)" x="0" width="309.7" height="1" fill="url(#gb)"/></g>
<g clip-path="url(#cc)"><rect transform="translate(272.62 453) scale(1.236 1)" x="-127" width="336.3" height="1" fill="url(#gc)"/><rect transform="translate(272.66 454) scale(1.236 1)" x="-127.1" width="336.3" height="1" fill="url(#gc)"/><rect transform="translate(272.7 455) scale(1.236 1)" x="-127.1" width="336.3" height="1" fill="url(#gc)"/><rect transform="translate(272.75 456) scale(1.236 1)" x="-127.2" width="336.3" height="1" fill="url(#gc)"/><rect transform="translate(272.8 457) scale(1.235 1)" x="-127.2" width="336.4" height="1" fill="url(#gc)"/><rect transform="translate(272.85 458) scale(1.235 1)" x="-127.3" width="336.4" height="1" fill="url(#gc)"/><rect transform="translate(272.91 459) scale(1.235 1)" x="-127.4" width="336.5" height="1" fill="url(#gc)"/><rect transform="translate(272.97 460) scale(1.235 1)" x="-127.4" width="336.6" height="1" fill="url(#gc)"/><rect transform="translate(273.03 461) scale(1.235 1)" x="-127.5" width="336.6" height="1" fill="url(#gc)"/><rect transform="translate(273.1 462) scale(1.234 1)" x="-127.6" width="336.7" height="1" fill="url(#gc)"/><rect transform="translate(273.17 463) scale(1.234 1)" x="-127.7" width="336.8" height="1" fill="url(#gc)"/><rect transform="translate(273.24 464) scale(1.234 1)" x="-127.8" width="336.8" height="1" fill="url(#gc)"/><rect transform="translate(273.32 465) scale(1.233 1)" x="-127.9" width="336.9" height="1" fill="url(#gc)"/><rect transform="translate(273.4 466) scale(1.233 1)" x="-128" width="337" height="1" fill="url(#gc)"/><rect transform="translate(273.48 467) scale(1.233 1)" x="-128.1" width="337.1" height="1" fill="url(#gc)"/><rect transform="translate(273.56 468) scale(1.233 1)" x="-128.2" width="337.2" height="1" fill="url(#gc)"/><rect transform="translate(273.65 469) scale(1.232 1)" x="-128.3" width="337.3" height="1" fill="url(#gc)"/><rect transform="translate(273.75 470) scale(1.232 1)" x="-128.4" width="337.4" height="1" fill="url(#gc)"/><rect transform="translate(273.84 471) scale(1.231 1)" x="-128.5" width="337.5" height="1" fill="url(#gc)"/><rect transform="translate(273.94 472) scale(1.231 1)" x="-128.6" width="337.6" height="1" fill="url(#gc)"/><rect transform="translate(274.05 473) scale(1.231 1)" x="-128.8" width="337.7" height="1" fill="url(#gc)"/><rect transform="translate(274.16 474) scale(1.23 1)" x="-128.9" width="337.9" height="1" fill="url(#gc)"/><rect transform="translate(274.27 475) scale(1.229 1)" x="-129.1" width="338.1" height="1" fill="url(#gc)"/><rect transform="translate(274.38 476) scale(1.229 1)" x="-129.2" width="338.2" height="1" fill="url(#gc)"/><rect transform="translate(274.5 477) scale(1.228 1)" x="-129.4" width="338.4" height="1" fill="url(#gc)"/><rect transform="translate(274.62 478) scale(1.227 1)" x="-129.6" width="338.6" height="1" fill="url(#gc)"/><rect transform="translate(274.75 479) scale(1.227 1)" x="-129.7" width="338.8" height="1" fill="url(#gc)"/><rect transform="translate(274.88 480) scale(1.226 1)" x="-129.9" width="339" height="1" fill="url(#gc)"/><rect transform="translate(275.01 481) scale(1.225 1)" x="-130.1" width="339.2" height="1" fill="url(#gc)"/><rect transform="translate(275.15 482) scale(1.224 1)" x="-130.3" width="339.5" height="1" fill="url(#gc)"/><rect transform="translate(275.29 483) scale(1.223 1)" x="-130.5" width="339.7" height="1" fill="url(#gc)"/><rect transform="translate(275.44 484) scale(1.222 1)" x="-130.8" width="340" height="1" fill="url(#gc)"/><rect transform="translate(275.59 485) scale(1.221 1)" x="-131" width="340.3" height="1" fill="url(#gc)"/><rect transform="translate(275.74 486) scale(1.22 1)" x="-131.2" width="340.5" height="1" fill="url(#gc)"/><rect transform="translate(275.9 487) scale(1.219 1)" x="-131.5" width="340.8" height="1" fill="url(#gc)"/><rect transform="translate(276.06 488) scale(1.218 1)" x="-131.7" width="341.1" height="1" fill="url(#gc)"/><rect transform="translate(276.23 489) scale(1.217 1)" x="-132" width="341.4" height="1" fill="url(#gc)"/><rect transform="translate(276.4 490) scale(1.216 1)" x="-132.2" width="341.7" height="1" fill="url(#gc)"/><rect transform="translate(276.57 491) scale(1.215 1)" x="-132.5" width="342.1" height="1" fill="url(#gc)"/><rect transform="translate(276.75 492) scale(1.214 1)" x="-132.8" width="342.4" height="1" fill="url(#gc)"/><rect transform="translate(276.93 493) scale(1.213 1)" x="-133.1" width="342.7" height="1" fill="url(#gc)"/><rect transform="translate(277.12 494) scale(1.211 1)" x="-133.3" width="343.1" height="1" fill="url(#gc)"/><rect transform="translate(277.31 495) scale(1.21 1)" x="-133.6" width="343.5" height="1" fill="url(#gc)"/><rect transform="translate(277.51 496) scale(1.209 1)" x="-133.9" width="343.8" height="1" fill="url(#gc)"/><rect transform="translate(277.71 497) scale(1.207 1)" x="-134.3" width="344.2" height="1" fill="url(#gc)"/><rect transform="translate(277.91 498) scale(1.206 1)" x="-134.6" width="344.6" height="1" fill="url(#gc)"/><rect transform="translate(278.12 499) scale(1.205 1)" x="-134.9" width="345" height="1" fill="url(#gc)"/><rect transform="translate(278.34 500) scale(1.203 1)" x="-135.2" width="345.3" height="1" fill="url(#gc)"/><rect transform="translate(278.56 501) scale(1.202 1)" x="-135.6" width="345.7" height="1" fill="url(#gc)"/><rect transform="translate(278.78 502) scale(1.201 1)" x="-135.9" width="346.1" height="1" fill="url(#gc)"/><rect transform="translate(279.01 503) scale(1.199 1)" x="-136.3" width="346.6" height="1" fill="url(#gc)"/><rect transform="translate(279.24 504) scale(1.198 1)" x="-136.6" width="347" height="1" fill="url(#gc)"/><rect transform="translate(279.48 505) scale(1.196 1)" x="-137" width="347.4" height="1" fill="url(#gc)"/><rect transform="translate(279.72 506) scale(1.195 1)" x="-137.3" width="347.8" height="1" fill="url(#gc)"/><rect transform="translate(279.96 507) scale(1.193 1)" x="-137.7" width="348.2" height="1" fill="url(#gc)"/><rect transform="translate(280.21 508) scale(1.192 1)" x="-138.1" width="348.7" height="1" fill="url(#gc)"/><rect transform="translate(280.47 509) scale(1.19 1)" x="-138.5" width="349.1" height="1" fill="url(#gc)"/><rect transform="translate(280.73 510) scale(1.189 1)" x="-138.9" width="349.6" height="1" fill="url(#gc)"/><rect transform="translate(281 511) scale(1.187 1)" x="-139.3" width="350" height="1" fill="url(#gc)"/><rect transform="translate(281.27 512) scale(1.186 1)" x="-139.7" width="350.5" height="1" fill="url(#gc)"/><rect transform="translate(281.54 513) scale(1.184 1)" x="-140.1" width="350.9" height="1" fill="url(#gc)"/><rect transform="translate(281.82 514) scale(1.183 1)" x="-140.5" width="351.4" height="1" fill="url(#gc)"/><rect transform="translate(282.11 515) scale(1.181 1)" x="-141" width="351.8" height="1" fill="url(#gc)"/><rect transform="translate(282.4 516) scale(1.18 1)" x="-141.4" width="352.3" height="1" fill="url(#gc)"/><rect transform="translate(282.69 517) scale(1.178 1)" x="-141.8" width="352.8" height="1" fill="url(#gc)"/><rect transform="translate(282.99 518) scale(1.177 1)" x="-142.3" width="353.2" height="1" fill="url(#gc)"/><rect transform="translate(283.29 519) scale(1.175 1)" x="-142.7" width="353.7" height="1" fill="url(#gc)"/><rect transform="translate(283.6 520) scale(1.173 1)" x="-143.2" width="354.2" height="1" fill="url(#gc)"/><rect transform="translate(283.91 521) scale(1.172 1)" x="-143.6" width="354.6" height="1" fill="url(#gc)"/><rect transform="translate(284.23 522) scale(1.17 1)" x="-144.1" width="355.1" height="1" fill="url(#gc)"/><rect transform="translate(284.55 523) scale(1.169 1)" x="-144.6" width="355.6" height="1" fill="url(#gc)"/><rect transform="translate(284.88 524) scale(1.167 1)" x="-145" width="356.1" height="1" fill="url(#gc)"/><rect transform="translate(285.21 525) scale(1.166 1)" x="-145.5" width="356.5" height="1" fill="url(#gc)"/><rect transform="translate(285.54 526) scale(1.164 1)" x="-146" width="357" height="1" fill="url(#gc)"/><rect transform="translate(285.88 527) scale(1.163 1)" x="-146.5" width="357.5" height="1" fill="url(#gc)"/><rect transform="translate(286.22 528) scale(1.161 1)" x="-147" width="357.9" height="1" fill="url(#gc)"/><rect transform="translate(286.57 529) scale(1.16 1)" x="-147.4" width="358.4" height="1" fill="url(#gc)"/><rect transform="translate(286.92 530) scale(1.158 1)" x="-147.9" width="358.9" height="1" fill="url(#gc)"/><rect transform="translate(287.28 531) scale(1.157 1)" x="-148.4" width="359.3" height="1" fill="url(#gc)"/><rect transform="translate(287.64 532) scale(1.155 1)" x="-148.9" width="359.8" height="1" fill="url(#gc)"/><rect transform="translate(288.01 533) scale(1.154 1)" x="-149.4" width="360.3" height="1" fill="url(#gc)"/><rect transform="translate(288.37 534) scale(1.152 1)" x="-150" width="360.7" height="1" fill="url(#gc)"/><rect transform="translate(288.75 535) scale(1.151 1)" x="-150.5" width="361.2" height="1" fill="url(#gc)"/><rect transform="translate(289.12 536) scale(1.149 1)" x="-151" width="361.6" height="1" fill="url(#gc)"/><rect transform="translate(289.51 537) scale(1.148 1)" x="-151.5" width="362.1" height="1" fill="url(#gc)"/><rect transform="translate(289.89 538) scale(1.146 1)" x="-152" width="362.5" height="1" fill="url(#gc)"/><rect transform="translate(290.28 539) scale(1.145 1)" x="-152.5" width="362.9" height="1" fill="url(#gc)"/><rect transform="translate(290.67 540) scale(1.144 1)" x="-153.1" width="363.4" height="1" fill="url(#gc)"/><rect transform="translate(291.07 541) scale(1.142 1)" x="-153.6" width="363.8" height="1" fill="url(#gc)"/><rect transform="translate(291.47 542) scale(1.141 1)" x="-154.1" width="364.2" height="1" fill="url(#gc)"/><rect transform="translate(291.88 543) scale(1.14 1)" x="-154.7" width="364.6" height="1" fill="url(#gc)"/><rect transform="translate(292.28 544) scale(1.139 1)" x="-155.2" width="365" height="1" fill="url(#gc)"/><rect transform="translate(292.7 545) scale(1.137 1)" x="-155.7" width="365.4" height="1" fill="url(#gc)"/><rect transform="translate(293.11 546) scale(1.136 1)" x="-156.3" width="365.8" height="1" fill="url(#gc)"/><rect transform="translate(293.53 547) scale(1.135 1)" x="-156.8" width="366.2" height="1" fill="url(#gc)"/><rect transform="translate(293.96 548) scale(1.134 1)" x="-157.3" width="366.6" height="1" fill="url(#gc)"/><rect transform="translate(294.38 549) scale(1.133 1)" x="-157.9" width="367" height="1" fill="url(#gc)"/><rect transform="translate(294.82 550) scale(1.131 1)" x="-158.4" width="367.3" height="1" fill="url(#gc)"/><rect transform="translate(295.25 551) scale(1.13 1)" x="-158.9" width="367.7" height="1" fill="url(#gc)"/><rect transform="translate(295.69 552) scale(1.129 1)" x="-159.5" width="368" height="1" fill="url(#gc)"/><rect transform="translate(296.13 553) scale(1.128 1)" x="-160" width="368.4" height="1" fill="url(#gc)"/><rect transform="translate(296.58 554) scale(1.127 1)" x="-160.6" width="368.7" height="1" fill="url(#gc)"/><rect transform="translate(297.02 555) scale(1.126 1)" x="-161.1" width="369.1" height="1" fill="url(#gc)"/><rect transform="translate(297.47 556) scale(1.125 1)" x="-161.7" width="369.4" height="1" fill="url(#gc)"/><rect transform="translate(297.93 557) scale(1.124 1)" x="-162.2" width="369.8" height="1" fill="url(#gc)"/><rect transform="translate(298.38 558) scale(1.123 1)" x="-162.8" width="370.1" height="1" fill="url(#gc)"/><rect transform="translate(298.84 559) scale(1.122 1)" x="-163.3" width="370.5" height="1" fill="url(#gc)"/><rect transform="translate(299.3 560) scale(1.121 1)" x="-163.9" width="370.8" height="1" fill="url(#gc)"/><rect transform="translate(299.77 561) scale(1.12 1)" x="-164.5" width="371.1" height="1" fill="url(#gc)"/><rect transform="translate(300.23 562) scale(1.119 1)" x="-165" width="371.5" height="1" fill="url(#gc)"/><rect transform="translate(300.7 563) scale(1.118 1)" x="-165.6" width="371.8" height="1" fill="url(#gc)"/><rect transform="translate(301.17 564) scale(1.117 1)" x="-166.2" width="372.2" height="1" fill="url(#gc)"/><rect transform="translate(301.64 565) scale(1.116 1)" x="-166.7" width="372.5" height="1" fill="url(#gc)"/><rect transform="translate(302.12 566) scale(1.115 1)" x="-167.3" width="372.8" height="1" fill="url(#gc)"/><rect transform="translate(302.59 567) scale(1.114 1)" x="-167.9" width="373.2" height="1" fill="url(#gc)"/><rect transform="translate(303.07 568) scale(1.113 1)" x="-168.5" width="373.5" height="1" fill="url(#gc)"/><rect transform="translate(303.55 569) scale(1.112 1)" x="-169" width="373.8" height="1" fill="url(#gc)"/><rect transform="translate(304.02 570) scale(1.111 1)" x="-169.6" width="374.1" height="1" fill="url(#gc)"/><rect transform="translate(304.5 571) scale(1.11 1)" x="-170.2" width="374.5" height="1" fill="url(#gc)"/><rect transform="translate(304.98 572) scale(1.109 1)" x="-170.8" width="374.8" height="1" fill="url(#gc)"/><rect transform="translate(305.47 573) scale(1.108 1)" x="-171.4" width="375.1" height="1" fill="url(#gc)"/><rect transform="translate(305.95 574) scale(1.107 1)" x="-172" width="375.4" height="1" fill="url(#gc)"/><rect transform="translate(306.43 575) scale(1.106 1)" x="-172.5" width="375.8" height="1" fill="url(#gc)"/><rect transform="translate(306.91 576) scale(1.105 1)" x="-173.1" width="376.1" height="1" fill="url(#gc)"/><rect transform="translate(307.4 577) scale(1.104 1)" x="-173.7" width="376.4" height="1" fill="url(#gc)"/><rect transform="translate(307.88 578) scale(1.103 1)" x="-174.3" width="376.7" height="1" fill="url(#gc)"/><rect transform="translate(308.36 579) scale(1.102 1)" x="-174.9" width="377.1" height="1" fill="url(#gc)"/><rect transform="translate(308.84 580) scale(1.101 1)" x="-175.5" width="377.4" height="1" fill="url(#gc)"/><rect transform="translate(309.33 581) scale(1.1 1)" x="-176.1" width="377.7" height="1" fill="url(#gc)"/><rect transform="translate(309.81 582) scale(1.099 1)" x="-176.7" width="378" height="1" fill="url(#gc)"/><rect transform="translate(310.29 583) scale(1.098 1)" x="-177.2" width="378.3" height="1" fill="url(#gc)"/><rect transform="translate(310.77 584) scale(1.098 1)" x="-177.8" width="378.7" height="1" fill="url(#gc)"/><rect transform="translate(311.25 585) scale(1.097 1)" x="-178.4" width="379" height="1" fill="url(#gc)"/><rect transform="translate(311.73 586) scale(1.096 1)" x="-179" width="379.3" height="1" fill="url(#gc)"/><rect transform="translate(312.21 587) scale(1.095 1)" x="-179.6" width="379.6" height="1" fill="url(#gc)"/><rect transform="translate(312.69 588) scale(1.094 1)" x="-180.2" width="380" height="1" fill="url(#gc)"/><rect transform="translate(313.16 589) scale(1.093 1)" x="-180.8" width="380.3" height="1" fill="url(#gc)"/><rect transform="translate(313.64 590) scale(1.092 1)" x="-181.4" width="380.6" height="1" fill="url(#gc)"/><rect transform="translate(314.11 591) scale(1.091 1)" x="-182" width="380.9" height="1" fill="url(#gc)"/><rect transform="translate(314.58 592) scale(1.09 1)" x="-182.5" width="381.3" height="1" fill="url(#gc)"/><rect transform="translate(315.05 593) scale(1.089 1)" x="-183.1" width="381.6" height="1" fill="url(#gc)"/><rect transform="translate(315.52 594) scale(1.088 1)" x="-183.7" width="381.9" height="1" fill="url(#gc)"/><rect transform="translate(315.99 595) scale(1.087 1)" x="-184.3" width="382.3" height="1" fill="url(#gc)"/><rect transform="translate(316.45 596) scale(1.086 1)" x="-184.9" width="382.6" height="1" fill="url(#gc)"/><rect transform="translate(316.91 597) scale(1.085 1)" x="-185.5" width="382.9" height="1" fill="url(#gc)"/><rect transform="translate(317.38 598) scale(1.084 1)" x="-186.1" width="383.3" height="1" fill="url(#gc)"/><rect transform="translate(317.84 599) scale(1.083 1)" x="-186.7" width="383.6" height="1" fill="url(#gc)"/><rect transform="translate(318.29 600) scale(1.082 1)" x="-187.2" width="383.9" height="1" fill="url(#gc)"/><rect transform="translate(318.75 601) scale(1.082 1)" x="-187.8" width="384.3" height="1" fill="url(#gc)"/><rect transform="translate(319.21 602) scale(1.081 1)" x="-188.4" width="384.6" height="1" fill="url(#gc)"/><rect transform="translate(319.66 603) scale(1.08 1)" x="-189" width="385" height="1" fill="url(#gc)"/><rect transform="translate(320.11 604) scale(1.079 1)" x="-189.6" width="385.3" height="1" fill="url(#gc)"/><rect transform="translate(320.56 605) scale(1.078 1)" x="-190.2" width="385.6" height="1" fill="url(#gc)"/><rect transform="translate(321.01 606) scale(1.077 1)" x="-190.8" width="386" height="1" fill="url(#gc)"/><rect transform="translate(321.46 607) scale(1.076 1)" x="-191.4" width="386.3" height="1" fill="url(#gc)"/><rect transform="translate(321.9 608) scale(1.075 1)" x="-192" width="386.7" height="1" fill="url(#gc)"/><rect transform="translate(322.34 609) scale(1.074 1)" x="-192.5" width="387.1" height="1" fill="url(#gc)"/><rect transform="translate(322.79 610) scale(1.073 1)" x="-193.1" width="387.4" height="1" fill="url(#gc)"/><rect transform="translate(323.22 611) scale(1.072 1)" x="-193.7" width="387.8" height="1" fill="url(#gc)"/><rect transform="translate(323.66 612) scale(1.071 1)" x="-194.3" width="388.1" height="1" fill="url(#gc)"/><rect transform="translate(324.1 613) scale(1.07 1)" x="-194.9" width="388.5" height="1" fill="url(#gc)"/><rect transform="translate(324.53 614) scale(1.069 1)" x="-195.5" width="388.9" height="1" fill="url(#gc)"/><rect transform="translate(324.96 615) scale(1.068 1)" x="-196.1" width="389.2" height="1" fill="url(#gc)"/><rect transform="translate(325.39 616) scale(1.067 1)" x="-196.7" width="389.6" height="1" fill="url(#gc)"/><rect transform="translate(325.82 617) scale(1.066 1)" x="-197.3" width="390" height="1" fill="url(#gc)"/><rect transform="translate(326.25 618) scale(1.065 1)" x="-197.9" width="390.4" height="1" fill="url(#gc)"/><rect transform="translate(326.67 619) scale(1.064 1)" x="-198.5" width="390.8" height="1" fill="url(#gc)"/><rect transform="translate(327.09 620) scale(1.062 1)" x="-199.1" width="391.2" height="1" fill="url(#gc)"/><rect transform="translate(327.51 621) scale(1.061 1)" x="-199.6" width="391.6" height="1" fill="url(#gc)"/><rect transform="translate(327.93 622) scale(1.06 1)" x="-200.2" width="391.9" height="1" fill="url(#gc)"/><rect transform="translate(328.35 623) scale(1.059 1)" x="-200.8" width="392.3" height="1" fill="url(#gc)"/><rect transform="translate(328.76 624) scale(1.058 1)" x="-201.4" width="392.8" height="1" fill="url(#gc)"/><rect transform="translate(329.17 625) scale(1.057 1)" x="-202" width="393.2" height="1" fill="url(#gc)"/><rect transform="translate(329.58 626) scale(1.056 1)" x="-202.6" width="393.6" height="1" fill="url(#gc)"/><rect transform="translate(329.99 627) scale(1.055 1)" x="-203.2" width="394" height="1" fill="url(#gc)"/><rect transform="translate(330.4 628) scale(1.054 1)" x="-203.8" width="394.4" height="1" fill="url(#gc)"/><rect transform="translate(330.8 629) scale(1.053 1)" x="-204.5" width="394.8" height="1" fill="url(#gc)"/><rect transform="translate(331.2 630) scale(1.051 1)" x="-205.1" width="395.3" height="1" fill="url(#gc)"/><rect transform="translate(331.6 631) scale(1.05 1)" x="-205.7" width="395.7" height="1" fill="url(#gc)"/><rect transform="translate(332 632) scale(1.049 1)" x="-206.3" width="396.2" height="1" fill="url(#gc)"/><rect transform="translate(332.39 633) scale(1.048 1)" x="-206.9" width="396.7" height="1" fill="url(#gc)"/><rect transform="translate(332.78 634) scale(1.046 1)" x="-207.5" width="397.2" height="1" fill="url(#gc)"/><rect transform="translate(333.18 635) scale(1.045 1)" x="-208.2" width="397.7" height="1" fill="url(#gc)"/><rect transform="translate(333.56 636) scale(1.044 1)" x="-208.8" width="398.2" height="1" fill="url(#gc)"/><rect transform="translate(333.95 637) scale(1.042 1)" x="-209.5" width="398.7" height="1" fill="url(#gc)"/><rect transform="translate(334.34 638) scale(1.041 1)" x="-210.1" width="399.3" height="1" fill="url(#gc)"/><rect transform="translate(334.72 639) scale(1.039 1)" x="-210.8" width="399.8" height="1" fill="url(#gc)"/><rect transform="translate(335.1 640) scale(1.038 1)" x="-211.5" width="400.4" height="1" fill="url(#gc)"/><rect transform="translate(335.48 641) scale(1.036 1)" x="-212.2" width="401" height="1" fill="url(#gc)"/><rect transform="translate(335.85 642) scale(1.035 1)" x="-212.8" width="401.6" height="1" fill="url(#gc)"/><rect transform="translate(336.23 643) scale(1.033 1)" x="-213.5" width="402.2" height="1" fill="url(#gc)"/><rect transform="translate(336.6 644) scale(1.032 1)" x="-214.2" width="402.8" height="1" fill="url(#gc)"/><rect transform="translate(336.97 645) scale(1.03 1)" x="-214.9" width="403.5" height="1" fill="url(#gc)"/><rect transform="translate(337.34 646) scale(1.028 1)" x="-215.6" width="404.1" height="1" fill="url(#gc)"/><rect transform="translate(337.71 647) scale(1.027 1)" x="-216.3" width="404.8" height="1" fill="url(#gc)"/><rect transform="translate(338.07 648) scale(1.025 1)" x="-217" width="405.4" height="1" fill="url(#gc)"/><rect transform="translate(338.44 649) scale(1.023 1)" x="-217.7" width="406.1" height="1" fill="url(#gc)"/><rect transform="translate(338.8 650) scale(1.022 1)" x="-218.4" width="406.8" height="1" fill="url(#gc)"/><rect transform="translate(339.16 651) scale(1.02 1)" x="-219.2" width="407.4" height="1" fill="url(#gc)"/><rect transform="translate(339.52 652) scale(1.018 1)" x="-219.9" width="408.1" height="1" fill="url(#gc)"/><rect transform="translate(339.87 653) scale(1.017 1)" x="-220.6" width="408.8" height="1" fill="url(#gc)"/><rect transform="translate(340.23 654) scale(1.015 1)" x="-221.3" width="409.5" height="1" fill="url(#gc)"/><rect transform="translate(340.58 655) scale(1.013 1)" x="-222.1" width="410.2" height="1" fill="url(#gc)"/><rect transform="translate(340.93 656) scale(1.011 1)" x="-222.8" width="411" height="1" fill="url(#gc)"/><rect transform="translate(341.28 657) scale(1.01 1)" x="-223.5" width="411.7" height="1" fill="url(#gc)"/><rect transform="translate(341.63 658) scale(1.008 1)" x="-224.3" width="412.4" height="1" fill="url(#gc)"/><rect transform="translate(341.97 659) scale(1.006 1)" x="-225" width="413.1" height="1" fill="url(#gc)"/><rect transform="translate(342.32 660) scale(1.004 1)" x="-225.8" width="413.8" height="1" fill="url(#gc)"/><rect transform="translate(342.66 661) scale(1.002 1)" x="-226.5" width="414.6" height="1" fill="url(#gc)"/><rect transform="translate(343 662) scale(1.001 1)" x="-227.2" width="415.3" height="1" fill="url(#gc)"/><rect transform="translate(343.34 663) scale(0.999 1)" x="-228" width="416" height="1" fill="url(#gc)"/><rect transform="translate(343.67 664) scale(0.997 1)" x="-228.7" width="416.8" height="1" fill="url(#gc)"/><rect transform="translate(344.01 665) scale(0.995 1)" x="-229.5" width="417.5" height="1" fill="url(#gc)"/><rect transform="translate(344.34 666) scale(0.994 1)" x="-230.2" width="418.3" height="1" fill="url(#gc)"/><rect transform="translate(344.68 667) scale(0.992 1)" x="-230.9" width="419" height="1" fill="url(#gc)"/><rect transform="translate(345.01 668) scale(0.99 1)" x="-231.7" width="419.7" height="1" fill="url(#gc)"/><rect transform="translate(345.34 669) scale(0.988 1)" x="-232.4" width="420.5" height="1" fill="url(#gc)"/><rect transform="translate(345.66 670) scale(0.987 1)" x="-233.2" width="421.2" height="1" fill="url(#gc)"/><rect transform="translate(345.99 671) scale(0.985 1)" x="-233.9" width="421.9" height="1" fill="url(#gc)"/><rect transform="translate(346.31 672) scale(0.983 1)" x="-234.6" width="422.6" height="1" fill="url(#gc)"/><rect transform="translate(346.64 673) scale(0.982 1)" x="-235.3" width="423.4" height="1" fill="url(#gc)"/><rect transform="translate(346.96 674) scale(0.98 1)" x="-236.1" width="424.1" height="1" fill="url(#gc)"/><rect transform="translate(347.28 675) scale(0.978 1)" x="-236.8" width="424.8" height="1" fill="url(#gc)"/><rect transform="translate(347.6 676) scale(0.977 1)" x="-237.5" width="425.5" height="1" fill="url(#gc)"/><rect transform="translate(347.91 677) scale(0.975 1)" x="-238.2" width="426.2" height="1" fill="url(#gc)"/><rect transform="translate(348.23 678) scale(0.974 1)" x="-238.9" width="426.8" height="1" fill="url(#gc)"/><rect transform="translate(348.54 679) scale(0.972 1)" x="-239.6" width="427.5" height="1" fill="url(#gc)"/><rect transform="translate(348.85 680) scale(0.971 1)" x="-240.3" width="428.2" height="1" fill="url(#gc)"/><rect transform="translate(349.16 681) scale(0.969 1)" x="-241" width="428.8" height="1" fill="url(#gc)"/><rect transform="translate(349.46 682) scale(0.968 1)" x="-241.7" width="429.5" height="1" fill="url(#gc)"/><rect transform="translate(349.77 683) scale(0.966 1)" x="-242.4" width="430.1" height="1" fill="url(#gc)"/><rect transform="translate(350.07 684) scale(0.965 1)" x="-243" width="430.7" height="1" fill="url(#gc)"/><rect transform="translate(350.37 685) scale(0.963 1)" x="-243.7" width="431.4" height="1" fill="url(#gc)"/><rect transform="translate(350.67 686) scale(0.962 1)" x="-244.3" width="432" height="1" fill="url(#gc)"/><rect transform="translate(350.97 687) scale(0.961 1)" x="-245" width="432.5" height="1" fill="url(#gc)"/><rect transform="translate(351.26 688) scale(0.96 1)" x="-245.6" width="433.1" height="1" fill="url(#gc)"/><rect transform="translate(351.55 689) scale(0.958 1)" x="-246.2" width="433.7" height="1" fill="url(#gc)"/><rect transform="translate(351.84 690) scale(0.957 1)" x="-246.8" width="434.2" height="1" fill="url(#gc)"/><rect transform="translate(352.13 691) scale(0.956 1)" x="-247.4" width="434.7" height="1" fill="url(#gc)"/><rect transform="translate(352.42 692) scale(0.955 1)" x="-248" width="435.2" height="1" fill="url(#gc)"/><rect transform="translate(352.7 693) scale(0.954 1)" x="-248.6" width="435.7" height="1" fill="url(#gc)"/><rect transform="translate(352.98 694) scale(0.953 1)" x="-249.1" width="436.1" height="1" fill="url(#gc)"/><rect transform="translate(353.26 695) scale(0.952 1)" x="-249.7" width="436.6" height="1" fill="url(#gc)"/><rect transform="translate(353.53 696) scale(0.951 1)" x="-250.2" width="437" height="1" fill="url(#gc)"/><rect transform="translate(353.81 697) scale(0.95 1)" x="-250.7" width="437.4" height="1" fill="url(#gc)"/><rect transform="translate(354.08 698) scale(0.949 1)" x="-251.2" width="437.8" height="1" fill="url(#gc)"/><rect transform="translate(354.35 699) scale(0.949 1)" x="-251.7" width="438.1" height="1" fill="url(#gc)"/><rect transform="translate(354.61 700) scale(0.948 1)" x="-252.2" width="438.5" height="1" fill="url(#gc)"/><rect transform="translate(354.87 701) scale(0.947 1)" x="-252.6" width="438.8" height="1" fill="url(#gc)"/><rect transform="translate(355.13 702) scale(0.947 1)" x="-253" width="439" height="1" fill="url(#gc)"/><rect transform="translate(355.39 703) scale(0.946 1)" x="-253.5" width="439.3" height="1" fill="url(#gc)"/><rect transform="translate(355.65 704) scale(0.946 1)" x="-253.9" width="439.5" height="1" fill="url(#gc)"/><rect transform="translate(355.9 705) scale(0.945 1)" x="-254.2" width="439.7" height="1" fill="url(#gc)"/><rect transform="translate(356.15 706) scale(0.945 1)" x="-254.6" width="439.9" height="1" fill="url(#gc)"/><rect transform="translate(356.4 707) scale(0.944 1)" x="-255" width="440" height="1" fill="url(#gc)"/><rect transform="translate(356.64 708) scale(0.944 1)" x="-255.3" width="440.1" height="1" fill="url(#gc)"/><rect transform="translate(356.88 709) scale(0.944 1)" x="-255.6" width="440.2" height="1" fill="url(#gc)"/><rect transform="translate(357.12 710) scale(0.944 1)" x="-255.9" width="440.3" height="1" fill="url(#gc)"/><rect transform="translate(357.35 711) scale(0.944 1)" x="-256.1" width="440.3" height="1" fill="url(#gc)"/><rect transform="translate(357.59 712) scale(0.944 1)" x="-256.4" width="440.4" height="1" fill="url(#gc)"/><rect transform="translate(357.81 713) scale(0.944 1)" x="-256.7" width="440.4" height="1" fill="url(#gc)"/><rect transform="translate(358.04 714) scale(0.944 1)" x="-257" width="440.5" height="1" fill="url(#gc)"/><rect transform="translate(358.26 715) scale(0.943 1)" x="-257.2" width="440.5" height="1" fill="url(#gc)"/><rect transform="translate(358.48 716) scale(0.943 1)" x="-257.5" width="440.6" height="1" fill="url(#gc)"/><rect transform="translate(358.7 717) scale(0.943 1)" x="-257.7" width="440.6" height="1" fill="url(#gc)"/><rect transform="translate(358.91 718) scale(0.943 1)" x="-258" width="440.7" height="1" fill="url(#gc)"/><rect transform="translate(359.12 719) scale(0.943 1)" x="-258.2" width="440.7" height="1" fill="url(#gc)"/><rect transform="translate(359.33 720) scale(0.943 1)" x="-258.5" width="440.7" height="1" fill="url(#gc)"/><rect transform="translate(359.53 721) scale(0.943 1)" x="-258.7" width="440.8" height="1" fill="url(#gc)"/><rect transform="translate(359.73 722) scale(0.943 1)" x="-259" width="440.8" height="1" fill="url(#gc)"/><rect transform="translate(359.93 723) scale(0.943 1)" x="-259.2" width="440.9" height="1" fill="url(#gc)"/><rect transform="translate(360.13 724) scale(0.943 1)" x="-259.4" width="440.9" height="1" fill="url(#gc)"/><rect transform="translate(360.32 725) scale(0.942 1)" x="-259.6" width="441" height="1" fill="url(#gc)"/><rect transform="translate(360.5 726) scale(0.942 1)" x="-259.9" width="441" height="1" fill="url(#gc)"/><rect transform="translate(360.69 727) scale(0.942 1)" x="-260.1" width="441" height="1" fill="url(#gc)"/><rect transform="translate(360.87 728) scale(0.942 1)" x="-260.3" width="441.1" height="1" fill="url(#gc)"/><rect transform="translate(361.04 729) scale(0.942 1)" x="-260.5" width="441.1" height="1" fill="url(#gc)"/><rect transform="translate(361.22 730) scale(0.942 1)" x="-260.7" width="441.2" height="1" fill="url(#gc)"/><rect transform="translate(361.38 731) scale(0.942 1)" x="-260.9" width="441.2" height="1" fill="url(#gc)"/><rect transform="translate(361.55 732) scale(0.942 1)" x="-261.1" width="441.2" height="1" fill="url(#gc)"/><rect transform="translate(361.71 733) scale(0.942 1)" x="-261.3" width="441.3" height="1" fill="url(#gc)"/><rect transform="translate(361.87 734) scale(0.942 1)" x="-261.5" width="441.3" height="1" fill="url(#gc)"/><rect transform="translate(362.02 735) scale(0.942 1)" x="-261.7" width="441.3" height="1" fill="url(#gc)"/><rect transform="translate(362.18 736) scale(0.942 1)" x="-261.9" width="441.4" height="1" fill="url(#gc)"/><rect transform="translate(362.32 737) scale(0.942 1)" x="-262" width="441.4" height="1" fill="url(#gc)"/><rect transform="translate(362.47 738) scale(0.941 1)" x="-262.2" width="441.4" height="1" fill="url(#gc)"/><rect transform="translate(362.6 739) scale(0.941 1)" x="-262.4" width="441.5" height="1" fill="url(#gc)"/><rect transform="translate(362.74 740) scale(0.941 1)" x="-262.5" width="441.5" height="1" fill="url(#gc)"/><rect transform="translate(362.87 741) scale(0.941 1)" x="-262.7" width="441.5" height="1" fill="url(#gc)"/><rect transform="translate(363 742) scale(0.941 1)" x="-262.9" width="441.6" height="1" fill="url(#gc)"/><rect transform="translate(363.12 743) scale(0.941 1)" x="-263" width="441.6" height="1" fill="url(#gc)"/><rect transform="translate(363.24 744) scale(0.941 1)" x="-263.1" width="441.6" height="1" fill="url(#gc)"/><rect transform="translate(363.36 745) scale(0.941 1)" x="-263.3" width="441.6" height="1" fill="url(#gc)"/><rect transform="translate(363.47 746) scale(0.941 1)" x="-263.4" width="441.7" height="1" fill="url(#gc)"/><rect transform="translate(363.58 747) scale(0.941 1)" x="-263.5" width="441.7" height="1" fill="url(#gc)"/><rect transform="translate(363.68 748) scale(0.941 1)" x="-263.7" width="441.7" height="1" fill="url(#gc)"/><rect transform="translate(363.78 749) scale(0.941 1)" x="-263.8" width="441.7" height="1" fill="url(#gc)"/><rect transform="translate(363.88 750) scale(0.941 1)" x="-263.9" width="441.8" height="1" fill="url(#gc)"/><rect transform="translate(363.97 751) scale(0.941 1)" x="-264" width="441.8" height="1" fill="url(#gc)"/><rect transform="translate(364.06 752) scale(0.941 1)" x="-264.1" width="441.8" height="1" fill="url(#gc)"/><rect transform="translate(364.14 753) scale(0.941 1)" x="-264.2" width="441.8" height="1" fill="url(#gc)"/><rect transform="translate(364.22 754) scale(0.941 1)" x="-264.3" width="441.9" height="1" fill="url(#gc)"/><rect transform="translate(364.3 755) scale(0.941 1)" x="-264.4" width="441.9" height="1" fill="url(#gc)"/><rect transform="translate(364.38 756) scale(0.94 1)" x="-264.5" width="441.9" height="1" fill="url(#gc)"/><rect transform="translate(364.45 757) scale(0.94 1)" x="-264.6" width="441.9" height="1" fill="url(#gc)"/><rect transform="translate(364.52 758) scale(0.94 1)" x="-264.7" width="441.9" height="1" fill="url(#gc)"/><rect transform="translate(364.59 759) scale(0.94 1)" x="-264.8" width="442" height="1" fill="url(#gc)"/><rect transform="translate(364.65 760) scale(0.94 1)" x="-264.9" width="442" height="1" fill="url(#gc)"/><rect transform="translate(364.71 761) scale(0.94 1)" x="-264.9" width="442" height="1" fill="url(#gc)"/><rect transform="translate(364.77 762) scale(0.94 1)" x="-265" width="442" height="1" fill="url(#gc)"/><rect transform="translate(364.82 763) scale(0.94 1)" x="-265.1" width="442" height="1" fill="url(#gc)"/><rect transform="translate(364.87 764) scale(0.94 1)" x="-265.1" width="442" height="1" fill="url(#gc)"/><rect transform="translate(364.92 765) scale(0.94 1)" x="-265.2" width="442" height="1" fill="url(#gc)"/><rect transform="translate(364.97 766) scale(0.94 1)" x="-265.2" width="442.1" height="1" fill="url(#gc)"/><rect transform="translate(365.01 767) scale(0.94 1)" x="-265.3" width="442.1" height="1" fill="url(#gc)"/><rect transform="translate(365.06 768) scale(0.94 1)" x="-265.3" width="442.1" height="1" fill="url(#gc)"/><rect transform="translate(365.1 769) scale(0.94 1)" x="-265.4" width="442.1" height="1" fill="url(#gc)"/><rect transform="translate(365.13 770) scale(0.94 1)" x="-265.4" width="442.1" height="1" fill="url(#gc)"/><rect transform="translate(365.17 771) scale(0.94 1)" x="-265.5" width="442.1" height="1" fill="url(#gc)"/><rect transform="translate(365.2 772) scale(0.94 1)" x="-265.5" width="442.1" height="1" fill="url(#gc)"/><rect transform="translate(365.24 773) scale(0.94 1)" x="-265.6" width="442.1" height="1" fill="url(#gc)"/><rect transform="translate(365.27 774) scale(0.94 1)" x="-265.6" width="442.1" height="1" fill="url(#gc)"/><rect transform="translate(365.29 775) scale(0.94 1)" x="-265.6" width="442.1" height="1" fill="url(#gc)"/><rect transform="translate(365.32 776) scale(0.94 1)" x="-265.7" width="442.1" height="1" fill="url(#gc)"/><rect transform="translate(365.34 777) scale(0.94 1)" x="-265.7" width="442.1" height="1" fill="url(#gc)"/><rect transform="translate(365.37 778) scale(0.94 1)" x="-265.7" width="442.1" height="1" fill="url(#gc)"/><rect transform="translate(365.39 779) scale(0.94 1)" x="-265.7" width="442.1" height="1" fill="url(#gc)"/><rect transform="translate(365.41 780) scale(0.94 1)" x="-265.8" width="442.1" height="1" fill="url(#gc)"/><rect transform="translate(365.43 781) scale(0.94 1)" x="-265.8" width="442.1" height="1" fill="url(#gc)"/><rect transform="translate(365.45 782) scale(0.94 1)" x="-265.8" width="442.1" height="1" fill="url(#gc)"/><rect transform="translate(365.46 783) scale(0.94 1)" x="-265.8" width="442.1" height="1" fill="url(#gc)"/><rect transform="translate(365.48 784) scale(0.94 1)" x="-265.8" width="442.1" height="1" fill="url(#gc)"/><rect transform="translate(365.49 785) scale(0.94 1)" x="-265.8" width="442.1" height="1" fill="url(#gc)"/><rect transform="translate(365.51 786) scale(0.94 1)" x="-265.9" width="442.1" height="1" fill="url(#gc)"/><rect transform="translate(365.52 787) scale(0.94 1)" x="-265.9" width="442.1" height="1" fill="url(#gc)"/><rect transform="translate(365.53 788) scale(0.94 1)" x="-265.9" width="442.1" height="1" fill="url(#gc)"/><rect transform="translate(365.54 789) scale(0.94 1)" x="-265.9" width="442.1" height="1" fill="url(#gc)"/><rect transform="translate(365.55 790) scale(0.94 1)" x="-265.9" width="442.1" height="1" fill="url(#gc)"/><rect transform="translate(365.56 791) scale(0.94 1)" x="-265.9" width="442.1" height="1" fill="url(#gc)"/><rect transform="translate(365.57 792) scale(0.94 1)" x="-265.9" width="442.1" height="1" fill="url(#gc)"/><rect transform="translate(365.58 793) scale(0.94 1)" x="-265.9" width="442.1" height="1" fill="url(#gc)"/><rect transform="translate(365.59 794) scale(0.94 1)" x="-265.9" width="442.1" height="1" fill="url(#gc)"/><rect transform="translate(318.29 600) scale(1.082 1)" x="-44" width="88" height="1" fill="url(#gc2)" opacity="0"/><rect transform="translate(318.75 601) scale(1.082 1)" x="-44" width="88" height="1" fill="url(#gc2)" opacity="0.01"/><rect transform="translate(319.21 602) scale(1.081 1)" x="-44" width="88" height="1" fill="url(#gc2)" opacity="0.02"/><rect transform="translate(319.66 603) scale(1.08 1)" x="-44" width="88" height="1" fill="url(#gc2)" opacity="0.03"/><rect transform="translate(320.11 604) scale(1.079 1)" x="-44" width="88" height="1" fill="url(#gc2)" opacity="0.03"/><rect transform="translate(320.56 605) scale(1.078 1)" x="-44" width="88" height="1" fill="url(#gc2)" opacity="0.04"/><rect transform="translate(321.01 606) scale(1.077 1)" x="-44" width="88" height="1" fill="url(#gc2)" opacity="0.05"/><rect transform="translate(321.46 607) scale(1.076 1)" x="-44" width="88" height="1" fill="url(#gc2)" opacity="0.06"/><rect transform="translate(321.9 608) scale(1.075 1)" x="-44" width="88" height="1" fill="url(#gc2)" opacity="0.07"/><rect transform="translate(322.34 609) scale(1.074 1)" x="-44" width="88" height="1" fill="url(#gc2)" opacity="0.07"/><rect transform="translate(322.79 610) scale(1.073 1)" x="-44" width="88" height="1" fill="url(#gc2)" opacity="0.08"/><rect transform="translate(323.22 611) scale(1.072 1)" x="-44" width="88" height="1" fill="url(#gc2)" opacity="0.09"/><rect transform="translate(323.66 612) scale(1.071 1)" x="-44" width="88" height="1" fill="url(#gc2)" opacity="0.1"/><rect transform="translate(324.1 613) scale(1.07 1)" x="-44" width="88" height="1" fill="url(#gc2)" opacity="0.1"/><rect transform="translate(324.53 614) scale(1.069 1)" x="-44" width="88" height="1" fill="url(#gc2)" opacity="0.11"/><rect transform="translate(324.96 615) scale(1.068 1)" x="-44" width="88" height="1" fill="url(#gc2)" opacity="0.12"/><rect transform="translate(325.39 616) scale(1.067 1)" x="-44" width="88" height="1" fill="url(#gc2)" opacity="0.13"/><rect transform="translate(325.82 617) scale(1.066 1)" x="-44" width="88" height="1" fill="url(#gc2)" opacity="0.13"/><rect transform="translate(326.25 618) scale(1.065 1)" x="-44" width="88" height="1" fill="url(#gc2)" opacity="0.14"/><rect transform="translate(326.67 619) scale(1.064 1)" x="-44" width="88" height="1" fill="url(#gc2)" opacity="0.15"/><rect transform="translate(327.09 620) scale(1.062 1)" x="-44" width="88" height="1" fill="url(#gc2)" opacity="0.16"/><rect transform="translate(327.51 621) scale(1.061 1)" x="-44" width="88" height="1" fill="url(#gc2)" opacity="0.17"/><rect transform="translate(327.93 622) scale(1.06 1)" x="-44" width="88" height="1" fill="url(#gc2)" opacity="0.17"/><rect transform="translate(328.35 623) scale(1.059 1)" x="-44" width="88" height="1" fill="url(#gc2)" opacity="0.18"/><rect transform="translate(328.76 624) scale(1.058 1)" x="-44" width="88" height="1" fill="url(#gc2)" opacity="0.19"/><rect transform="translate(329.17 625) scale(1.057 1)" x="-44" width="88" height="1" fill="url(#gc2)" opacity="0.2"/><rect transform="translate(329.58 626) scale(1.056 1)" x="-44" width="88" height="1" fill="url(#gc2)" opacity="0.2"/><rect transform="translate(329.99 627) scale(1.055 1)" x="-44" width="88" height="1" fill="url(#gc2)" opacity="0.21"/><rect transform="translate(330.4 628) scale(1.054 1)" x="-44" width="88" height="1" fill="url(#gc2)" opacity="0.22"/><rect transform="translate(330.8 629) scale(1.053 1)" x="-44" width="88" height="1" fill="url(#gc2)" opacity="0.23"/><rect transform="translate(331.2 630) scale(1.051 1)" x="-44" width="88" height="1" fill="url(#gc2)" opacity="0.23"/><rect transform="translate(331.6 631) scale(1.05 1)" x="-44" width="88" height="1" fill="url(#gc2)" opacity="0.24"/><rect transform="translate(332 632) scale(1.049 1)" x="-44" width="88" height="1" fill="url(#gc2)" opacity="0.25"/><rect transform="translate(332.39 633) scale(1.048 1)" x="-44" width="88" height="1" fill="url(#gc2)" opacity="0.26"/><rect transform="translate(332.78 634) scale(1.046 1)" x="-44" width="88" height="1" fill="url(#gc2)" opacity="0.27"/><rect transform="translate(333.18 635) scale(1.045 1)" x="-44" width="88" height="1" fill="url(#gc2)" opacity="0.27"/><rect transform="translate(333.56 636) scale(1.044 1)" x="-44" width="88" height="1" fill="url(#gc2)" opacity="0.28"/><rect transform="translate(333.95 637) scale(1.042 1)" x="-44" width="88" height="1" fill="url(#gc2)" opacity="0.29"/><rect transform="translate(334.34 638) scale(1.041 1)" x="-44" width="88" height="1" fill="url(#gc2)" opacity="0.3"/><rect transform="translate(334.72 639) scale(1.039 1)" x="-44" width="88" height="1" fill="url(#gc2)" opacity="0.3"/><rect transform="translate(335.1 640) scale(1.038 1)" x="-44" width="88" height="1" fill="url(#gc2)" opacity="0.31"/><rect transform="translate(335.48 641) scale(1.036 1)" x="-44" width="88" height="1" fill="url(#gc2)" opacity="0.32"/><rect transform="translate(335.85 642) scale(1.035 1)" x="-44" width="88" height="1" fill="url(#gc2)" opacity="0.33"/><rect transform="translate(336.23 643) scale(1.033 1)" x="-44" width="88" height="1" fill="url(#gc2)" opacity="0.33"/><rect transform="translate(336.6 644) scale(1.032 1)" x="-44" width="88" height="1" fill="url(#gc2)" opacity="0.34"/><rect transform="translate(336.97 645) scale(1.03 1)" x="-44" width="88" height="1" fill="url(#gc2)" opacity="0.35"/><rect transform="translate(337.34 646) scale(1.028 1)" x="-44" width="88" height="1" fill="url(#gc2)" opacity="0.36"/><rect transform="translate(337.71 647) scale(1.027 1)" x="-44" width="88" height="1" fill="url(#gc2)" opacity="0.37"/><rect transform="translate(338.07 648) scale(1.025 1)" x="-44" width="88" height="1" fill="url(#gc2)" opacity="0.37"/><rect transform="translate(338.44 649) scale(1.023 1)" x="-44" width="88" height="1" fill="url(#gc2)" opacity="0.38"/><rect transform="translate(338.8 650) scale(1.022 1)" x="-44" width="88" height="1" fill="url(#gc2)" opacity="0.39"/><rect transform="translate(339.16 651) scale(1.02 1)" x="-44" width="88" height="1" fill="url(#gc2)" opacity="0.4"/><rect transform="translate(339.52 652) scale(1.018 1)" x="-44" width="88" height="1" fill="url(#gc2)" opacity="0.4"/><rect transform="translate(339.87 653) scale(1.017 1)" x="-44" width="88" height="1" fill="url(#gc2)" opacity="0.41"/><rect transform="translate(340.23 654) scale(1.015 1)" x="-44" width="88" height="1" fill="url(#gc2)" opacity="0.42"/><rect transform="translate(340.58 655) scale(1.013 1)" x="-44" width="88" height="1" fill="url(#gc2)" opacity="0.43"/><rect transform="translate(340.93 656) scale(1.011 1)" x="-44" width="88" height="1" fill="url(#gc2)" opacity="0.43"/><rect transform="translate(341.28 657) scale(1.01 1)" x="-44" width="88" height="1" fill="url(#gc2)" opacity="0.44"/><rect transform="translate(341.63 658) scale(1.008 1)" x="-44" width="88" height="1" fill="url(#gc2)" opacity="0.45"/><rect transform="translate(341.97 659) scale(1.006 1)" x="-44" width="88" height="1" fill="url(#gc2)" opacity="0.46"/><rect transform="translate(342.32 660) scale(1.004 1)" x="-44" width="88" height="1" fill="url(#gc2)" opacity="0.47"/><rect transform="translate(342.66 661) scale(1.002 1)" x="-44" width="88" height="1" fill="url(#gc2)" opacity="0.47"/><rect transform="translate(343 662) scale(1.001 1)" x="-44" width="88" height="1" fill="url(#gc2)" opacity="0.48"/><rect transform="translate(343.34 663) scale(0.999 1)" x="-44" width="88" height="1" fill="url(#gc2)" opacity="0.49"/><rect transform="translate(343.67 664) scale(0.997 1)" x="-44" width="88" height="1" fill="url(#gc2)" opacity="0.5"/><rect transform="translate(344.01 665) scale(0.995 1)" x="-44" width="88" height="1" fill="url(#gc2)" opacity="0.5"/><rect transform="translate(344.34 666) scale(0.994 1)" x="-44" width="88" height="1" fill="url(#gc2)" opacity="0.51"/><rect transform="translate(344.68 667) scale(0.992 1)" x="-44" width="88" height="1" fill="url(#gc2)" opacity="0.52"/><rect transform="translate(345.01 668) scale(0.99 1)" x="-44" width="88" height="1" fill="url(#gc2)" opacity="0.53"/><rect transform="translate(345.34 669) scale(0.988 1)" x="-44" width="88" height="1" fill="url(#gc2)" opacity="0.53"/><rect transform="translate(345.66 670) scale(0.987 1)" x="-44" width="88" height="1" fill="url(#gc2)" opacity="0.54"/><rect transform="translate(345.99 671) scale(0.985 1)" x="-44" width="88" height="1" fill="url(#gc2)" opacity="0.55"/><rect transform="translate(346.31 672) scale(0.983 1)" x="-44" width="88" height="1" fill="url(#gc2)" opacity="0.56"/><rect transform="translate(346.64 673) scale(0.982 1)" x="-44" width="88" height="1" fill="url(#gc2)" opacity="0.57"/><rect transform="translate(346.96 674) scale(0.98 1)" x="-44" width="88" height="1" fill="url(#gc2)" opacity="0.57"/><rect transform="translate(347.28 675) scale(0.978 1)" x="-44" width="88" height="1" fill="url(#gc2)" opacity="0.58"/><rect transform="translate(347.6 676) scale(0.977 1)" x="-44" width="88" height="1" fill="url(#gc2)" opacity="0.59"/><rect transform="translate(347.91 677) scale(0.975 1)" x="-44" width="88" height="1" fill="url(#gc2)" opacity="0.6"/><rect transform="translate(348.23 678) scale(0.974 1)" x="-44" width="88" height="1" fill="url(#gc2)" opacity="0.6"/><rect transform="translate(348.54 679) scale(0.972 1)" x="-44" width="88" height="1" fill="url(#gc2)" opacity="0.61"/><rect transform="translate(348.85 680) scale(0.971 1)" x="-44" width="88" height="1" fill="url(#gc2)" opacity="0.62"/><rect transform="translate(349.16 681) scale(0.969 1)" x="-44" width="88" height="1" fill="url(#gc2)" opacity="0.63"/><rect transform="translate(349.46 682) scale(0.968 1)" x="-44" width="88" height="1" fill="url(#gc2)" opacity="0.63"/><rect transform="translate(349.77 683) scale(0.966 1)" x="-44" width="88" height="1" fill="url(#gc2)" opacity="0.64"/><rect transform="translate(350.07 684) scale(0.965 1)" x="-44" width="88" height="1" fill="url(#gc2)" opacity="0.65"/><rect transform="translate(350.37 685) scale(0.963 1)" x="-44" width="88" height="1" fill="url(#gc2)" opacity="0.66"/><rect transform="translate(350.67 686) scale(0.962 1)" x="-44" width="88" height="1" fill="url(#gc2)" opacity="0.67"/><rect transform="translate(350.97 687) scale(0.961 1)" x="-44" width="88" height="1" fill="url(#gc2)" opacity="0.67"/><rect transform="translate(351.26 688) scale(0.96 1)" x="-44" width="88" height="1" fill="url(#gc2)" opacity="0.68"/><rect transform="translate(351.55 689) scale(0.958 1)" x="-44" width="88" height="1" fill="url(#gc2)" opacity="0.69"/><rect transform="translate(351.84 690) scale(0.957 1)" x="-44" width="88" height="1" fill="url(#gc2)" opacity="0.7"/><rect transform="translate(352.13 691) scale(0.956 1)" x="-44" width="88" height="1" fill="url(#gc2)" opacity="0.7"/><rect transform="translate(352.42 692) scale(0.955 1)" x="-44" width="88" height="1" fill="url(#gc2)" opacity="0.71"/><rect transform="translate(352.7 693) scale(0.954 1)" x="-44" width="88" height="1" fill="url(#gc2)" opacity="0.72"/><rect transform="translate(352.98 694) scale(0.953 1)" x="-44" width="88" height="1" fill="url(#gc2)" opacity="0.73"/><rect transform="translate(353.26 695) scale(0.952 1)" x="-44" width="88" height="1" fill="url(#gc2)" opacity="0.73"/><rect transform="translate(353.53 696) scale(0.951 1)" x="-44" width="88" height="1" fill="url(#gc2)" opacity="0.74"/><rect transform="translate(353.81 697) scale(0.95 1)" x="-44" width="88" height="1" fill="url(#gc2)" opacity="0.75"/><rect transform="translate(354.08 698) scale(0.949 1)" x="-44" width="88" height="1" fill="url(#gc2)" opacity="0.76"/><rect transform="translate(354.35 699) scale(0.949 1)" x="-44" width="88" height="1" fill="url(#gc2)" opacity="0.77"/><rect transform="translate(354.61 700) scale(0.948 1)" x="-44" width="88" height="1" fill="url(#gc2)" opacity="0.77"/><rect transform="translate(354.87 701) scale(0.947 1)" x="-44" width="88" height="1" fill="url(#gc2)" opacity="0.78"/><rect transform="translate(355.13 702) scale(0.947 1)" x="-44" width="88" height="1" fill="url(#gc2)" opacity="0.79"/><rect transform="translate(355.39 703) scale(0.946 1)" x="-44" width="88" height="1" fill="url(#gc2)" opacity="0.8"/><rect transform="translate(355.65 704) scale(0.946 1)" x="-44" width="88" height="1" fill="url(#gc2)" opacity="0.8"/><rect transform="translate(355.9 705) scale(0.945 1)" x="-44" width="88" height="1" fill="url(#gc2)" opacity="0.81"/><rect transform="translate(356.15 706) scale(0.945 1)" x="-44" width="88" height="1" fill="url(#gc2)" opacity="0.82"/><rect transform="translate(356.4 707) scale(0.944 1)" x="-44" width="88" height="1" fill="url(#gc2)" opacity="0.83"/><rect transform="translate(356.64 708) scale(0.944 1)" x="-44" width="88" height="1" fill="url(#gc2)" opacity="0.83"/><rect transform="translate(356.88 709) scale(0.944 1)" x="-44" width="88" height="1" fill="url(#gc2)" opacity="0.84"/><rect transform="translate(357.12 710) scale(0.944 1)" x="-44" width="88" height="1" fill="url(#gc2)" opacity="0.85"/><rect transform="translate(357.35 711) scale(0.944 1)" x="-44" width="88" height="1" fill="url(#gc2)" opacity="0.86"/><rect transform="translate(357.59 712) scale(0.944 1)" x="-44" width="88" height="1" fill="url(#gc2)" opacity="0.87"/><rect transform="translate(357.81 713) scale(0.944 1)" x="-44" width="88" height="1" fill="url(#gc2)" opacity="0.87"/><rect transform="translate(358.04 714) scale(0.944 1)" x="-44" width="88" height="1" fill="url(#gc2)" opacity="0.88"/><rect transform="translate(358.26 715) scale(0.943 1)" x="-44" width="88" height="1" fill="url(#gc2)" opacity="0.89"/><rect transform="translate(358.48 716) scale(0.943 1)" x="-44" width="88" height="1" fill="url(#gc2)" opacity="0.9"/><rect transform="translate(358.7 717) scale(0.943 1)" x="-44" width="88" height="1" fill="url(#gc2)" opacity="0.9"/><rect transform="translate(358.91 718) scale(0.943 1)" x="-44" width="88" height="1" fill="url(#gc2)" opacity="0.91"/><rect transform="translate(359.12 719) scale(0.943 1)" x="-44" width="88" height="1" fill="url(#gc2)" opacity="0.92"/><rect transform="translate(359.33 720) scale(0.943 1)" x="-44" width="88" height="1" fill="url(#gc2)" opacity="0.93"/><rect transform="translate(359.53 721) scale(0.943 1)" x="-44" width="88" height="1" fill="url(#gc2)" opacity="0.93"/><rect transform="translate(359.73 722) scale(0.943 1)" x="-44" width="88" height="1" fill="url(#gc2)" opacity="0.94"/><rect transform="translate(359.93 723) scale(0.943 1)" x="-44" width="88" height="1" fill="url(#gc2)" opacity="0.95"/><rect transform="translate(360.13 724) scale(0.943 1)" x="-44" width="88" height="1" fill="url(#gc2)" opacity="0.96"/><rect transform="translate(360.32 725) scale(0.942 1)" x="-44" width="88" height="1" fill="url(#gc2)" opacity="0.97"/><rect transform="translate(360.5 726) scale(0.942 1)" x="-44" width="88" height="1" fill="url(#gc2)" opacity="0.97"/><rect transform="translate(360.69 727) scale(0.942 1)" x="-44" width="88" height="1" fill="url(#gc2)" opacity="0.98"/><rect transform="translate(360.87 728) scale(0.942 1)" x="-44" width="88" height="1" fill="url(#gc2)" opacity="0.99"/><rect transform="translate(361.04 729) scale(0.942 1)" x="-44" width="88" height="1" fill="url(#gc2)" opacity="1"/><rect transform="translate(361.22 730) scale(0.942 1)" x="-44" width="88" height="1" fill="url(#gc2)" opacity="1"/><rect transform="translate(361.38 731) scale(0.942 1)" x="-44" width="88" height="1" fill="url(#gc2)" opacity="1"/><rect transform="translate(361.55 732) scale(0.942 1)" x="-44" width="88" height="1" fill="url(#gc2)" opacity="1"/><rect transform="translate(361.71 733) scale(0.942 1)" x="-44" width="88" height="1" fill="url(#gc2)" opacity="1"/><rect transform="translate(361.87 734) scale(0.942 1)" x="-44" width="88" height="1" fill="url(#gc2)" opacity="1"/><rect transform="translate(362.02 735) scale(0.942 1)" x="-44" width="88" height="1" fill="url(#gc2)" opacity="1"/><rect transform="translate(362.18 736) scale(0.942 1)" x="-44" width="88" height="1" fill="url(#gc2)" opacity="1"/><rect transform="translate(362.32 737) scale(0.942 1)" x="-44" width="88" height="1" fill="url(#gc2)" opacity="1"/><rect transform="translate(362.47 738) scale(0.941 1)" x="-44" width="88" height="1" fill="url(#gc2)" opacity="1"/><rect transform="translate(362.6 739) scale(0.941 1)" x="-44" width="88" height="1" fill="url(#gc2)" opacity="1"/><rect transform="translate(362.74 740) scale(0.941 1)" x="-44" width="88" height="1" fill="url(#gc2)" opacity="1"/><rect transform="translate(362.87 741) scale(0.941 1)" x="-44" width="88" height="1" fill="url(#gc2)" opacity="1"/><rect transform="translate(363 742) scale(0.941 1)" x="-44" width="88" height="1" fill="url(#gc2)" opacity="1"/><rect transform="translate(363.12 743) scale(0.941 1)" x="-44" width="88" height="1" fill="url(#gc2)" opacity="1"/><rect transform="translate(363.24 744) scale(0.941 1)" x="-44" width="88" height="1" fill="url(#gc2)" opacity="1"/><rect transform="translate(363.36 745) scale(0.941 1)" x="-44" width="88" height="1" fill="url(#gc2)" opacity="1"/><rect transform="translate(363.47 746) scale(0.941 1)" x="-44" width="88" height="1" fill="url(#gc2)" opacity="1"/><rect transform="translate(363.58 747) scale(0.941 1)" x="-44" width="88" height="1" fill="url(#gc2)" opacity="1"/><rect transform="translate(363.68 748) scale(0.941 1)" x="-44" width="88" height="1" fill="url(#gc2)" opacity="1"/><rect transform="translate(363.78 749) scale(0.941 1)" x="-44" width="88" height="1" fill="url(#gc2)" opacity="1"/><rect transform="translate(363.88 750) scale(0.941 1)" x="-44" width="88" height="1" fill="url(#gc2)" opacity="1"/><rect transform="translate(363.97 751) scale(0.941 1)" x="-44" width="88" height="1" fill="url(#gc2)" opacity="1"/><rect transform="translate(364.06 752) scale(0.941 1)" x="-44" width="88" height="1" fill="url(#gc2)" opacity="1"/><rect transform="translate(364.14 753) scale(0.941 1)" x="-44" width="88" height="1" fill="url(#gc2)" opacity="1"/><rect transform="translate(364.22 754) scale(0.941 1)" x="-44" width="88" height="1" fill="url(#gc2)" opacity="1"/><rect transform="translate(364.3 755) scale(0.941 1)" x="-44" width="88" height="1" fill="url(#gc2)" opacity="1"/><rect transform="translate(364.38 756) scale(0.94 1)" x="-44" width="88" height="1" fill="url(#gc2)" opacity="1"/><rect transform="translate(364.45 757) scale(0.94 1)" x="-44" width="88" height="1" fill="url(#gc2)" opacity="1"/><rect transform="translate(364.52 758) scale(0.94 1)" x="-44" width="88" height="1" fill="url(#gc2)" opacity="1"/><rect transform="translate(364.59 759) scale(0.94 1)" x="-44" width="88" height="1" fill="url(#gc2)" opacity="1"/><rect transform="translate(364.65 760) scale(0.94 1)" x="-44" width="88" height="1" fill="url(#gc2)" opacity="1"/><rect transform="translate(364.71 761) scale(0.94 1)" x="-44" width="88" height="1" fill="url(#gc2)" opacity="1"/><rect transform="translate(364.77 762) scale(0.94 1)" x="-44" width="88" height="1" fill="url(#gc2)" opacity="1"/><rect transform="translate(364.82 763) scale(0.94 1)" x="-44" width="88" height="1" fill="url(#gc2)" opacity="1"/><rect transform="translate(364.87 764) scale(0.94 1)" x="-44" width="88" height="1" fill="url(#gc2)" opacity="1"/><rect transform="translate(364.92 765) scale(0.94 1)" x="-44" width="88" height="1" fill="url(#gc2)" opacity="1"/><rect transform="translate(364.97 766) scale(0.94 1)" x="-44" width="88" height="1" fill="url(#gc2)" opacity="1"/><rect transform="translate(365.01 767) scale(0.94 1)" x="-44" width="88" height="1" fill="url(#gc2)" opacity="1"/><rect transform="translate(365.06 768) scale(0.94 1)" x="-44" width="88" height="1" fill="url(#gc2)" opacity="1"/><rect transform="translate(365.1 769) scale(0.94 1)" x="-44" width="88" height="1" fill="url(#gc2)" opacity="1"/><rect transform="translate(365.13 770) scale(0.94 1)" x="-44" width="88" height="1" fill="url(#gc2)" opacity="1"/><rect transform="translate(365.17 771) scale(0.94 1)" x="-44" width="88" height="1" fill="url(#gc2)" opacity="1"/><rect transform="translate(365.2 772) scale(0.94 1)" x="-44" width="88" height="1" fill="url(#gc2)" opacity="1"/><rect transform="translate(365.24 773) scale(0.94 1)" x="-44" width="88" height="1" fill="url(#gc2)" opacity="1"/><rect transform="translate(365.27 774) scale(0.94 1)" x="-44" width="88" height="1" fill="url(#gc2)" opacity="1"/><rect transform="translate(365.29 775) scale(0.94 1)" x="-44" width="88" height="1" fill="url(#gc2)" opacity="1"/><rect transform="translate(365.32 776) scale(0.94 1)" x="-44" width="88" height="1" fill="url(#gc2)" opacity="1"/><rect transform="translate(365.34 777) scale(0.94 1)" x="-44" width="88" height="1" fill="url(#gc2)" opacity="1"/><rect transform="translate(365.37 778) scale(0.94 1)" x="-44" width="88" height="1" fill="url(#gc2)" opacity="1"/><rect transform="translate(365.39 779) scale(0.94 1)" x="-44" width="88" height="1" fill="url(#gc2)" opacity="1"/><rect transform="translate(365.41 780) scale(0.94 1)" x="-44" width="88" height="1" fill="url(#gc2)" opacity="1"/><rect transform="translate(365.43 781) scale(0.94 1)" x="-44" width="88" height="1" fill="url(#gc2)" opacity="1"/><rect transform="translate(365.45 782) scale(0.94 1)" x="-44" width="88" height="1" fill="url(#gc2)" opacity="1"/><rect transform="translate(365.46 783) scale(0.94 1)" x="-44" width="88" height="1" fill="url(#gc2)" opacity="1"/><rect transform="translate(365.48 784) scale(0.94 1)" x="-44" width="88" height="1" fill="url(#gc2)" opacity="1"/><rect transform="translate(365.49 785) scale(0.94 1)" x="-44" width="88" height="1" fill="url(#gc2)" opacity="1"/><rect transform="translate(365.51 786) scale(0.94 1)" x="-44" width="88" height="1" fill="url(#gc2)" opacity="1"/><rect transform="translate(365.52 787) scale(0.94 1)" x="-44" width="88" height="1" fill="url(#gc2)" opacity="1"/><rect transform="translate(365.53 788) scale(0.94 1)" x="-44" width="88" height="1" fill="url(#gc2)" opacity="1"/><rect transform="translate(365.54 789) scale(0.94 1)" x="-44" width="88" height="1" fill="url(#gc2)" opacity="1"/><rect transform="translate(365.55 790) scale(0.94 1)" x="-44" width="88" height="1" fill="url(#gc2)" opacity="1"/><rect transform="translate(365.56 791) scale(0.94 1)" x="-44" width="88" height="1" fill="url(#gc2)" opacity="1"/><rect transform="translate(365.57 792) scale(0.94 1)" x="-44" width="88" height="1" fill="url(#gc2)" opacity="1"/><rect transform="translate(365.58 793) scale(0.94 1)" x="-44" width="88" height="1" fill="url(#gc2)" opacity="1"/><rect transform="translate(365.59 794) scale(0.94 1)" x="-44" width="88" height="1" fill="url(#gc2)" opacity="1"/><rect transform="translate(365.6 795) scale(0.94 1)" x="-44" width="88" height="1" fill="url(#gc2)" opacity="1"/><rect x="116" y="453" width="130" height="130" fill="url(#ctl)"/></g>
<g clip-path="url(#cd)"><rect transform="translate(1001.17 453) scale(0.92 1)" x="-341.5" width="450.5" height="1" fill="url(#gd)"/><rect transform="translate(1000.04 454) scale(0.92 1)" x="-340.3" width="450.5" height="1" fill="url(#gd)"/><rect transform="translate(998.9 455) scale(0.92 1)" x="-338.9" width="450.4" height="1" fill="url(#gd)"/><rect transform="translate(997.76 456) scale(0.921 1)" x="-337.5" width="450.2" height="1" fill="url(#gd)"/><rect transform="translate(996.63 457) scale(0.921 1)" x="-336.1" width="450" height="1" fill="url(#gd)"/><rect transform="translate(995.5 458) scale(0.922 1)" x="-334.8" width="449.8" height="1" fill="url(#gd)"/><rect transform="translate(994.37 459) scale(0.922 1)" x="-333.4" width="449.6" height="1" fill="url(#gd)"/><rect transform="translate(993.24 460) scale(0.922 1)" x="-332" width="449.3" height="1" fill="url(#gd)"/><rect transform="translate(992.11 461) scale(0.923 1)" x="-330.6" width="449.1" height="1" fill="url(#gd)"/><rect transform="translate(990.99 462) scale(0.923 1)" x="-329.2" width="448.9" height="1" fill="url(#gd)"/><rect transform="translate(989.87 463) scale(0.924 1)" x="-327.9" width="448.7" height="1" fill="url(#gd)"/><rect transform="translate(988.75 464) scale(0.924 1)" x="-326.5" width="448.5" height="1" fill="url(#gd)"/><rect transform="translate(987.63 465) scale(0.925 1)" x="-325.1" width="448.3" height="1" fill="url(#gd)"/><rect transform="translate(986.51 466) scale(0.925 1)" x="-323.8" width="448.1" height="1" fill="url(#gd)"/><rect transform="translate(985.4 467) scale(0.926 1)" x="-322.4" width="447.8" height="1" fill="url(#gd)"/><rect transform="translate(984.29 468) scale(0.926 1)" x="-321" width="447.6" height="1" fill="url(#gd)"/><rect transform="translate(983.17 469) scale(0.926 1)" x="-319.7" width="447.4" height="1" fill="url(#gd)"/><rect transform="translate(982.07 470) scale(0.927 1)" x="-318.3" width="447.2" height="1" fill="url(#gd)"/><rect transform="translate(980.96 471) scale(0.927 1)" x="-317" width="447" height="1" fill="url(#gd)"/><rect transform="translate(979.85 472) scale(0.928 1)" x="-315.7" width="446.8" height="1" fill="url(#gd)"/><rect transform="translate(978.75 473) scale(0.928 1)" x="-314.3" width="446.6" height="1" fill="url(#gd)"/><rect transform="translate(977.65 474) scale(0.929 1)" x="-313" width="446.3" height="1" fill="url(#gd)"/><rect transform="translate(976.55 475) scale(0.929 1)" x="-311.6" width="446.1" height="1" fill="url(#gd)"/><rect transform="translate(975.46 476) scale(0.93 1)" x="-310.3" width="445.9" height="1" fill="url(#gd)"/><rect transform="translate(974.36 477) scale(0.93 1)" x="-309" width="445.7" height="1" fill="url(#gd)"/><rect transform="translate(973.27 478) scale(0.93 1)" x="-307.7" width="445.5" height="1" fill="url(#gd)"/><rect transform="translate(972.18 479) scale(0.931 1)" x="-306.3" width="445.3" height="1" fill="url(#gd)"/><rect transform="translate(971.09 480) scale(0.931 1)" x="-305" width="445.1" height="1" fill="url(#gd)"/><rect transform="translate(970 481) scale(0.932 1)" x="-303.7" width="444.8" height="1" fill="url(#gd)"/><rect transform="translate(968.92 482) scale(0.932 1)" x="-302.4" width="444.6" height="1" fill="url(#gd)"/><rect transform="translate(967.84 483) scale(0.933 1)" x="-301.1" width="444.4" height="1" fill="url(#gd)"/><rect transform="translate(966.75 484) scale(0.933 1)" x="-299.8" width="444.2" height="1" fill="url(#gd)"/><rect transform="translate(965.68 485) scale(0.934 1)" x="-298.5" width="444" height="1" fill="url(#gd)"/><rect transform="translate(964.6 486) scale(0.934 1)" x="-297.2" width="443.8" height="1" fill="url(#gd)"/><rect transform="translate(963.53 487) scale(0.934 1)" x="-295.9" width="443.6" height="1" fill="url(#gd)"/><rect transform="translate(962.45 488) scale(0.935 1)" x="-294.6" width="443.4" height="1" fill="url(#gd)"/><rect transform="translate(961.38 489) scale(0.935 1)" x="-293.4" width="443.2" height="1" fill="url(#gd)"/><rect transform="translate(960.32 490) scale(0.936 1)" x="-292.1" width="442.9" height="1" fill="url(#gd)"/><rect transform="translate(959.25 491) scale(0.936 1)" x="-290.8" width="442.7" height="1" fill="url(#gd)"/><rect transform="translate(958.19 492) scale(0.937 1)" x="-289.5" width="442.5" height="1" fill="url(#gd)"/><rect transform="translate(957.13 493) scale(0.937 1)" x="-288.3" width="442.3" height="1" fill="url(#gd)"/><rect transform="translate(956.07 494) scale(0.938 1)" x="-287" width="442.1" height="1" fill="url(#gd)"/><rect transform="translate(955.01 495) scale(0.938 1)" x="-285.7" width="441.9" height="1" fill="url(#gd)"/><rect transform="translate(953.95 496) scale(0.938 1)" x="-284.5" width="441.7" height="1" fill="url(#gd)"/><rect transform="translate(952.9 497) scale(0.939 1)" x="-283.2" width="441.5" height="1" fill="url(#gd)"/><rect transform="translate(951.85 498) scale(0.939 1)" x="-282" width="441.3" height="1" fill="url(#gd)"/><rect transform="translate(950.8 499) scale(0.94 1)" x="-280.7" width="441.1" height="1" fill="url(#gd)"/><rect transform="translate(949.76 500) scale(0.94 1)" x="-279.5" width="440.9" height="1" fill="url(#gd)"/><rect transform="translate(948.71 501) scale(0.94 1)" x="-278.3" width="440.8" height="1" fill="url(#gd)"/><rect transform="translate(947.67 502) scale(0.941 1)" x="-277.1" width="440.6" height="1" fill="url(#gd)"/><rect transform="translate(946.63 503) scale(0.941 1)" x="-275.9" width="440.5" height="1" fill="url(#gd)"/><rect transform="translate(945.59 504) scale(0.941 1)" x="-274.7" width="440.3" height="1" fill="url(#gd)"/><rect transform="translate(944.56 505) scale(0.942 1)" x="-273.5" width="440.2" height="1" fill="url(#gd)"/><rect transform="translate(943.52 506) scale(0.942 1)" x="-272.3" width="440.1" height="1" fill="url(#gd)"/><rect transform="translate(942.49 507) scale(0.942 1)" x="-271.2" width="439.9" height="1" fill="url(#gd)"/><rect transform="translate(941.46 508) scale(0.942 1)" x="-270" width="439.8" height="1" fill="url(#gd)"/><rect transform="translate(940.44 509) scale(0.943 1)" x="-268.8" width="439.7" height="1" fill="url(#gd)"/><rect transform="translate(939.41 510) scale(0.943 1)" x="-267.7" width="439.5" height="1" fill="url(#gd)"/><rect transform="translate(938.39 511) scale(0.943 1)" x="-266.5" width="439.4" height="1" fill="url(#gd)"/><rect transform="translate(937.37 512) scale(0.944 1)" x="-265.3" width="439.3" height="1" fill="url(#gd)"/><rect transform="translate(936.36 513) scale(0.944 1)" x="-264.2" width="439.1" height="1" fill="url(#gd)"/><rect transform="translate(935.34 514) scale(0.944 1)" x="-263" width="439" height="1" fill="url(#gd)"/><rect transform="translate(934.33 515) scale(0.945 1)" x="-261.9" width="438.8" height="1" fill="url(#gd)"/><rect transform="translate(933.32 516) scale(0.945 1)" x="-260.7" width="438.7" height="1" fill="url(#gd)"/><rect transform="translate(932.31 517) scale(0.945 1)" x="-259.6" width="438.6" height="1" fill="url(#gd)"/><rect transform="translate(931.3 518) scale(0.945 1)" x="-258.4" width="438.4" height="1" fill="url(#gd)"/><rect transform="translate(930.3 519) scale(0.946 1)" x="-257.3" width="438.3" height="1" fill="url(#gd)"/><rect transform="translate(929.3 520) scale(0.946 1)" x="-256.1" width="438.2" height="1" fill="url(#gd)"/><rect transform="translate(928.3 521) scale(0.946 1)" x="-255" width="438" height="1" fill="url(#gd)"/><rect transform="translate(927.31 522) scale(0.947 1)" x="-253.9" width="437.9" height="1" fill="url(#gd)"/><rect transform="translate(926.31 523) scale(0.947 1)" x="-252.7" width="437.8" height="1" fill="url(#gd)"/><rect transform="translate(925.32 524) scale(0.947 1)" x="-251.6" width="437.6" height="1" fill="url(#gd)"/><rect transform="translate(924.33 525) scale(0.947 1)" x="-250.5" width="437.5" height="1" fill="url(#gd)"/><rect transform="translate(923.34 526) scale(0.948 1)" x="-249.4" width="437.4" height="1" fill="url(#gd)"/><rect transform="translate(922.36 527) scale(0.948 1)" x="-248.3" width="437.2" height="1" fill="url(#gd)"/><rect transform="translate(921.38 528) scale(0.948 1)" x="-247.2" width="437.1" height="1" fill="url(#gd)"/><rect transform="translate(920.4 529) scale(0.949 1)" x="-246" width="437" height="1" fill="url(#gd)"/><rect transform="translate(919.42 530) scale(0.949 1)" x="-244.9" width="436.8" height="1" fill="url(#gd)"/><rect transform="translate(918.45 531) scale(0.949 1)" x="-243.8" width="436.7" height="1" fill="url(#gd)"/><rect transform="translate(917.48 532) scale(0.949 1)" x="-242.7" width="436.6" height="1" fill="url(#gd)"/><rect transform="translate(916.51 533) scale(0.95 1)" x="-241.6" width="436.4" height="1" fill="url(#gd)"/><rect transform="translate(915.54 534) scale(0.95 1)" x="-240.6" width="436.3" height="1" fill="url(#gd)"/><rect transform="translate(914.57 535) scale(0.95 1)" x="-239.5" width="436.2" height="1" fill="url(#gd)"/><rect transform="translate(913.61 536) scale(0.951 1)" x="-238.4" width="436" height="1" fill="url(#gd)"/><rect transform="translate(912.65 537) scale(0.951 1)" x="-237.3" width="435.9" height="1" fill="url(#gd)"/><rect transform="translate(911.69 538) scale(0.951 1)" x="-236.2" width="435.8" height="1" fill="url(#gd)"/><rect transform="translate(910.74 539) scale(0.952 1)" x="-235.1" width="435.6" height="1" fill="url(#gd)"/><rect transform="translate(909.79 540) scale(0.952 1)" x="-234.1" width="435.5" height="1" fill="url(#gd)"/><rect transform="translate(908.84 541) scale(0.952 1)" x="-233" width="435.4" height="1" fill="url(#gd)"/><rect transform="translate(907.89 542) scale(0.952 1)" x="-231.9" width="435.2" height="1" fill="url(#gd)"/><rect transform="translate(906.94 543) scale(0.953 1)" x="-230.9" width="435.1" height="1" fill="url(#gd)"/><rect transform="translate(906 544) scale(0.953 1)" x="-229.8" width="435" height="1" fill="url(#gd)"/><rect transform="translate(905.06 545) scale(0.953 1)" x="-228.8" width="434.8" height="1" fill="url(#gd)"/><rect transform="translate(904.12 546) scale(0.954 1)" x="-227.7" width="434.7" height="1" fill="url(#gd)"/><rect transform="translate(903.19 547) scale(0.954 1)" x="-226.6" width="434.6" height="1" fill="url(#gd)"/><rect transform="translate(902.26 548) scale(0.954 1)" x="-225.6" width="434.4" height="1" fill="url(#gd)"/><rect transform="translate(901.33 549) scale(0.954 1)" x="-224.6" width="434.3" height="1" fill="url(#gd)"/><rect transform="translate(900.4 550) scale(0.955 1)" x="-223.5" width="434.2" height="1" fill="url(#gd)"/><rect transform="translate(899.48 551) scale(0.955 1)" x="-222.5" width="434" height="1" fill="url(#gd)"/><rect transform="translate(898.55 552) scale(0.955 1)" x="-221.5" width="433.9" height="1" fill="url(#gd)"/><rect transform="translate(897.64 553) scale(0.956 1)" x="-220.4" width="433.8" height="1" fill="url(#gd)"/><rect transform="translate(896.72 554) scale(0.956 1)" x="-219.4" width="433.6" height="1" fill="url(#gd)"/><rect transform="translate(895.8 555) scale(0.956 1)" x="-218.4" width="433.5" height="1" fill="url(#gd)"/><rect transform="translate(894.89 556) scale(0.956 1)" x="-217.4" width="433.4" height="1" fill="url(#gd)"/><rect transform="translate(893.98 557) scale(0.957 1)" x="-216.3" width="433.2" height="1" fill="url(#gd)"/><rect transform="translate(893.08 558) scale(0.957 1)" x="-215.3" width="433.1" height="1" fill="url(#gd)"/><rect transform="translate(892.17 559) scale(0.957 1)" x="-214.3" width="433" height="1" fill="url(#gd)"/><rect transform="translate(891.27 560) scale(0.958 1)" x="-213.3" width="432.8" height="1" fill="url(#gd)"/><rect transform="translate(890.38 561) scale(0.958 1)" x="-212.3" width="432.7" height="1" fill="url(#gd)"/><rect transform="translate(889.48 562) scale(0.958 1)" x="-211.3" width="432.6" height="1" fill="url(#gd)"/><rect transform="translate(888.59 563) scale(0.959 1)" x="-210.3" width="432.4" height="1" fill="url(#gd)"/><rect transform="translate(887.7 564) scale(0.959 1)" x="-209.3" width="432.3" height="1" fill="url(#gd)"/><rect transform="translate(886.81 565) scale(0.959 1)" x="-208.3" width="432.2" height="1" fill="url(#gd)"/><rect transform="translate(885.92 566) scale(0.959 1)" x="-207.3" width="432" height="1" fill="url(#gd)"/><rect transform="translate(885.04 567) scale(0.96 1)" x="-206.4" width="431.9" height="1" fill="url(#gd)"/><rect transform="translate(884.16 568) scale(0.96 1)" x="-205.4" width="431.8" height="1" fill="url(#gd)"/><rect transform="translate(883.29 569) scale(0.96 1)" x="-204.4" width="431.6" height="1" fill="url(#gd)"/><rect transform="translate(882.41 570) scale(0.961 1)" x="-203.4" width="431.5" height="1" fill="url(#gd)"/><rect transform="translate(881.54 571) scale(0.961 1)" x="-202.5" width="431.4" height="1" fill="url(#gd)"/><rect transform="translate(880.67 572) scale(0.961 1)" x="-201.5" width="431.3" height="1" fill="url(#gd)"/><rect transform="translate(879.81 573) scale(0.961 1)" x="-200.5" width="431.1" height="1" fill="url(#gd)"/><rect transform="translate(878.94 574) scale(0.962 1)" x="-199.6" width="431" height="1" fill="url(#gd)"/><rect transform="translate(878.08 575) scale(0.962 1)" x="-198.6" width="430.9" height="1" fill="url(#gd)"/><rect transform="translate(877.23 576) scale(0.962 1)" x="-197.7" width="430.7" height="1" fill="url(#gd)"/><rect transform="translate(876.37 577) scale(0.963 1)" x="-196.7" width="430.6" height="1" fill="url(#gd)"/><rect transform="translate(875.52 578) scale(0.963 1)" x="-195.8" width="430.5" height="1" fill="url(#gd)"/><rect transform="translate(874.67 579) scale(0.963 1)" x="-194.8" width="430.3" height="1" fill="url(#gd)"/><rect transform="translate(873.82 580) scale(0.963 1)" x="-193.9" width="430.2" height="1" fill="url(#gd)"/><rect transform="translate(872.98 581) scale(0.964 1)" x="-193" width="430.1" height="1" fill="url(#gd)"/><rect transform="translate(872.14 582) scale(0.964 1)" x="-192" width="430" height="1" fill="url(#gd)"/><rect transform="translate(871.3 583) scale(0.964 1)" x="-191.1" width="429.8" height="1" fill="url(#gd)"/><rect transform="translate(870.47 584) scale(0.965 1)" x="-190.2" width="429.7" height="1" fill="url(#gd)"/><rect transform="translate(869.63 585) scale(0.965 1)" x="-189.3" width="429.6" height="1" fill="url(#gd)"/><rect transform="translate(868.8 586) scale(0.965 1)" x="-188.4" width="429.4" height="1" fill="url(#gd)"/><rect transform="translate(867.98 587) scale(0.966 1)" x="-187.4" width="429.3" height="1" fill="url(#gd)"/><rect transform="translate(867.15 588) scale(0.966 1)" x="-186.5" width="429.2" height="1" fill="url(#gd)"/><rect transform="translate(866.33 589) scale(0.966 1)" x="-185.6" width="429" height="1" fill="url(#gd)"/><rect transform="translate(865.52 590) scale(0.966 1)" x="-184.7" width="428.9" height="1" fill="url(#gd)"/><rect transform="translate(864.7 591) scale(0.967 1)" x="-183.8" width="428.8" height="1" fill="url(#gd)"/><rect transform="translate(863.89 592) scale(0.967 1)" x="-182.9" width="428.7" height="1" fill="url(#gd)"/><rect transform="translate(863.08 593) scale(0.967 1)" x="-182" width="428.5" height="1" fill="url(#gd)"/><rect transform="translate(862.27 594) scale(0.968 1)" x="-181.1" width="428.4" height="1" fill="url(#gd)"/><rect transform="translate(861.47 595) scale(0.968 1)" x="-180.3" width="428.3" height="1" fill="url(#gd)"/><rect transform="translate(860.67 596) scale(0.968 1)" x="-179.4" width="428.1" height="1" fill="url(#gd)"/><rect transform="translate(859.87 597) scale(0.968 1)" x="-178.5" width="428" height="1" fill="url(#gd)"/><rect transform="translate(859.08 598) scale(0.969 1)" x="-177.6" width="427.9" height="1" fill="url(#gd)"/><rect transform="translate(858.29 599) scale(0.969 1)" x="-176.8" width="427.8" height="1" fill="url(#gd)"/><rect transform="translate(857.5 600) scale(0.969 1)" x="-175.9" width="427.6" height="1" fill="url(#gd)"/><rect transform="translate(856.71 601) scale(0.97 1)" x="-175" width="427.5" height="1" fill="url(#gd)"/><rect transform="translate(855.93 602) scale(0.97 1)" x="-174.2" width="427.4" height="1" fill="url(#gd)"/><rect transform="translate(855.15 603) scale(0.97 1)" x="-173.3" width="427.2" height="1" fill="url(#gd)"/><rect transform="translate(854.37 604) scale(0.97 1)" x="-172.5" width="427.1" height="1" fill="url(#gd)"/><rect transform="translate(853.6 605) scale(0.971 1)" x="-171.6" width="427" height="1" fill="url(#gd)"/><rect transform="translate(852.83 606) scale(0.971 1)" x="-170.8" width="426.9" height="1" fill="url(#gd)"/><rect transform="translate(852.06 607) scale(0.971 1)" x="-169.9" width="426.7" height="1" fill="url(#gd)"/><rect transform="translate(851.3 608) scale(0.972 1)" x="-169.1" width="426.6" height="1" fill="url(#gd)"/><rect transform="translate(850.53 609) scale(0.972 1)" x="-168.3" width="426.5" height="1" fill="url(#gd)"/><rect transform="translate(849.78 610) scale(0.972 1)" x="-167.4" width="426.3" height="1" fill="url(#gd)"/><rect transform="translate(849.02 611) scale(0.973 1)" x="-166.6" width="426.2" height="1" fill="url(#gd)"/><rect transform="translate(848.27 612) scale(0.973 1)" x="-165.8" width="426.1" height="1" fill="url(#gd)"/><rect transform="translate(847.52 613) scale(0.973 1)" x="-165" width="426" height="1" fill="url(#gd)"/><rect transform="translate(846.77 614) scale(0.973 1)" x="-164.1" width="425.8" height="1" fill="url(#gd)"/><rect transform="translate(846.03 615) scale(0.974 1)" x="-163.3" width="425.7" height="1" fill="url(#gd)"/><rect transform="translate(845.29 616) scale(0.974 1)" x="-162.5" width="425.6" height="1" fill="url(#gd)"/><rect transform="translate(844.55 617) scale(0.974 1)" x="-161.7" width="425.4" height="1" fill="url(#gd)"/><rect transform="translate(843.82 618) scale(0.975 1)" x="-160.9" width="425.3" height="1" fill="url(#gd)"/><rect transform="translate(843.08 619) scale(0.975 1)" x="-160.1" width="425.2" height="1" fill="url(#gd)"/><rect transform="translate(842.36 620) scale(0.975 1)" x="-159.3" width="425.1" height="1" fill="url(#gd)"/><rect transform="translate(841.63 621) scale(0.975 1)" x="-158.5" width="424.9" height="1" fill="url(#gd)"/><rect transform="translate(840.91 622) scale(0.976 1)" x="-157.7" width="424.8" height="1" fill="url(#gd)"/><rect transform="translate(840.19 623) scale(0.976 1)" x="-156.9" width="424.7" height="1" fill="url(#gd)"/><rect transform="translate(839.48 624) scale(0.976 1)" x="-156.2" width="424.5" height="1" fill="url(#gd)"/><rect transform="translate(838.76 625) scale(0.977 1)" x="-155.4" width="424.4" height="1" fill="url(#gd)"/><rect transform="translate(838.06 626) scale(0.977 1)" x="-154.6" width="424.2" height="1" fill="url(#gd)"/><rect transform="translate(837.35 627) scale(0.977 1)" x="-153.8" width="424.1" height="1" fill="url(#gd)"/><rect transform="translate(836.65 628) scale(0.978 1)" x="-153.1" width="424" height="1" fill="url(#gd)"/><rect transform="translate(835.95 629) scale(0.978 1)" x="-152.3" width="423.8" height="1" fill="url(#gd)"/><rect transform="translate(835.25 630) scale(0.978 1)" x="-151.5" width="423.7" height="1" fill="url(#gd)"/><rect transform="translate(834.56 631) scale(0.979 1)" x="-150.8" width="423.6" height="1" fill="url(#gd)"/><rect transform="translate(833.87 632) scale(0.979 1)" x="-150" width="423.4" height="1" fill="url(#gd)"/><rect transform="translate(833.18 633) scale(0.979 1)" x="-149.3" width="423.3" height="1" fill="url(#gd)"/><rect transform="translate(832.5 634) scale(0.98 1)" x="-148.5" width="423.2" height="1" fill="url(#gd)"/><rect transform="translate(831.82 635) scale(0.98 1)" x="-147.8" width="423" height="1" fill="url(#gd)"/><rect transform="translate(831.14 636) scale(0.98 1)" x="-147.1" width="422.9" height="1" fill="url(#gd)"/><rect transform="translate(830.47 637) scale(0.98 1)" x="-146.3" width="422.8" height="1" fill="url(#gd)"/><rect transform="translate(829.79 638) scale(0.981 1)" x="-145.6" width="422.6" height="1" fill="url(#gd)"/><rect transform="translate(829.13 639) scale(0.981 1)" x="-144.9" width="422.5" height="1" fill="url(#gd)"/><rect transform="translate(828.46 640) scale(0.981 1)" x="-144.1" width="422.4" height="1" fill="url(#gd)"/><rect transform="translate(827.8 641) scale(0.982 1)" x="-143.4" width="422.2" height="1" fill="url(#gd)"/><rect transform="translate(827.14 642) scale(0.982 1)" x="-142.7" width="422.1" height="1" fill="url(#gd)"/><rect transform="translate(826.49 643) scale(0.982 1)" x="-142" width="422" height="1" fill="url(#gd)"/><rect transform="translate(825.84 644) scale(0.983 1)" x="-141.3" width="421.8" height="1" fill="url(#gd)"/><rect transform="translate(825.19 645) scale(0.983 1)" x="-140.6" width="421.7" height="1" fill="url(#gd)"/><rect transform="translate(824.55 646) scale(0.983 1)" x="-139.9" width="421.5" height="1" fill="url(#gd)"/><rect transform="translate(823.91 647) scale(0.984 1)" x="-139.2" width="421.4" height="1" fill="url(#gd)"/><rect transform="translate(823.27 648) scale(0.984 1)" x="-138.5" width="421.3" height="1" fill="url(#gd)"/><rect transform="translate(822.63 649) scale(0.984 1)" x="-137.8" width="421.1" height="1" fill="url(#gd)"/><rect transform="translate(822 650) scale(0.985 1)" x="-137.1" width="421" height="1" fill="url(#gd)"/><rect transform="translate(821.38 651) scale(0.985 1)" x="-136.4" width="420.9" height="1" fill="url(#gd)"/><rect transform="translate(820.75 652) scale(0.985 1)" x="-135.8" width="420.7" height="1" fill="url(#gd)"/><rect transform="translate(820.13 653) scale(0.985 1)" x="-135.1" width="420.6" height="1" fill="url(#gd)"/><rect transform="translate(819.51 654) scale(0.986 1)" x="-134.4" width="420.5" height="1" fill="url(#gd)"/><rect transform="translate(818.9 655) scale(0.986 1)" x="-133.8" width="420.3" height="1" fill="url(#gd)"/><rect transform="translate(818.29 656) scale(0.986 1)" x="-133.1" width="420.2" height="1" fill="url(#gd)"/><rect transform="translate(817.68 657) scale(0.987 1)" x="-132.4" width="420.1" height="1" fill="url(#gd)"/><rect transform="translate(817.08 658) scale(0.987 1)" x="-131.8" width="419.9" height="1" fill="url(#gd)"/><rect transform="translate(816.48 659) scale(0.987 1)" x="-131.1" width="419.8" height="1" fill="url(#gd)"/><rect transform="translate(815.88 660) scale(0.988 1)" x="-130.5" width="419.7" height="1" fill="url(#gd)"/><rect transform="translate(815.28 661) scale(0.988 1)" x="-129.8" width="419.5" height="1" fill="url(#gd)"/><rect transform="translate(814.69 662) scale(0.988 1)" x="-129.2" width="419.4" height="1" fill="url(#gd)"/><rect transform="translate(814.11 663) scale(0.989 1)" x="-128.6" width="419.3" height="1" fill="url(#gd)"/><rect transform="translate(813.52 664) scale(0.989 1)" x="-127.9" width="419.1" height="1" fill="url(#gd)"/><rect transform="translate(812.94 665) scale(0.989 1)" x="-127.3" width="419" height="1" fill="url(#gd)"/><rect transform="translate(812.37 666) scale(0.99 1)" x="-126.7" width="418.9" height="1" fill="url(#gd)"/><rect transform="translate(811.79 667) scale(0.99 1)" x="-126.1" width="418.8" height="1" fill="url(#gd)"/><rect transform="translate(811.22 668) scale(0.99 1)" x="-125.5" width="418.6" height="1" fill="url(#gd)"/><rect transform="translate(810.66 669) scale(0.99 1)" x="-124.8" width="418.5" height="1" fill="url(#gd)"/><rect transform="translate(810.09 670) scale(0.991 1)" x="-124.2" width="418.4" height="1" fill="url(#gd)"/><rect transform="translate(809.54 671) scale(0.991 1)" x="-123.6" width="418.2" height="1" fill="url(#gd)"/><rect transform="translate(808.98 672) scale(0.991 1)" x="-123" width="418.1" height="1" fill="url(#gd)"/><rect transform="translate(808.43 673) scale(0.992 1)" x="-122.4" width="418" height="1" fill="url(#gd)"/><rect transform="translate(807.88 674) scale(0.992 1)" x="-121.9" width="417.8" height="1" fill="url(#gd)"/><rect transform="translate(807.33 675) scale(0.992 1)" x="-121.3" width="417.7" height="1" fill="url(#gd)"/><rect transform="translate(806.79 676) scale(0.993 1)" x="-120.7" width="417.6" height="1" fill="url(#gd)"/><rect transform="translate(806.25 677) scale(0.993 1)" x="-120.1" width="417.4" height="1" fill="url(#gd)"/><rect transform="translate(805.72 678) scale(0.993 1)" x="-119.5" width="417.3" height="1" fill="url(#gd)"/><rect transform="translate(805.19 679) scale(0.994 1)" x="-119" width="417.2" height="1" fill="url(#gd)"/><rect transform="translate(804.66 680) scale(0.994 1)" x="-118.4" width="417" height="1" fill="url(#gd)"/><rect transform="translate(804.14 681) scale(0.994 1)" x="-117.8" width="416.9" height="1" fill="url(#gd)"/><rect transform="translate(803.62 682) scale(0.995 1)" x="-117.3" width="416.8" height="1" fill="url(#gd)"/><rect transform="translate(803.1 683) scale(0.995 1)" x="-116.7" width="416.6" height="1" fill="url(#gd)"/><rect transform="translate(802.59 684) scale(0.995 1)" x="-116.2" width="416.5" height="1" fill="url(#gd)"/><rect transform="translate(802.08 685) scale(0.995 1)" x="-115.6" width="416.4" height="1" fill="url(#gd)"/><rect transform="translate(801.57 686) scale(0.996 1)" x="-115.1" width="416.3" height="1" fill="url(#gd)"/><rect transform="translate(801.07 687) scale(0.996 1)" x="-114.5" width="416.1" height="1" fill="url(#gd)"/><rect transform="translate(800.57 688) scale(0.996 1)" x="-114" width="416" height="1" fill="url(#gd)"/><rect transform="translate(800.08 689) scale(0.997 1)" x="-113.4" width="415.9" height="1" fill="url(#gd)"/><rect transform="translate(799.59 690) scale(0.997 1)" x="-112.9" width="415.7" height="1" fill="url(#gd)"/><rect transform="translate(799.1 691) scale(0.997 1)" x="-112.4" width="415.6" height="1" fill="url(#gd)"/><rect transform="translate(798.61 692) scale(0.998 1)" x="-111.9" width="415.5" height="1" fill="url(#gd)"/><rect transform="translate(798.13 693) scale(0.998 1)" x="-111.4" width="415.3" height="1" fill="url(#gd)"/><rect transform="translate(797.66 694) scale(0.998 1)" x="-110.8" width="415.2" height="1" fill="url(#gd)"/><rect transform="translate(797.19 695) scale(0.999 1)" x="-110.3" width="415.1" height="1" fill="url(#gd)"/><rect transform="translate(796.72 696) scale(0.999 1)" x="-109.8" width="415" height="1" fill="url(#gd)"/><rect transform="translate(796.25 697) scale(0.999 1)" x="-109.3" width="414.8" height="1" fill="url(#gd)"/><rect transform="translate(795.79 698) scale(1 1)" x="-108.8" width="414.7" height="1" fill="url(#gd)"/><rect transform="translate(795.33 699) scale(1 1)" x="-108.3" width="414.6" height="1" fill="url(#gd)"/><rect transform="translate(794.88 700) scale(1 1)" x="-107.9" width="414.5" height="1" fill="url(#gd)"/><rect transform="translate(794.43 701) scale(1 1)" x="-107.4" width="414.5" height="1" fill="url(#gd)"/><rect transform="translate(793.98 702) scale(1 1)" x="-107" width="414.5" height="1" fill="url(#gd)"/><rect transform="translate(793.54 703) scale(1 1)" x="-106.5" width="414.5" height="1" fill="url(#gd)"/><rect transform="translate(793.1 704) scale(1 1)" x="-106.1" width="414.5" height="1" fill="url(#gd)"/><rect transform="translate(792.66 705) scale(1 1)" x="-105.7" width="414.5" height="1" fill="url(#gd)"/><rect transform="translate(792.23 706) scale(1 1)" x="-105.2" width="414.5" height="1" fill="url(#gd)"/><rect transform="translate(791.8 707) scale(1 1)" x="-104.8" width="414.5" height="1" fill="url(#gd)"/><rect transform="translate(791.38 708) scale(1 1)" x="-104.4" width="414.5" height="1" fill="url(#gd)"/><rect transform="translate(790.96 709) scale(1 1)" x="-104" width="414.5" height="1" fill="url(#gd)"/><rect transform="translate(790.54 710) scale(1 1)" x="-103.5" width="414.5" height="1" fill="url(#gd)"/><rect transform="translate(790.13 711) scale(1 1)" x="-103.1" width="414.5" height="1" fill="url(#gd)"/><rect transform="translate(789.72 712) scale(1 1)" x="-102.7" width="414.5" height="1" fill="url(#gd)"/><rect transform="translate(789.31 713) scale(1 1)" x="-102.3" width="414.5" height="1" fill="url(#gd)"/><rect transform="translate(788.91 714) scale(1 1)" x="-101.9" width="414.5" height="1" fill="url(#gd)"/><rect transform="translate(788.51 715) scale(1 1)" x="-101.5" width="414.5" height="1" fill="url(#gd)"/><rect transform="translate(788.12 716) scale(1 1)" x="-101.1" width="414.5" height="1" fill="url(#gd)"/><rect transform="translate(787.73 717) scale(1 1)" x="-100.7" width="414.5" height="1" fill="url(#gd)"/><rect transform="translate(787.34 718) scale(1 1)" x="-100.3" width="414.5" height="1" fill="url(#gd)"/><rect transform="translate(786.96 719) scale(1 1)" x="-100" width="414.5" height="1" fill="url(#gd)"/><rect transform="translate(786.58 720) scale(1 1)" x="-99.6" width="414.5" height="1" fill="url(#gd)"/><rect transform="translate(786.21 721) scale(1 1)" x="-99.2" width="414.5" height="1" fill="url(#gd)"/><rect transform="translate(785.84 722) scale(1 1)" x="-98.8" width="414.5" height="1" fill="url(#gd)"/><rect transform="translate(785.47 723) scale(1 1)" x="-98.5" width="414.5" height="1" fill="url(#gd)"/><rect transform="translate(785.11 724) scale(1 1)" x="-98.1" width="414.5" height="1" fill="url(#gd)"/><rect transform="translate(784.75 725) scale(1 1)" x="-97.8" width="414.5" height="1" fill="url(#gd)"/><rect transform="translate(784.4 726) scale(1 1)" x="-97.4" width="414.5" height="1" fill="url(#gd)"/><rect transform="translate(784.04 727) scale(1 1)" x="-97" width="414.5" height="1" fill="url(#gd)"/><rect transform="translate(783.7 728) scale(1 1)" x="-96.7" width="414.5" height="1" fill="url(#gd)"/><rect transform="translate(783.35 729) scale(1 1)" x="-96.4" width="414.5" height="1" fill="url(#gd)"/><rect transform="translate(783.02 730) scale(1 1)" x="-96" width="414.5" height="1" fill="url(#gd)"/><rect transform="translate(782.68 731) scale(1 1)" x="-95.7" width="414.5" height="1" fill="url(#gd)"/><rect transform="translate(782.35 732) scale(1 1)" x="-95.3" width="414.5" height="1" fill="url(#gd)"/><rect transform="translate(782.02 733) scale(1 1)" x="-95" width="414.5" height="1" fill="url(#gd)"/><rect transform="translate(781.7 734) scale(1 1)" x="-94.7" width="414.5" height="1" fill="url(#gd)"/><rect transform="translate(781.38 735) scale(1 1)" x="-94.4" width="414.5" height="1" fill="url(#gd)"/><rect transform="translate(781.06 736) scale(1 1)" x="-94.1" width="414.5" height="1" fill="url(#gd)"/><rect transform="translate(780.75 737) scale(1 1)" x="-93.8" width="414.5" height="1" fill="url(#gd)"/><rect transform="translate(780.45 738) scale(1 1)" x="-93.4" width="414.5" height="1" fill="url(#gd)"/><rect transform="translate(780.14 739) scale(1 1)" x="-93.1" width="414.5" height="1" fill="url(#gd)"/><rect transform="translate(779.84 740) scale(1 1)" x="-92.8" width="414.5" height="1" fill="url(#gd)"/><rect transform="translate(779.55 741) scale(1 1)" x="-92.5" width="414.5" height="1" fill="url(#gd)"/><rect transform="translate(779.26 742) scale(1 1)" x="-92.3" width="414.5" height="1" fill="url(#gd)"/><rect transform="translate(778.97 743) scale(1 1)" x="-92" width="414.5" height="1" fill="url(#gd)"/><rect transform="translate(778.69 744) scale(1 1)" x="-91.7" width="414.5" height="1" fill="url(#gd)"/><rect transform="translate(778.41 745) scale(1 1)" x="-91.4" width="414.5" height="1" fill="url(#gd)"/><rect transform="translate(778.13 746) scale(1 1)" x="-91.1" width="414.5" height="1" fill="url(#gd)"/><rect transform="translate(777.86 747) scale(1 1)" x="-90.9" width="414.5" height="1" fill="url(#gd)"/><rect transform="translate(777.6 748) scale(1 1)" x="-90.6" width="414.5" height="1" fill="url(#gd)"/><rect transform="translate(777.33 749) scale(1 1)" x="-90.3" width="414.5" height="1" fill="url(#gd)"/><rect transform="translate(777.07 750) scale(1 1)" x="-90.1" width="414.5" height="1" fill="url(#gd)"/><rect transform="translate(776.82 751) scale(1 1)" x="-89.8" width="414.5" height="1" fill="url(#gd)"/><rect transform="translate(776.57 752) scale(1 1)" x="-89.6" width="414.5" height="1" fill="url(#gd)"/><rect transform="translate(776.32 753) scale(1 1)" x="-89.3" width="414.5" height="1" fill="url(#gd)"/><rect transform="translate(776.08 754) scale(1 1)" x="-89.1" width="414.5" height="1" fill="url(#gd)"/><rect transform="translate(775.84 755) scale(1 1)" x="-88.8" width="414.5" height="1" fill="url(#gd)"/><rect transform="translate(775.61 756) scale(1 1)" x="-88.6" width="414.5" height="1" fill="url(#gd)"/><rect transform="translate(775.38 757) scale(1 1)" x="-88.4" width="414.5" height="1" fill="url(#gd)"/><rect transform="translate(775.16 758) scale(1 1)" x="-88.2" width="414.5" height="1" fill="url(#gd)"/><rect transform="translate(774.93 759) scale(1 1)" x="-87.9" width="414.5" height="1" fill="url(#gd)"/><rect transform="translate(774.72 760) scale(1 1)" x="-87.7" width="414.5" height="1" fill="url(#gd)"/><rect transform="translate(774.51 761) scale(1 1)" x="-87.5" width="414.5" height="1" fill="url(#gd)"/><rect transform="translate(774.3 762) scale(1 1)" x="-87.3" width="414.5" height="1" fill="url(#gd)"/><rect transform="translate(774.09 763) scale(1 1)" x="-87.1" width="414.5" height="1" fill="url(#gd)"/><rect transform="translate(773.89 764) scale(1 1)" x="-86.9" width="414.5" height="1" fill="url(#gd)"/><rect transform="translate(773.7 765) scale(1 1)" x="-86.7" width="414.5" height="1" fill="url(#gd)"/><rect transform="translate(773.5 766) scale(1 1)" x="-86.5" width="414.5" height="1" fill="url(#gd)"/><rect transform="translate(773.32 767) scale(1 1)" x="-86.3" width="414.5" height="1" fill="url(#gd)"/><rect transform="translate(773.13 768) scale(1 1)" x="-86.1" width="414.5" height="1" fill="url(#gd)"/><rect transform="translate(772.95 769) scale(1 1)" x="-86" width="414.5" height="1" fill="url(#gd)"/><rect transform="translate(772.78 770) scale(1 1)" x="-85.8" width="414.5" height="1" fill="url(#gd)"/><rect transform="translate(772.61 771) scale(1 1)" x="-85.6" width="414.5" height="1" fill="url(#gd)"/><rect transform="translate(772.44 772) scale(1 1)" x="-85.4" width="414.5" height="1" fill="url(#gd)"/><rect transform="translate(772.28 773) scale(1 1)" x="-85.3" width="414.5" height="1" fill="url(#gd)"/><rect transform="translate(772.12 774) scale(1 1)" x="-85.1" width="414.5" height="1" fill="url(#gd)"/><rect transform="translate(771.97 775) scale(1 1)" x="-85" width="414.5" height="1" fill="url(#gd)"/><rect transform="translate(771.82 776) scale(1 1)" x="-84.8" width="414.5" height="1" fill="url(#gd)"/><rect transform="translate(771.68 777) scale(1 1)" x="-84.7" width="414.5" height="1" fill="url(#gd)"/><rect transform="translate(771.54 778) scale(1 1)" x="-84.5" width="414.5" height="1" fill="url(#gd)"/><rect transform="translate(771.4 779) scale(1 1)" x="-84.4" width="414.5" height="1" fill="url(#gd)"/><rect transform="translate(771.27 780) scale(1 1)" x="-84.3" width="414.5" height="1" fill="url(#gd)"/><rect transform="translate(771.14 781) scale(1 1)" x="-84.1" width="414.5" height="1" fill="url(#gd)"/><rect transform="translate(771.02 782) scale(1 1)" x="-84" width="414.5" height="1" fill="url(#gd)"/><rect transform="translate(770.9 783) scale(1 1)" x="-83.9" width="414.5" height="1" fill="url(#gd)"/><rect transform="translate(770.79 784) scale(1 1)" x="-83.8" width="414.5" height="1" fill="url(#gd)"/><rect transform="translate(770.68 785) scale(1 1)" x="-83.7" width="414.5" height="1" fill="url(#gd)"/><rect transform="translate(770.57 786) scale(1 1)" x="-83.6" width="414.5" height="1" fill="url(#gd)"/><rect transform="translate(770.47 787) scale(1 1)" x="-83.5" width="414.5" height="1" fill="url(#gd)"/><rect transform="translate(770.37 788) scale(1 1)" x="-83.4" width="414.5" height="1" fill="url(#gd)"/><rect transform="translate(770.28 789) scale(1 1)" x="-83.3" width="414.5" height="1" fill="url(#gd)"/><rect transform="translate(770.19 790) scale(1 1)" x="-83.2" width="414.5" height="1" fill="url(#gd)"/><rect transform="translate(770.11 791) scale(1 1)" x="-83.1" width="414.5" height="1" fill="url(#gd)"/><rect transform="translate(770.03 792) scale(1 1)" x="-83" width="414.5" height="1" fill="url(#gd)"/><rect transform="translate(769.95 793) scale(1 1)" x="-83" width="414.5" height="1" fill="url(#gd)"/><rect transform="translate(769.88 794) scale(1 1)" x="-82.9" width="414.5" height="1" fill="url(#gd)"/><rect transform="translate(1001.17 453) scale(0.92 1)" x="-70" width="140" height="1" fill="url(#gd2)" opacity="1"/><rect transform="translate(1000.04 454) scale(0.92 1)" x="-70" width="140" height="1" fill="url(#gd2)" opacity="1"/><rect transform="translate(998.9 455) scale(0.92 1)" x="-70" width="140" height="1" fill="url(#gd2)" opacity="1"/><rect transform="translate(997.76 456) scale(0.921 1)" x="-70" width="140" height="1" fill="url(#gd2)" opacity="1"/><rect transform="translate(996.63 457) scale(0.921 1)" x="-70" width="140" height="1" fill="url(#gd2)" opacity="1"/><rect transform="translate(995.5 458) scale(0.922 1)" x="-70" width="140" height="1" fill="url(#gd2)" opacity="1"/><rect transform="translate(994.37 459) scale(0.922 1)" x="-70" width="140" height="1" fill="url(#gd2)" opacity="1"/><rect transform="translate(993.24 460) scale(0.922 1)" x="-70" width="140" height="1" fill="url(#gd2)" opacity="1"/><rect transform="translate(992.11 461) scale(0.923 1)" x="-70" width="140" height="1" fill="url(#gd2)" opacity="1"/><rect transform="translate(990.99 462) scale(0.923 1)" x="-70" width="140" height="1" fill="url(#gd2)" opacity="1"/><rect transform="translate(989.87 463) scale(0.924 1)" x="-70" width="140" height="1" fill="url(#gd2)" opacity="1"/><rect transform="translate(988.75 464) scale(0.924 1)" x="-70" width="140" height="1" fill="url(#gd2)" opacity="1"/><rect transform="translate(987.63 465) scale(0.925 1)" x="-70" width="140" height="1" fill="url(#gd2)" opacity="1"/><rect transform="translate(986.51 466) scale(0.925 1)" x="-70" width="140" height="1" fill="url(#gd2)" opacity="1"/><rect transform="translate(985.4 467) scale(0.926 1)" x="-70" width="140" height="1" fill="url(#gd2)" opacity="1"/><rect transform="translate(984.29 468) scale(0.926 1)" x="-70" width="140" height="1" fill="url(#gd2)" opacity="1"/><rect transform="translate(983.17 469) scale(0.926 1)" x="-70" width="140" height="1" fill="url(#gd2)" opacity="1"/><rect transform="translate(982.07 470) scale(0.927 1)" x="-70" width="140" height="1" fill="url(#gd2)" opacity="1"/><rect transform="translate(980.96 471) scale(0.927 1)" x="-70" width="140" height="1" fill="url(#gd2)" opacity="1"/><rect transform="translate(979.85 472) scale(0.928 1)" x="-70" width="140" height="1" fill="url(#gd2)" opacity="1"/><rect transform="translate(978.75 473) scale(0.928 1)" x="-70" width="140" height="1" fill="url(#gd2)" opacity="1"/><rect transform="translate(977.65 474) scale(0.929 1)" x="-70" width="140" height="1" fill="url(#gd2)" opacity="1"/><rect transform="translate(976.55 475) scale(0.929 1)" x="-70" width="140" height="1" fill="url(#gd2)" opacity="1"/><rect transform="translate(975.46 476) scale(0.93 1)" x="-70" width="140" height="1" fill="url(#gd2)" opacity="1"/><rect transform="translate(974.36 477) scale(0.93 1)" x="-70" width="140" height="1" fill="url(#gd2)" opacity="1"/><rect transform="translate(973.27 478) scale(0.93 1)" x="-70" width="140" height="1" fill="url(#gd2)" opacity="1"/><rect transform="translate(972.18 479) scale(0.931 1)" x="-70" width="140" height="1" fill="url(#gd2)" opacity="1"/><rect transform="translate(971.09 480) scale(0.931 1)" x="-70" width="140" height="1" fill="url(#gd2)" opacity="1"/><rect transform="translate(970 481) scale(0.932 1)" x="-70" width="140" height="1" fill="url(#gd2)" opacity="1"/><rect transform="translate(968.92 482) scale(0.932 1)" x="-70" width="140" height="1" fill="url(#gd2)" opacity="1"/><rect transform="translate(967.84 483) scale(0.933 1)" x="-70" width="140" height="1" fill="url(#gd2)" opacity="1"/><rect transform="translate(966.75 484) scale(0.933 1)" x="-70" width="140" height="1" fill="url(#gd2)" opacity="1"/><rect transform="translate(965.68 485) scale(0.934 1)" x="-70" width="140" height="1" fill="url(#gd2)" opacity="1"/><rect transform="translate(964.6 486) scale(0.934 1)" x="-70" width="140" height="1" fill="url(#gd2)" opacity="1"/><rect transform="translate(963.53 487) scale(0.934 1)" x="-70" width="140" height="1" fill="url(#gd2)" opacity="1"/><rect transform="translate(962.45 488) scale(0.935 1)" x="-70" width="140" height="1" fill="url(#gd2)" opacity="1"/><rect transform="translate(961.38 489) scale(0.935 1)" x="-70" width="140" height="1" fill="url(#gd2)" opacity="1"/><rect transform="translate(960.32 490) scale(0.936 1)" x="-70" width="140" height="1" fill="url(#gd2)" opacity="1"/><rect transform="translate(959.25 491) scale(0.936 1)" x="-70" width="140" height="1" fill="url(#gd2)" opacity="1"/><rect transform="translate(958.19 492) scale(0.937 1)" x="-70" width="140" height="1" fill="url(#gd2)" opacity="1"/><rect transform="translate(957.13 493) scale(0.937 1)" x="-70" width="140" height="1" fill="url(#gd2)" opacity="1"/><rect transform="translate(956.07 494) scale(0.938 1)" x="-70" width="140" height="1" fill="url(#gd2)" opacity="1"/><rect transform="translate(955.01 495) scale(0.938 1)" x="-70" width="140" height="1" fill="url(#gd2)" opacity="1"/><rect transform="translate(953.95 496) scale(0.938 1)" x="-70" width="140" height="1" fill="url(#gd2)" opacity="1"/><rect transform="translate(952.9 497) scale(0.939 1)" x="-70" width="140" height="1" fill="url(#gd2)" opacity="1"/><rect transform="translate(951.85 498) scale(0.939 1)" x="-70" width="140" height="1" fill="url(#gd2)" opacity="1"/><rect transform="translate(950.8 499) scale(0.94 1)" x="-70" width="140" height="1" fill="url(#gd2)" opacity="1"/><rect transform="translate(949.76 500) scale(0.94 1)" x="-70" width="140" height="1" fill="url(#gd2)" opacity="1"/><rect transform="translate(948.71 501) scale(0.94 1)" x="-70" width="140" height="1" fill="url(#gd2)" opacity="1"/><rect transform="translate(947.67 502) scale(0.941 1)" x="-70" width="140" height="1" fill="url(#gd2)" opacity="1"/><rect transform="translate(946.63 503) scale(0.941 1)" x="-70" width="140" height="1" fill="url(#gd2)" opacity="1"/><rect transform="translate(945.59 504) scale(0.941 1)" x="-70" width="140" height="1" fill="url(#gd2)" opacity="1"/><rect transform="translate(944.56 505) scale(0.942 1)" x="-70" width="140" height="1" fill="url(#gd2)" opacity="1"/><rect transform="translate(943.52 506) scale(0.942 1)" x="-70" width="140" height="1" fill="url(#gd2)" opacity="1"/><rect transform="translate(942.49 507) scale(0.942 1)" x="-70" width="140" height="1" fill="url(#gd2)" opacity="1"/><rect transform="translate(941.46 508) scale(0.942 1)" x="-70" width="140" height="1" fill="url(#gd2)" opacity="1"/><rect transform="translate(940.44 509) scale(0.943 1)" x="-70" width="140" height="1" fill="url(#gd2)" opacity="1"/><rect transform="translate(939.41 510) scale(0.943 1)" x="-70" width="140" height="1" fill="url(#gd2)" opacity="1"/><rect transform="translate(938.39 511) scale(0.943 1)" x="-70" width="140" height="1" fill="url(#gd2)" opacity="1"/><rect transform="translate(937.37 512) scale(0.944 1)" x="-70" width="140" height="1" fill="url(#gd2)" opacity="1"/><rect transform="translate(936.36 513) scale(0.944 1)" x="-70" width="140" height="1" fill="url(#gd2)" opacity="1"/><rect transform="translate(935.34 514) scale(0.944 1)" x="-70" width="140" height="1" fill="url(#gd2)" opacity="1"/><rect transform="translate(934.33 515) scale(0.945 1)" x="-70" width="140" height="1" fill="url(#gd2)" opacity="1"/><rect transform="translate(933.32 516) scale(0.945 1)" x="-70" width="140" height="1" fill="url(#gd2)" opacity="1"/><rect transform="translate(932.31 517) scale(0.945 1)" x="-70" width="140" height="1" fill="url(#gd2)" opacity="1"/><rect transform="translate(931.3 518) scale(0.945 1)" x="-70" width="140" height="1" fill="url(#gd2)" opacity="1"/><rect transform="translate(930.3 519) scale(0.946 1)" x="-70" width="140" height="1" fill="url(#gd2)" opacity="1"/><rect transform="translate(929.3 520) scale(0.946 1)" x="-70" width="140" height="1" fill="url(#gd2)" opacity="1"/><rect transform="translate(928.3 521) scale(0.946 1)" x="-70" width="140" height="1" fill="url(#gd2)" opacity="1"/><rect transform="translate(927.31 522) scale(0.947 1)" x="-70" width="140" height="1" fill="url(#gd2)" opacity="1"/><rect transform="translate(926.31 523) scale(0.947 1)" x="-70" width="140" height="1" fill="url(#gd2)" opacity="1"/><rect transform="translate(925.32 524) scale(0.947 1)" x="-70" width="140" height="1" fill="url(#gd2)" opacity="1"/><rect transform="translate(924.33 525) scale(0.947 1)" x="-70" width="140" height="1" fill="url(#gd2)" opacity="1"/><rect transform="translate(923.34 526) scale(0.948 1)" x="-70" width="140" height="1" fill="url(#gd2)" opacity="1"/><rect transform="translate(922.36 527) scale(0.948 1)" x="-70" width="140" height="1" fill="url(#gd2)" opacity="1"/><rect transform="translate(921.38 528) scale(0.948 1)" x="-70" width="140" height="1" fill="url(#gd2)" opacity="1"/><rect transform="translate(920.4 529) scale(0.949 1)" x="-70" width="140" height="1" fill="url(#gd2)" opacity="1"/><rect transform="translate(919.42 530) scale(0.949 1)" x="-70" width="140" height="1" fill="url(#gd2)" opacity="1"/><rect transform="translate(918.45 531) scale(0.949 1)" x="-70" width="140" height="1" fill="url(#gd2)" opacity="1"/><rect transform="translate(917.48 532) scale(0.949 1)" x="-70" width="140" height="1" fill="url(#gd2)" opacity="1"/><rect transform="translate(916.51 533) scale(0.95 1)" x="-70" width="140" height="1" fill="url(#gd2)" opacity="1"/><rect transform="translate(915.54 534) scale(0.95 1)" x="-70" width="140" height="1" fill="url(#gd2)" opacity="1"/><rect transform="translate(914.57 535) scale(0.95 1)" x="-70" width="140" height="1" fill="url(#gd2)" opacity="1"/><rect transform="translate(913.61 536) scale(0.951 1)" x="-70" width="140" height="1" fill="url(#gd2)" opacity="1"/><rect transform="translate(912.65 537) scale(0.951 1)" x="-70" width="140" height="1" fill="url(#gd2)" opacity="1"/><rect transform="translate(911.69 538) scale(0.951 1)" x="-70" width="140" height="1" fill="url(#gd2)" opacity="1"/><rect transform="translate(910.74 539) scale(0.952 1)" x="-70" width="140" height="1" fill="url(#gd2)" opacity="1"/><rect transform="translate(909.79 540) scale(0.952 1)" x="-70" width="140" height="1" fill="url(#gd2)" opacity="1"/><rect transform="translate(908.84 541) scale(0.952 1)" x="-70" width="140" height="1" fill="url(#gd2)" opacity="0.99"/><rect transform="translate(907.89 542) scale(0.952 1)" x="-70" width="140" height="1" fill="url(#gd2)" opacity="0.98"/><rect transform="translate(906.94 543) scale(0.953 1)" x="-70" width="140" height="1" fill="url(#gd2)" opacity="0.97"/><rect transform="translate(906 544) scale(0.953 1)" x="-70" width="140" height="1" fill="url(#gd2)" opacity="0.96"/><rect transform="translate(905.06 545) scale(0.953 1)" x="-70" width="140" height="1" fill="url(#gd2)" opacity="0.95"/><rect transform="translate(904.12 546) scale(0.954 1)" x="-70" width="140" height="1" fill="url(#gd2)" opacity="0.95"/><rect transform="translate(903.19 547) scale(0.954 1)" x="-70" width="140" height="1" fill="url(#gd2)" opacity="0.94"/><rect transform="translate(902.26 548) scale(0.954 1)" x="-70" width="140" height="1" fill="url(#gd2)" opacity="0.93"/><rect transform="translate(901.33 549) scale(0.954 1)" x="-70" width="140" height="1" fill="url(#gd2)" opacity="0.92"/><rect transform="translate(900.4 550) scale(0.955 1)" x="-70" width="140" height="1" fill="url(#gd2)" opacity="0.91"/><rect transform="translate(899.48 551) scale(0.955 1)" x="-70" width="140" height="1" fill="url(#gd2)" opacity="0.9"/><rect transform="translate(898.55 552) scale(0.955 1)" x="-70" width="140" height="1" fill="url(#gd2)" opacity="0.9"/><rect transform="translate(897.64 553) scale(0.956 1)" x="-70" width="140" height="1" fill="url(#gd2)" opacity="0.89"/><rect transform="translate(896.72 554) scale(0.956 1)" x="-70" width="140" height="1" fill="url(#gd2)" opacity="0.88"/><rect transform="translate(895.8 555) scale(0.956 1)" x="-70" width="140" height="1" fill="url(#gd2)" opacity="0.87"/><rect transform="translate(894.89 556) scale(0.956 1)" x="-70" width="140" height="1" fill="url(#gd2)" opacity="0.86"/><rect transform="translate(893.98 557) scale(0.957 1)" x="-70" width="140" height="1" fill="url(#gd2)" opacity="0.85"/><rect transform="translate(893.08 558) scale(0.957 1)" x="-70" width="140" height="1" fill="url(#gd2)" opacity="0.85"/><rect transform="translate(892.17 559) scale(0.957 1)" x="-70" width="140" height="1" fill="url(#gd2)" opacity="0.84"/><rect transform="translate(891.27 560) scale(0.958 1)" x="-70" width="140" height="1" fill="url(#gd2)" opacity="0.83"/><rect transform="translate(890.38 561) scale(0.958 1)" x="-70" width="140" height="1" fill="url(#gd2)" opacity="0.82"/><rect transform="translate(889.48 562) scale(0.958 1)" x="-70" width="140" height="1" fill="url(#gd2)" opacity="0.81"/><rect transform="translate(888.59 563) scale(0.959 1)" x="-70" width="140" height="1" fill="url(#gd2)" opacity="0.8"/><rect transform="translate(887.7 564) scale(0.959 1)" x="-70" width="140" height="1" fill="url(#gd2)" opacity="0.8"/><rect transform="translate(886.81 565) scale(0.959 1)" x="-70" width="140" height="1" fill="url(#gd2)" opacity="0.79"/><rect transform="translate(885.92 566) scale(0.959 1)" x="-70" width="140" height="1" fill="url(#gd2)" opacity="0.78"/><rect transform="translate(885.04 567) scale(0.96 1)" x="-70" width="140" height="1" fill="url(#gd2)" opacity="0.77"/><rect transform="translate(884.16 568) scale(0.96 1)" x="-70" width="140" height="1" fill="url(#gd2)" opacity="0.76"/><rect transform="translate(883.29 569) scale(0.96 1)" x="-70" width="140" height="1" fill="url(#gd2)" opacity="0.75"/><rect transform="translate(882.41 570) scale(0.961 1)" x="-70" width="140" height="1" fill="url(#gd2)" opacity="0.75"/><rect transform="translate(881.54 571) scale(0.961 1)" x="-70" width="140" height="1" fill="url(#gd2)" opacity="0.74"/><rect transform="translate(880.67 572) scale(0.961 1)" x="-70" width="140" height="1" fill="url(#gd2)" opacity="0.73"/><rect transform="translate(879.81 573) scale(0.961 1)" x="-70" width="140" height="1" fill="url(#gd2)" opacity="0.72"/><rect transform="translate(878.94 574) scale(0.962 1)" x="-70" width="140" height="1" fill="url(#gd2)" opacity="0.71"/><rect transform="translate(878.08 575) scale(0.962 1)" x="-70" width="140" height="1" fill="url(#gd2)" opacity="0.7"/><rect transform="translate(877.23 576) scale(0.962 1)" x="-70" width="140" height="1" fill="url(#gd2)" opacity="0.7"/><rect transform="translate(876.37 577) scale(0.963 1)" x="-70" width="140" height="1" fill="url(#gd2)" opacity="0.69"/><rect transform="translate(875.52 578) scale(0.963 1)" x="-70" width="140" height="1" fill="url(#gd2)" opacity="0.68"/><rect transform="translate(874.67 579) scale(0.963 1)" x="-70" width="140" height="1" fill="url(#gd2)" opacity="0.67"/><rect transform="translate(873.82 580) scale(0.963 1)" x="-70" width="140" height="1" fill="url(#gd2)" opacity="0.66"/><rect transform="translate(872.98 581) scale(0.964 1)" x="-70" width="140" height="1" fill="url(#gd2)" opacity="0.65"/><rect transform="translate(872.14 582) scale(0.964 1)" x="-70" width="140" height="1" fill="url(#gd2)" opacity="0.65"/><rect transform="translate(871.3 583) scale(0.964 1)" x="-70" width="140" height="1" fill="url(#gd2)" opacity="0.64"/><rect transform="translate(870.47 584) scale(0.965 1)" x="-70" width="140" height="1" fill="url(#gd2)" opacity="0.63"/><rect transform="translate(869.63 585) scale(0.965 1)" x="-70" width="140" height="1" fill="url(#gd2)" opacity="0.62"/><rect transform="translate(868.8 586) scale(0.965 1)" x="-70" width="140" height="1" fill="url(#gd2)" opacity="0.61"/><rect transform="translate(867.98 587) scale(0.966 1)" x="-70" width="140" height="1" fill="url(#gd2)" opacity="0.6"/><rect transform="translate(867.15 588) scale(0.966 1)" x="-70" width="140" height="1" fill="url(#gd2)" opacity="0.6"/><rect transform="translate(866.33 589) scale(0.966 1)" x="-70" width="140" height="1" fill="url(#gd2)" opacity="0.59"/><rect transform="translate(865.52 590) scale(0.966 1)" x="-70" width="140" height="1" fill="url(#gd2)" opacity="0.58"/><rect transform="translate(864.7 591) scale(0.967 1)" x="-70" width="140" height="1" fill="url(#gd2)" opacity="0.57"/><rect transform="translate(863.89 592) scale(0.967 1)" x="-70" width="140" height="1" fill="url(#gd2)" opacity="0.56"/><rect transform="translate(863.08 593) scale(0.967 1)" x="-70" width="140" height="1" fill="url(#gd2)" opacity="0.55"/><rect transform="translate(862.27 594) scale(0.968 1)" x="-70" width="140" height="1" fill="url(#gd2)" opacity="0.55"/><rect transform="translate(861.47 595) scale(0.968 1)" x="-70" width="140" height="1" fill="url(#gd2)" opacity="0.54"/><rect transform="translate(860.67 596) scale(0.968 1)" x="-70" width="140" height="1" fill="url(#gd2)" opacity="0.53"/><rect transform="translate(859.87 597) scale(0.968 1)" x="-70" width="140" height="1" fill="url(#gd2)" opacity="0.52"/><rect transform="translate(859.08 598) scale(0.969 1)" x="-70" width="140" height="1" fill="url(#gd2)" opacity="0.51"/><rect transform="translate(858.29 599) scale(0.969 1)" x="-70" width="140" height="1" fill="url(#gd2)" opacity="0.5"/><rect transform="translate(857.5 600) scale(0.969 1)" x="-70" width="140" height="1" fill="url(#gd2)" opacity="0.5"/><rect transform="translate(856.71 601) scale(0.97 1)" x="-70" width="140" height="1" fill="url(#gd2)" opacity="0.49"/><rect transform="translate(855.93 602) scale(0.97 1)" x="-70" width="140" height="1" fill="url(#gd2)" opacity="0.48"/><rect transform="translate(855.15 603) scale(0.97 1)" x="-70" width="140" height="1" fill="url(#gd2)" opacity="0.47"/><rect transform="translate(854.37 604) scale(0.97 1)" x="-70" width="140" height="1" fill="url(#gd2)" opacity="0.46"/><rect transform="translate(853.6 605) scale(0.971 1)" x="-70" width="140" height="1" fill="url(#gd2)" opacity="0.45"/><rect transform="translate(852.83 606) scale(0.971 1)" x="-70" width="140" height="1" fill="url(#gd2)" opacity="0.45"/><rect transform="translate(852.06 607) scale(0.971 1)" x="-70" width="140" height="1" fill="url(#gd2)" opacity="0.44"/><rect transform="translate(851.3 608) scale(0.972 1)" x="-70" width="140" height="1" fill="url(#gd2)" opacity="0.43"/><rect transform="translate(850.53 609) scale(0.972 1)" x="-70" width="140" height="1" fill="url(#gd2)" opacity="0.42"/><rect transform="translate(849.78 610) scale(0.972 1)" x="-70" width="140" height="1" fill="url(#gd2)" opacity="0.41"/><rect transform="translate(849.02 611) scale(0.973 1)" x="-70" width="140" height="1" fill="url(#gd2)" opacity="0.4"/><rect transform="translate(848.27 612) scale(0.973 1)" x="-70" width="140" height="1" fill="url(#gd2)" opacity="0.4"/><rect transform="translate(847.52 613) scale(0.973 1)" x="-70" width="140" height="1" fill="url(#gd2)" opacity="0.39"/><rect transform="translate(846.77 614) scale(0.973 1)" x="-70" width="140" height="1" fill="url(#gd2)" opacity="0.38"/><rect transform="translate(846.03 615) scale(0.974 1)" x="-70" width="140" height="1" fill="url(#gd2)" opacity="0.37"/><rect transform="translate(845.29 616) scale(0.974 1)" x="-70" width="140" height="1" fill="url(#gd2)" opacity="0.36"/><rect transform="translate(844.55 617) scale(0.974 1)" x="-70" width="140" height="1" fill="url(#gd2)" opacity="0.35"/><rect transform="translate(843.82 618) scale(0.975 1)" x="-70" width="140" height="1" fill="url(#gd2)" opacity="0.35"/><rect transform="translate(843.08 619) scale(0.975 1)" x="-70" width="140" height="1" fill="url(#gd2)" opacity="0.34"/><rect transform="translate(842.36 620) scale(0.975 1)" x="-70" width="140" height="1" fill="url(#gd2)" opacity="0.33"/><rect transform="translate(841.63 621) scale(0.975 1)" x="-70" width="140" height="1" fill="url(#gd2)" opacity="0.32"/><rect transform="translate(840.91 622) scale(0.976 1)" x="-70" width="140" height="1" fill="url(#gd2)" opacity="0.31"/><rect transform="translate(840.19 623) scale(0.976 1)" x="-70" width="140" height="1" fill="url(#gd2)" opacity="0.3"/><rect transform="translate(839.48 624) scale(0.976 1)" x="-70" width="140" height="1" fill="url(#gd2)" opacity="0.3"/><rect transform="translate(838.76 625) scale(0.977 1)" x="-70" width="140" height="1" fill="url(#gd2)" opacity="0.29"/><rect transform="translate(838.06 626) scale(0.977 1)" x="-70" width="140" height="1" fill="url(#gd2)" opacity="0.28"/><rect transform="translate(837.35 627) scale(0.977 1)" x="-70" width="140" height="1" fill="url(#gd2)" opacity="0.27"/><rect transform="translate(836.65 628) scale(0.978 1)" x="-70" width="140" height="1" fill="url(#gd2)" opacity="0.26"/><rect transform="translate(835.95 629) scale(0.978 1)" x="-70" width="140" height="1" fill="url(#gd2)" opacity="0.25"/><rect transform="translate(835.25 630) scale(0.978 1)" x="-70" width="140" height="1" fill="url(#gd2)" opacity="0.25"/><rect transform="translate(834.56 631) scale(0.979 1)" x="-70" width="140" height="1" fill="url(#gd2)" opacity="0.24"/><rect transform="translate(833.87 632) scale(0.979 1)" x="-70" width="140" height="1" fill="url(#gd2)" opacity="0.23"/><rect transform="translate(833.18 633) scale(0.979 1)" x="-70" width="140" height="1" fill="url(#gd2)" opacity="0.22"/><rect transform="translate(832.5 634) scale(0.98 1)" x="-70" width="140" height="1" fill="url(#gd2)" opacity="0.21"/><rect transform="translate(831.82 635) scale(0.98 1)" x="-70" width="140" height="1" fill="url(#gd2)" opacity="0.2"/><rect transform="translate(831.14 636) scale(0.98 1)" x="-70" width="140" height="1" fill="url(#gd2)" opacity="0.2"/><rect transform="translate(830.47 637) scale(0.98 1)" x="-70" width="140" height="1" fill="url(#gd2)" opacity="0.19"/><rect transform="translate(829.79 638) scale(0.981 1)" x="-70" width="140" height="1" fill="url(#gd2)" opacity="0.18"/><rect transform="translate(829.13 639) scale(0.981 1)" x="-70" width="140" height="1" fill="url(#gd2)" opacity="0.17"/><rect transform="translate(828.46 640) scale(0.981 1)" x="-70" width="140" height="1" fill="url(#gd2)" opacity="0.16"/><rect transform="translate(827.8 641) scale(0.982 1)" x="-70" width="140" height="1" fill="url(#gd2)" opacity="0.15"/><rect transform="translate(827.14 642) scale(0.982 1)" x="-70" width="140" height="1" fill="url(#gd2)" opacity="0.15"/><rect transform="translate(826.49 643) scale(0.982 1)" x="-70" width="140" height="1" fill="url(#gd2)" opacity="0.14"/><rect transform="translate(825.84 644) scale(0.983 1)" x="-70" width="140" height="1" fill="url(#gd2)" opacity="0.13"/><rect transform="translate(825.19 645) scale(0.983 1)" x="-70" width="140" height="1" fill="url(#gd2)" opacity="0.12"/><rect transform="translate(824.55 646) scale(0.983 1)" x="-70" width="140" height="1" fill="url(#gd2)" opacity="0.11"/><rect transform="translate(823.91 647) scale(0.984 1)" x="-70" width="140" height="1" fill="url(#gd2)" opacity="0.1"/><rect transform="translate(823.27 648) scale(0.984 1)" x="-70" width="140" height="1" fill="url(#gd2)" opacity="0.1"/><rect transform="translate(822.63 649) scale(0.984 1)" x="-70" width="140" height="1" fill="url(#gd2)" opacity="0.09"/><rect transform="translate(822 650) scale(0.985 1)" x="-70" width="140" height="1" fill="url(#gd2)" opacity="0.08"/><rect transform="translate(821.38 651) scale(0.985 1)" x="-70" width="140" height="1" fill="url(#gd2)" opacity="0.07"/><rect transform="translate(820.75 652) scale(0.985 1)" x="-70" width="140" height="1" fill="url(#gd2)" opacity="0.06"/><rect transform="translate(820.13 653) scale(0.985 1)" x="-70" width="140" height="1" fill="url(#gd2)" opacity="0.05"/><rect transform="translate(819.51 654) scale(0.986 1)" x="-70" width="140" height="1" fill="url(#gd2)" opacity="0.05"/><rect transform="translate(818.9 655) scale(0.986 1)" x="-70" width="140" height="1" fill="url(#gd2)" opacity="0.04"/><rect transform="translate(818.29 656) scale(0.986 1)" x="-70" width="140" height="1" fill="url(#gd2)" opacity="0.03"/><rect transform="translate(817.68 657) scale(0.987 1)" x="-70" width="140" height="1" fill="url(#gd2)" opacity="0.02"/><rect transform="translate(817.08 658) scale(0.987 1)" x="-70" width="140" height="1" fill="url(#gd2)" opacity="0.01"/><rect transform="translate(816.48 659) scale(0.987 1)" x="-70" width="140" height="1" fill="url(#gd2)" opacity="0"/><rect x="840" y="450" width="262" height="282" fill="url(#dtr)" clip-path="url(#cdr)"/></g>
<g clip-path="url(#ca)"><g filter="url(#jet)"><rect x="115.2" y="17.5" width="419" height="342.5" fill="#000"/><rect transform="translate(530.39 6.76) scale(0.356 1)" x="-1167.2" width="1177.9" height="14.39" fill="url(#ga)"/><rect transform="translate(513.43 21.1) scale(0.364 1)" x="-1094" width="1151" height="14.39" fill="url(#ga)"/><rect transform="translate(496.54 35.44) scale(0.374 1)" x="-1019" width="1119.7" height="14.39" fill="url(#ga)"/><rect transform="translate(479.69 49.78) scale(0.386 1)" x="-944" width="1085.2" height="14.39" fill="url(#ga)"/><rect transform="translate(462.89 64.12) scale(0.402 1)" x="-865.7" width="1043.3" height="14.39" fill="url(#ga)"/><rect transform="translate(446.15 78.46) scale(0.42 1)" x="-787.7" width="997.3" height="14.39" fill="url(#ga)"/><rect transform="translate(429.46 92.8) scale(0.441 1)" x="-713.4" width="951.1" height="14.39" fill="url(#ga)"/><rect transform="translate(412.82 107.14) scale(0.462 1)" x="-644.7" width="907.6" height="14.39" fill="url(#ga)"/><rect transform="translate(396.23 121.48) scale(0.483 1)" x="-582.1" width="867.8" height="14.39" fill="url(#ga)"/><rect transform="translate(379.7 135.82) scale(0.505 1)" x="-523.6" width="829.5" height="14.39" fill="url(#ga)"/><rect transform="translate(363.22 150.16) scale(0.529 1)" x="-468.9" width="792.2" height="14.39" fill="url(#ga)"/><rect transform="translate(346.79 164.5) scale(0.554 1)" x="-417.8" width="755.8" height="14.39" fill="url(#ga)"/><rect transform="translate(330.41 178.84) scale(0.582 1)" x="-370" width="720.4" height="14.39" fill="url(#ga)"/><rect transform="translate(314.08 193.18) scale(0.61 1)" x="-325.8" width="686.4" height="14.39" fill="url(#ga)"/><rect transform="translate(297.8 207.52) scale(0.643 1)" x="-284" width="651.6" height="14.39" fill="url(#ga)"/><rect transform="translate(281.58 221.86) scale(0.682 1)" x="-243.9" width="614.1" height="14.39" fill="url(#ga)"/><rect transform="translate(265.41 236.2) scale(0.738 1)" x="-203.6" width="567.9" height="14.39" fill="url(#ga)"/><rect transform="translate(249.29 250.54) scale(0.798 1)" x="-168" width="525.1" height="14.39" fill="url(#ga)"/><rect transform="translate(233.23 264.88) scale(0.846 1)" x="-139.6" width="495.5" height="14.39" fill="url(#ga)"/><rect transform="translate(217.21 279.22) scale(0.881 1)" x="-115.8" width="475.6" height="14.39" fill="url(#ga)"/><rect transform="translate(201.25 293.56) scale(0.912 1)" x="-94.4" width="459.5" height="14.39" fill="url(#ga)"/><rect transform="translate(185.34 307.9) scale(0.94 1)" x="-74.7" width="446" height="14.39" fill="url(#ga)"/><rect transform="translate(169.48 322.24) scale(0.966 1)" x="-56.2" width="433.9" height="14.39" fill="url(#ga)"/><rect transform="translate(153.67 336.58) scale(0.992 1)" x="-38.8" width="422.4" height="14.39" fill="url(#ga)"/><rect transform="translate(137.92 350.92) scale(1.019 1)" x="-22.3" width="411.3" height="14.39" fill="url(#ga)"/><rect transform="translate(122.21 365.26) scale(1.044 1)" x="-6.7" width="401.2" height="14.39" fill="url(#ga)"/><rect transform="translate(521.9 17) scale(0.36 1)" x="-1131" width="1165.2" height="1" fill="url(#ga)" opacity="0.498"/><rect transform="translate(521.9 18) scale(0.36 1)" x="-1131" width="1165.2" height="1" fill="url(#ga)" opacity="0.637"/><rect transform="translate(521.9 19) scale(0.36 1)" x="-1131" width="1165.2" height="1" fill="url(#ga)" opacity="0.777"/><rect transform="translate(521.9 20) scale(0.36 1)" x="-1131" width="1165.2" height="1" fill="url(#ga)" opacity="0.916"/><rect transform="translate(521.9 21) scale(0.36 1)" x="-1131" width="1165.2" height="1" fill="url(#ga)" opacity="0.944"/><rect transform="translate(521.9 22) scale(0.36 1)" x="-1131" width="1165.2" height="1" fill="url(#ga)" opacity="0.805"/><rect transform="translate(521.9 23) scale(0.36 1)" x="-1131" width="1165.2" height="1" fill="url(#ga)" opacity="0.665"/><rect transform="translate(521.9 24) scale(0.36 1)" x="-1131" width="1165.2" height="1" fill="url(#ga)" opacity="0.526"/><rect transform="translate(521.9 25) scale(0.36 1)" x="-1131" width="1165.2" height="1" fill="url(#ga)" opacity="0.386"/><rect transform="translate(521.9 26) scale(0.36 1)" x="-1131" width="1165.2" height="1" fill="url(#ga)" opacity="0.247"/><rect transform="translate(521.9 27) scale(0.36 1)" x="-1131" width="1165.2" height="1" fill="url(#ga)" opacity="0.107"/><rect transform="translate(504.98 28) scale(0.369 1)" x="-1056.5" width="1135.7" height="1" fill="url(#ga)" opacity="0.032"/><rect transform="translate(504.98 29) scale(0.369 1)" x="-1056.5" width="1135.7" height="1" fill="url(#ga)" opacity="0.172"/><rect transform="translate(504.98 30) scale(0.369 1)" x="-1056.5" width="1135.7" height="1" fill="url(#ga)" opacity="0.311"/><rect transform="translate(504.98 31) scale(0.369 1)" x="-1056.5" width="1135.7" height="1" fill="url(#ga)" opacity="0.45"/><rect transform="translate(504.98 32) scale(0.369 1)" x="-1056.5" width="1135.7" height="1" fill="url(#ga)" opacity="0.59"/><rect transform="translate(504.98 33) scale(0.369 1)" x="-1056.5" width="1135.7" height="1" fill="url(#ga)" opacity="0.729"/><rect transform="translate(504.98 34) scale(0.369 1)" x="-1056.5" width="1135.7" height="1" fill="url(#ga)" opacity="0.869"/><rect transform="translate(504.98 35) scale(0.369 1)" x="-1056.5" width="1135.7" height="1" fill="url(#ga)" opacity="0.992"/><rect transform="translate(504.98 36) scale(0.369 1)" x="-1056.5" width="1135.7" height="1" fill="url(#ga)" opacity="0.852"/><rect transform="translate(504.98 37) scale(0.369 1)" x="-1056.5" width="1135.7" height="1" fill="url(#ga)" opacity="0.713"/><rect transform="translate(504.98 38) scale(0.369 1)" x="-1056.5" width="1135.7" height="1" fill="url(#ga)" opacity="0.573"/><rect transform="translate(504.98 39) scale(0.369 1)" x="-1056.5" width="1135.7" height="1" fill="url(#ga)" opacity="0.434"/><rect transform="translate(504.98 40) scale(0.369 1)" x="-1056.5" width="1135.7" height="1" fill="url(#ga)" opacity="0.294"/><rect transform="translate(504.98 41) scale(0.369 1)" x="-1056.5" width="1135.7" height="1" fill="url(#ga)" opacity="0.155"/><rect transform="translate(504.98 42) scale(0.369 1)" x="-1056.5" width="1135.7" height="1" fill="url(#ga)" opacity="0.015"/><rect transform="translate(488.11 43) scale(0.38 1)" x="-981.8" width="1103.1" height="1" fill="url(#ga)" opacity="0.124"/><rect transform="translate(488.11 44) scale(0.38 1)" x="-981.8" width="1103.1" height="1" fill="url(#ga)" opacity="0.264"/><rect transform="translate(488.11 45) scale(0.38 1)" x="-981.8" width="1103.1" height="1" fill="url(#ga)" opacity="0.403"/><rect transform="translate(488.11 46) scale(0.38 1)" x="-981.8" width="1103.1" height="1" fill="url(#ga)" opacity="0.543"/><rect transform="translate(488.11 47) scale(0.38 1)" x="-981.8" width="1103.1" height="1" fill="url(#ga)" opacity="0.682"/><rect transform="translate(488.11 48) scale(0.38 1)" x="-981.8" width="1103.1" height="1" fill="url(#ga)" opacity="0.821"/><rect transform="translate(488.11 49) scale(0.38 1)" x="-981.8" width="1103.1" height="1" fill="url(#ga)" opacity="0.961"/><rect transform="translate(488.11 50) scale(0.38 1)" x="-981.8" width="1103.1" height="1" fill="url(#ga)" opacity="0.9"/><rect transform="translate(488.11 51) scale(0.38 1)" x="-981.8" width="1103.1" height="1" fill="url(#ga)" opacity="0.76"/><rect transform="translate(488.11 52) scale(0.38 1)" x="-981.8" width="1103.1" height="1" fill="url(#ga)" opacity="0.621"/><rect transform="translate(488.11 53) scale(0.38 1)" x="-981.8" width="1103.1" height="1" fill="url(#ga)" opacity="0.481"/><rect transform="translate(488.11 54) scale(0.38 1)" x="-981.8" width="1103.1" height="1" fill="url(#ga)" opacity="0.342"/><rect transform="translate(488.11 55) scale(0.38 1)" x="-981.8" width="1103.1" height="1" fill="url(#ga)" opacity="0.202"/><rect transform="translate(488.11 56) scale(0.38 1)" x="-981.8" width="1103.1" height="1" fill="url(#ga)" opacity="0.063"/><rect transform="translate(471.28 57) scale(0.393 1)" x="-905.1" width="1065" height="1" fill="url(#ga)" opacity="0.077"/><rect transform="translate(471.28 58) scale(0.393 1)" x="-905.1" width="1065" height="1" fill="url(#ga)" opacity="0.216"/><rect transform="translate(471.28 59) scale(0.393 1)" x="-905.1" width="1065" height="1" fill="url(#ga)" opacity="0.356"/><rect transform="translate(471.28 60) scale(0.393 1)" x="-905.1" width="1065" height="1" fill="url(#ga)" opacity="0.495"/><rect transform="translate(471.28 61) scale(0.393 1)" x="-905.1" width="1065" height="1" fill="url(#ga)" opacity="0.635"/><rect transform="translate(471.28 62) scale(0.393 1)" x="-905.1" width="1065" height="1" fill="url(#ga)" opacity="0.774"/><rect transform="translate(471.28 63) scale(0.393 1)" x="-905.1" width="1065" height="1" fill="url(#ga)" opacity="0.914"/><rect transform="translate(471.28 64) scale(0.393 1)" x="-905.1" width="1065" height="1" fill="url(#ga)" opacity="0.947"/><rect transform="translate(471.28 65) scale(0.393 1)" x="-905.1" width="1065" height="1" fill="url(#ga)" opacity="0.808"/><rect transform="translate(471.28 66) scale(0.393 1)" x="-905.1" width="1065" height="1" fill="url(#ga)" opacity="0.668"/><rect transform="translate(471.28 67) scale(0.393 1)" x="-905.1" width="1065" height="1" fill="url(#ga)" opacity="0.529"/><rect transform="translate(471.28 68) scale(0.393 1)" x="-905.1" width="1065" height="1" fill="url(#ga)" opacity="0.389"/><rect transform="translate(471.28 69) scale(0.393 1)" x="-905.1" width="1065" height="1" fill="url(#ga)" opacity="0.25"/><rect transform="translate(471.28 70) scale(0.393 1)" x="-905.1" width="1065" height="1" fill="url(#ga)" opacity="0.11"/><rect transform="translate(454.52 71) scale(0.411 1)" x="-826.4" width="1020.5" height="1" fill="url(#ga)" opacity="0.029"/><rect transform="translate(454.52 72) scale(0.411 1)" x="-826.4" width="1020.5" height="1" fill="url(#ga)" opacity="0.169"/><rect transform="translate(454.52 73) scale(0.411 1)" x="-826.4" width="1020.5" height="1" fill="url(#ga)" opacity="0.308"/><rect transform="translate(454.52 74) scale(0.411 1)" x="-826.4" width="1020.5" height="1" fill="url(#ga)" opacity="0.448"/><rect transform="translate(454.52 75) scale(0.411 1)" x="-826.4" width="1020.5" height="1" fill="url(#ga)" opacity="0.587"/><rect transform="translate(454.52 76) scale(0.411 1)" x="-826.4" width="1020.5" height="1" fill="url(#ga)" opacity="0.727"/><rect transform="translate(454.52 77) scale(0.411 1)" x="-826.4" width="1020.5" height="1" fill="url(#ga)" opacity="0.866"/><rect transform="translate(454.52 78) scale(0.411 1)" x="-826.4" width="1020.5" height="1" fill="url(#ga)" opacity="0.994"/><rect transform="translate(454.52 79) scale(0.411 1)" x="-826.4" width="1020.5" height="1" fill="url(#ga)" opacity="0.855"/><rect transform="translate(454.52 80) scale(0.411 1)" x="-826.4" width="1020.5" height="1" fill="url(#ga)" opacity="0.715"/><rect transform="translate(454.52 81) scale(0.411 1)" x="-826.4" width="1020.5" height="1" fill="url(#ga)" opacity="0.576"/><rect transform="translate(454.52 82) scale(0.411 1)" x="-826.4" width="1020.5" height="1" fill="url(#ga)" opacity="0.437"/><rect transform="translate(454.52 83) scale(0.411 1)" x="-826.4" width="1020.5" height="1" fill="url(#ga)" opacity="0.297"/><rect transform="translate(454.52 84) scale(0.411 1)" x="-826.4" width="1020.5" height="1" fill="url(#ga)" opacity="0.158"/><rect transform="translate(454.52 85) scale(0.411 1)" x="-826.4" width="1020.5" height="1" fill="url(#ga)" opacity="0.018"/><rect transform="translate(437.8 86) scale(0.43 1)" x="-749.9" width="974" height="1" fill="url(#ga)" opacity="0.121"/><rect transform="translate(437.8 87) scale(0.43 1)" x="-749.9" width="974" height="1" fill="url(#ga)" opacity="0.261"/><rect transform="translate(437.8 88) scale(0.43 1)" x="-749.9" width="974" height="1" fill="url(#ga)" opacity="0.4"/><rect transform="translate(437.8 89) scale(0.43 1)" x="-749.9" width="974" height="1" fill="url(#ga)" opacity="0.54"/><rect transform="translate(437.8 90) scale(0.43 1)" x="-749.9" width="974" height="1" fill="url(#ga)" opacity="0.679"/><rect transform="translate(437.8 91) scale(0.43 1)" x="-749.9" width="974" height="1" fill="url(#ga)" opacity="0.819"/><rect transform="translate(437.8 92) scale(0.43 1)" x="-749.9" width="974" height="1" fill="url(#ga)" opacity="0.958"/><rect transform="translate(437.8 93) scale(0.43 1)" x="-749.9" width="974" height="1" fill="url(#ga)" opacity="0.902"/><rect transform="translate(437.8 94) scale(0.43 1)" x="-749.9" width="974" height="1" fill="url(#ga)" opacity="0.763"/><rect transform="translate(437.8 95) scale(0.43 1)" x="-749.9" width="974" height="1" fill="url(#ga)" opacity="0.623"/><rect transform="translate(437.8 96) scale(0.43 1)" x="-749.9" width="974" height="1" fill="url(#ga)" opacity="0.484"/><rect transform="translate(437.8 97) scale(0.43 1)" x="-749.9" width="974" height="1" fill="url(#ga)" opacity="0.344"/><rect transform="translate(437.8 98) scale(0.43 1)" x="-749.9" width="974" height="1" fill="url(#ga)" opacity="0.205"/><rect transform="translate(437.8 99) scale(0.43 1)" x="-749.9" width="974" height="1" fill="url(#ga)" opacity="0.066"/><rect transform="translate(421.13 100) scale(0.451 1)" x="-678.2" width="928.9" height="1" fill="url(#ga)" opacity="0.074"/><rect transform="translate(421.13 101) scale(0.451 1)" x="-678.2" width="928.9" height="1" fill="url(#ga)" opacity="0.213"/><rect transform="translate(421.13 102) scale(0.451 1)" x="-678.2" width="928.9" height="1" fill="url(#ga)" opacity="0.353"/><rect transform="translate(421.13 103) scale(0.451 1)" x="-678.2" width="928.9" height="1" fill="url(#ga)" opacity="0.492"/><rect transform="translate(421.13 104) scale(0.451 1)" x="-678.2" width="928.9" height="1" fill="url(#ga)" opacity="0.632"/><rect transform="translate(421.13 105) scale(0.451 1)" x="-678.2" width="928.9" height="1" fill="url(#ga)" opacity="0.771"/><rect transform="translate(421.13 106) scale(0.451 1)" x="-678.2" width="928.9" height="1" fill="url(#ga)" opacity="0.911"/><rect transform="translate(421.13 107) scale(0.451 1)" x="-678.2" width="928.9" height="1" fill="url(#ga)" opacity="0.95"/><rect transform="translate(421.13 108) scale(0.451 1)" x="-678.2" width="928.9" height="1" fill="url(#ga)" opacity="0.81"/><rect transform="translate(421.13 109) scale(0.451 1)" x="-678.2" width="928.9" height="1" fill="url(#ga)" opacity="0.671"/><rect transform="translate(421.13 110) scale(0.451 1)" x="-678.2" width="928.9" height="1" fill="url(#ga)" opacity="0.531"/><rect transform="translate(421.13 111) scale(0.451 1)" x="-678.2" width="928.9" height="1" fill="url(#ga)" opacity="0.392"/><rect transform="translate(421.13 112) scale(0.451 1)" x="-678.2" width="928.9" height="1" fill="url(#ga)" opacity="0.252"/><rect transform="translate(421.13 113) scale(0.451 1)" x="-678.2" width="928.9" height="1" fill="url(#ga)" opacity="0.113"/><rect transform="translate(404.52 114) scale(0.472 1)" x="-612.8" width="887.4" height="1" fill="url(#ga)" opacity="0.026"/><rect transform="translate(404.52 115) scale(0.472 1)" x="-612.8" width="887.4" height="1" fill="url(#ga)" opacity="0.166"/><rect transform="translate(404.52 116) scale(0.472 1)" x="-612.8" width="887.4" height="1" fill="url(#ga)" opacity="0.305"/><rect transform="translate(404.52 117) scale(0.472 1)" x="-612.8" width="887.4" height="1" fill="url(#ga)" opacity="0.445"/><rect transform="translate(404.52 118) scale(0.472 1)" x="-612.8" width="887.4" height="1" fill="url(#ga)" opacity="0.584"/><rect transform="translate(404.52 119) scale(0.472 1)" x="-612.8" width="887.4" height="1" fill="url(#ga)" opacity="0.724"/><rect transform="translate(404.52 120) scale(0.472 1)" x="-612.8" width="887.4" height="1" fill="url(#ga)" opacity="0.863"/><rect transform="translate(404.52 121) scale(0.472 1)" x="-612.8" width="887.4" height="1" fill="url(#ga)" opacity="0.997"/><rect transform="translate(404.52 122) scale(0.472 1)" x="-612.8" width="887.4" height="1" fill="url(#ga)" opacity="0.858"/><rect transform="translate(404.52 123) scale(0.472 1)" x="-612.8" width="887.4" height="1" fill="url(#ga)" opacity="0.718"/><rect transform="translate(404.52 124) scale(0.472 1)" x="-612.8" width="887.4" height="1" fill="url(#ga)" opacity="0.579"/><rect transform="translate(404.52 125) scale(0.472 1)" x="-612.8" width="887.4" height="1" fill="url(#ga)" opacity="0.439"/><rect transform="translate(404.52 126) scale(0.472 1)" x="-612.8" width="887.4" height="1" fill="url(#ga)" opacity="0.3"/><rect transform="translate(404.52 127) scale(0.472 1)" x="-612.8" width="887.4" height="1" fill="url(#ga)" opacity="0.16"/><rect transform="translate(404.52 128) scale(0.472 1)" x="-612.8" width="887.4" height="1" fill="url(#ga)" opacity="0.021"/><rect transform="translate(387.96 129) scale(0.494 1)" x="-552.4" width="848.5" height="1" fill="url(#ga)" opacity="0.119"/><rect transform="translate(387.96 130) scale(0.494 1)" x="-552.4" width="848.5" height="1" fill="url(#ga)" opacity="0.258"/><rect transform="translate(387.96 131) scale(0.494 1)" x="-552.4" width="848.5" height="1" fill="url(#ga)" opacity="0.397"/><rect transform="translate(387.96 132) scale(0.494 1)" x="-552.4" width="848.5" height="1" fill="url(#ga)" opacity="0.537"/><rect transform="translate(387.96 133) scale(0.494 1)" x="-552.4" width="848.5" height="1" fill="url(#ga)" opacity="0.676"/><rect transform="translate(387.96 134) scale(0.494 1)" x="-552.4" width="848.5" height="1" fill="url(#ga)" opacity="0.816"/><rect transform="translate(387.96 135) scale(0.494 1)" x="-552.4" width="848.5" height="1" fill="url(#ga)" opacity="0.955"/><rect transform="translate(387.96 136) scale(0.494 1)" x="-552.4" width="848.5" height="1" fill="url(#ga)" opacity="0.905"/><rect transform="translate(387.96 137) scale(0.494 1)" x="-552.4" width="848.5" height="1" fill="url(#ga)" opacity="0.766"/><rect transform="translate(387.96 138) scale(0.494 1)" x="-552.4" width="848.5" height="1" fill="url(#ga)" opacity="0.626"/><rect transform="translate(387.96 139) scale(0.494 1)" x="-552.4" width="848.5" height="1" fill="url(#ga)" opacity="0.487"/><rect transform="translate(387.96 140) scale(0.494 1)" x="-552.4" width="848.5" height="1" fill="url(#ga)" opacity="0.347"/><rect transform="translate(387.96 141) scale(0.494 1)" x="-552.4" width="848.5" height="1" fill="url(#ga)" opacity="0.208"/><rect transform="translate(387.96 142) scale(0.494 1)" x="-552.4" width="848.5" height="1" fill="url(#ga)" opacity="0.068"/><rect transform="translate(371.45 143) scale(0.517 1)" x="-495.8" width="810.8" height="1" fill="url(#ga)" opacity="0.071"/><rect transform="translate(371.45 144) scale(0.517 1)" x="-495.8" width="810.8" height="1" fill="url(#ga)" opacity="0.211"/><rect transform="translate(371.45 145) scale(0.517 1)" x="-495.8" width="810.8" height="1" fill="url(#ga)" opacity="0.35"/><rect transform="translate(371.45 146) scale(0.517 1)" x="-495.8" width="810.8" height="1" fill="url(#ga)" opacity="0.49"/><rect transform="translate(371.45 147) scale(0.517 1)" x="-495.8" width="810.8" height="1" fill="url(#ga)" opacity="0.629"/><rect transform="translate(371.45 148) scale(0.517 1)" x="-495.8" width="810.8" height="1" fill="url(#ga)" opacity="0.768"/><rect transform="translate(371.45 149) scale(0.517 1)" x="-495.8" width="810.8" height="1" fill="url(#ga)" opacity="0.908"/><rect transform="translate(371.45 150) scale(0.517 1)" x="-495.8" width="810.8" height="1" fill="url(#ga)" opacity="0.953"/><rect transform="translate(371.45 151) scale(0.517 1)" x="-495.8" width="810.8" height="1" fill="url(#ga)" opacity="0.813"/><rect transform="translate(371.45 152) scale(0.517 1)" x="-495.8" width="810.8" height="1" fill="url(#ga)" opacity="0.674"/><rect transform="translate(371.45 153) scale(0.517 1)" x="-495.8" width="810.8" height="1" fill="url(#ga)" opacity="0.534"/><rect transform="translate(371.45 154) scale(0.517 1)" x="-495.8" width="810.8" height="1" fill="url(#ga)" opacity="0.395"/><rect transform="translate(371.45 155) scale(0.517 1)" x="-495.8" width="810.8" height="1" fill="url(#ga)" opacity="0.255"/><rect transform="translate(371.45 156) scale(0.517 1)" x="-495.8" width="810.8" height="1" fill="url(#ga)" opacity="0.116"/><rect transform="translate(354.99 157) scale(0.541 1)" x="-442.9" width="773.9" height="1" fill="url(#ga)" opacity="0.024"/><rect transform="translate(354.99 158) scale(0.541 1)" x="-442.9" width="773.9" height="1" fill="url(#ga)" opacity="0.163"/><rect transform="translate(354.99 159) scale(0.541 1)" x="-442.9" width="773.9" height="1" fill="url(#ga)" opacity="0.303"/><rect transform="translate(354.99 160) scale(0.541 1)" x="-442.9" width="773.9" height="1" fill="url(#ga)" opacity="0.442"/><rect transform="translate(354.99 161) scale(0.541 1)" x="-442.9" width="773.9" height="1" fill="url(#ga)" opacity="0.582"/><rect transform="translate(354.99 162) scale(0.541 1)" x="-442.9" width="773.9" height="1" fill="url(#ga)" opacity="0.721"/><rect transform="translate(354.99 163) scale(0.541 1)" x="-442.9" width="773.9" height="1" fill="url(#ga)" opacity="0.861"/><rect transform="translate(354.99 164) scale(0.541 1)" x="-442.9" width="773.9" height="1" fill="url(#ga)" opacity="1"/><rect transform="translate(354.99 165) scale(0.541 1)" x="-442.9" width="773.9" height="1" fill="url(#ga)" opacity="0.861"/><rect transform="translate(354.99 166) scale(0.541 1)" x="-442.9" width="773.9" height="1" fill="url(#ga)" opacity="0.721"/><rect transform="translate(354.99 167) scale(0.541 1)" x="-442.9" width="773.9" height="1" fill="url(#ga)" opacity="0.582"/><rect transform="translate(354.99 168) scale(0.541 1)" x="-442.9" width="773.9" height="1" fill="url(#ga)" opacity="0.442"/><rect transform="translate(354.99 169) scale(0.541 1)" x="-442.9" width="773.9" height="1" fill="url(#ga)" opacity="0.303"/><rect transform="translate(354.99 170) scale(0.541 1)" x="-442.9" width="773.9" height="1" fill="url(#ga)" opacity="0.163"/><rect transform="translate(354.99 171) scale(0.541 1)" x="-442.9" width="773.9" height="1" fill="url(#ga)" opacity="0.024"/><rect transform="translate(338.59 172) scale(0.568 1)" x="-393.4" width="738" height="1" fill="url(#ga)" opacity="0.116"/><rect transform="translate(338.59 173) scale(0.568 1)" x="-393.4" width="738" height="1" fill="url(#ga)" opacity="0.255"/><rect transform="translate(338.59 174) scale(0.568 1)" x="-393.4" width="738" height="1" fill="url(#ga)" opacity="0.395"/><rect transform="translate(338.59 175) scale(0.568 1)" x="-393.4" width="738" height="1" fill="url(#ga)" opacity="0.534"/><rect transform="translate(338.59 176) scale(0.568 1)" x="-393.4" width="738" height="1" fill="url(#ga)" opacity="0.674"/><rect transform="translate(338.59 177) scale(0.568 1)" x="-393.4" width="738" height="1" fill="url(#ga)" opacity="0.813"/><rect transform="translate(338.59 178) scale(0.568 1)" x="-393.4" width="738" height="1" fill="url(#ga)" opacity="0.953"/><rect transform="translate(338.59 179) scale(0.568 1)" x="-393.4" width="738" height="1" fill="url(#ga)" opacity="0.908"/><rect transform="translate(338.59 180) scale(0.568 1)" x="-393.4" width="738" height="1" fill="url(#ga)" opacity="0.768"/><rect transform="translate(338.59 181) scale(0.568 1)" x="-393.4" width="738" height="1" fill="url(#ga)" opacity="0.629"/><rect transform="translate(338.59 182) scale(0.568 1)" x="-393.4" width="738" height="1" fill="url(#ga)" opacity="0.49"/><rect transform="translate(338.59 183) scale(0.568 1)" x="-393.4" width="738" height="1" fill="url(#ga)" opacity="0.35"/><rect transform="translate(338.59 184) scale(0.568 1)" x="-393.4" width="738" height="1" fill="url(#ga)" opacity="0.211"/><rect transform="translate(338.59 185) scale(0.568 1)" x="-393.4" width="738" height="1" fill="url(#ga)" opacity="0.071"/><rect transform="translate(322.24 186) scale(0.596 1)" x="-347.5" width="703.4" height="1" fill="url(#ga)" opacity="0.068"/><rect transform="translate(322.24 187) scale(0.596 1)" x="-347.5" width="703.4" height="1" fill="url(#ga)" opacity="0.208"/><rect transform="translate(322.24 188) scale(0.596 1)" x="-347.5" width="703.4" height="1" fill="url(#ga)" opacity="0.347"/><rect transform="translate(322.24 189) scale(0.596 1)" x="-347.5" width="703.4" height="1" fill="url(#ga)" opacity="0.487"/><rect transform="translate(322.24 190) scale(0.596 1)" x="-347.5" width="703.4" height="1" fill="url(#ga)" opacity="0.626"/><rect transform="translate(322.24 191) scale(0.596 1)" x="-347.5" width="703.4" height="1" fill="url(#ga)" opacity="0.766"/><rect transform="translate(322.24 192) scale(0.596 1)" x="-347.5" width="703.4" height="1" fill="url(#ga)" opacity="0.905"/><rect transform="translate(322.24 193) scale(0.596 1)" x="-347.5" width="703.4" height="1" fill="url(#ga)" opacity="0.955"/><rect transform="translate(322.24 194) scale(0.596 1)" x="-347.5" width="703.4" height="1" fill="url(#ga)" opacity="0.816"/><rect transform="translate(322.24 195) scale(0.596 1)" x="-347.5" width="703.4" height="1" fill="url(#ga)" opacity="0.676"/><rect transform="translate(322.24 196) scale(0.596 1)" x="-347.5" width="703.4" height="1" fill="url(#ga)" opacity="0.537"/><rect transform="translate(322.24 197) scale(0.596 1)" x="-347.5" width="703.4" height="1" fill="url(#ga)" opacity="0.397"/><rect transform="translate(322.24 198) scale(0.596 1)" x="-347.5" width="703.4" height="1" fill="url(#ga)" opacity="0.258"/><rect transform="translate(322.24 199) scale(0.596 1)" x="-347.5" width="703.4" height="1" fill="url(#ga)" opacity="0.119"/><rect transform="translate(305.94 200) scale(0.626 1)" x="-304.6" width="669.2" height="1" fill="url(#ga)" opacity="0.021"/><rect transform="translate(305.94 201) scale(0.626 1)" x="-304.6" width="669.2" height="1" fill="url(#ga)" opacity="0.16"/><rect transform="translate(305.94 202) scale(0.626 1)" x="-304.6" width="669.2" height="1" fill="url(#ga)" opacity="0.3"/><rect transform="translate(305.94 203) scale(0.626 1)" x="-304.6" width="669.2" height="1" fill="url(#ga)" opacity="0.439"/><rect transform="translate(305.94 204) scale(0.626 1)" x="-304.6" width="669.2" height="1" fill="url(#ga)" opacity="0.579"/><rect transform="translate(305.94 205) scale(0.626 1)" x="-304.6" width="669.2" height="1" fill="url(#ga)" opacity="0.718"/><rect transform="translate(305.94 206) scale(0.626 1)" x="-304.6" width="669.2" height="1" fill="url(#ga)" opacity="0.858"/><rect transform="translate(305.94 207) scale(0.626 1)" x="-304.6" width="669.2" height="1" fill="url(#ga)" opacity="0.997"/><rect transform="translate(305.94 208) scale(0.626 1)" x="-304.6" width="669.2" height="1" fill="url(#ga)" opacity="0.863"/><rect transform="translate(305.94 209) scale(0.626 1)" x="-304.6" width="669.2" height="1" fill="url(#ga)" opacity="0.724"/><rect transform="translate(305.94 210) scale(0.626 1)" x="-304.6" width="669.2" height="1" fill="url(#ga)" opacity="0.584"/><rect transform="translate(305.94 211) scale(0.626 1)" x="-304.6" width="669.2" height="1" fill="url(#ga)" opacity="0.445"/><rect transform="translate(305.94 212) scale(0.626 1)" x="-304.6" width="669.2" height="1" fill="url(#ga)" opacity="0.305"/><rect transform="translate(305.94 213) scale(0.626 1)" x="-304.6" width="669.2" height="1" fill="url(#ga)" opacity="0.166"/><rect transform="translate(305.94 214) scale(0.626 1)" x="-304.6" width="669.2" height="1" fill="url(#ga)" opacity="0.026"/><rect transform="translate(289.69 215) scale(0.661 1)" x="-263.8" width="633.5" height="1" fill="url(#ga)" opacity="0.113"/><rect transform="translate(289.69 216) scale(0.661 1)" x="-263.8" width="633.5" height="1" fill="url(#ga)" opacity="0.252"/><rect transform="translate(289.69 217) scale(0.661 1)" x="-263.8" width="633.5" height="1" fill="url(#ga)" opacity="0.392"/><rect transform="translate(289.69 218) scale(0.661 1)" x="-263.8" width="633.5" height="1" fill="url(#ga)" opacity="0.531"/><rect transform="translate(289.69 219) scale(0.661 1)" x="-263.8" width="633.5" height="1" fill="url(#ga)" opacity="0.671"/><rect transform="translate(289.69 220) scale(0.661 1)" x="-263.8" width="633.5" height="1" fill="url(#ga)" opacity="0.81"/><rect transform="translate(289.69 221) scale(0.661 1)" x="-263.8" width="633.5" height="1" fill="url(#ga)" opacity="0.95"/><rect transform="translate(289.69 222) scale(0.661 1)" x="-263.8" width="633.5" height="1" fill="url(#ga)" opacity="0.911"/><rect transform="translate(289.69 223) scale(0.661 1)" x="-263.8" width="633.5" height="1" fill="url(#ga)" opacity="0.771"/><rect transform="translate(289.69 224) scale(0.661 1)" x="-263.8" width="633.5" height="1" fill="url(#ga)" opacity="0.632"/><rect transform="translate(289.69 225) scale(0.661 1)" x="-263.8" width="633.5" height="1" fill="url(#ga)" opacity="0.492"/><rect transform="translate(289.69 226) scale(0.661 1)" x="-263.8" width="633.5" height="1" fill="url(#ga)" opacity="0.353"/><rect transform="translate(289.69 227) scale(0.661 1)" x="-263.8" width="633.5" height="1" fill="url(#ga)" opacity="0.213"/><rect transform="translate(289.69 228) scale(0.661 1)" x="-263.8" width="633.5" height="1" fill="url(#ga)" opacity="0.074"/><rect transform="translate(273.49 229) scale(0.708 1)" x="-223.5" width="591.5" height="1" fill="url(#ga)" opacity="0.066"/><rect transform="translate(273.49 230) scale(0.708 1)" x="-223.5" width="591.5" height="1" fill="url(#ga)" opacity="0.205"/><rect transform="translate(273.49 231) scale(0.708 1)" x="-223.5" width="591.5" height="1" fill="url(#ga)" opacity="0.344"/><rect transform="translate(273.49 232) scale(0.708 1)" x="-223.5" width="591.5" height="1" fill="url(#ga)" opacity="0.484"/><rect transform="translate(273.49 233) scale(0.708 1)" x="-223.5" width="591.5" height="1" fill="url(#ga)" opacity="0.623"/><rect transform="translate(273.49 234) scale(0.708 1)" x="-223.5" width="591.5" height="1" fill="url(#ga)" opacity="0.763"/><rect transform="translate(273.49 235) scale(0.708 1)" x="-223.5" width="591.5" height="1" fill="url(#ga)" opacity="0.902"/><rect transform="translate(273.49 236) scale(0.708 1)" x="-223.5" width="591.5" height="1" fill="url(#ga)" opacity="0.958"/><rect transform="translate(273.49 237) scale(0.708 1)" x="-223.5" width="591.5" height="1" fill="url(#ga)" opacity="0.819"/><rect transform="translate(273.49 238) scale(0.708 1)" x="-223.5" width="591.5" height="1" fill="url(#ga)" opacity="0.679"/><rect transform="translate(273.49 239) scale(0.708 1)" x="-223.5" width="591.5" height="1" fill="url(#ga)" opacity="0.54"/><rect transform="translate(273.49 240) scale(0.708 1)" x="-223.5" width="591.5" height="1" fill="url(#ga)" opacity="0.4"/><rect transform="translate(273.49 241) scale(0.708 1)" x="-223.5" width="591.5" height="1" fill="url(#ga)" opacity="0.261"/><rect transform="translate(273.49 242) scale(0.708 1)" x="-223.5" width="591.5" height="1" fill="url(#ga)" opacity="0.121"/><rect transform="translate(257.35 243) scale(0.768 1)" x="-185" width="545.3" height="1" fill="url(#ga)" opacity="0.018"/><rect transform="translate(257.35 244) scale(0.768 1)" x="-185" width="545.3" height="1" fill="url(#ga)" opacity="0.158"/><rect transform="translate(257.35 245) scale(0.768 1)" x="-185" width="545.3" height="1" fill="url(#ga)" opacity="0.297"/><rect transform="translate(257.35 246) scale(0.768 1)" x="-185" width="545.3" height="1" fill="url(#ga)" opacity="0.437"/><rect transform="translate(257.35 247) scale(0.768 1)" x="-185" width="545.3" height="1" fill="url(#ga)" opacity="0.576"/><rect transform="translate(257.35 248) scale(0.768 1)" x="-185" width="545.3" height="1" fill="url(#ga)" opacity="0.715"/><rect transform="translate(257.35 249) scale(0.768 1)" x="-185" width="545.3" height="1" fill="url(#ga)" opacity="0.855"/><rect transform="translate(257.35 250) scale(0.768 1)" x="-185" width="545.3" height="1" fill="url(#ga)" opacity="0.994"/><rect transform="translate(257.35 251) scale(0.768 1)" x="-185" width="545.3" height="1" fill="url(#ga)" opacity="0.866"/><rect transform="translate(257.35 252) scale(0.768 1)" x="-185" width="545.3" height="1" fill="url(#ga)" opacity="0.727"/><rect transform="translate(257.35 253) scale(0.768 1)" x="-185" width="545.3" height="1" fill="url(#ga)" opacity="0.587"/><rect transform="translate(257.35 254) scale(0.768 1)" x="-185" width="545.3" height="1" fill="url(#ga)" opacity="0.448"/><rect transform="translate(257.35 255) scale(0.768 1)" x="-185" width="545.3" height="1" fill="url(#ga)" opacity="0.308"/><rect transform="translate(257.35 256) scale(0.768 1)" x="-185" width="545.3" height="1" fill="url(#ga)" opacity="0.169"/><rect transform="translate(257.35 257) scale(0.768 1)" x="-185" width="545.3" height="1" fill="url(#ga)" opacity="0.029"/><rect transform="translate(241.25 258) scale(0.824 1)" x="-152.9" width="508.3" height="1" fill="url(#ga)" opacity="0.11"/><rect transform="translate(241.25 259) scale(0.824 1)" x="-152.9" width="508.3" height="1" fill="url(#ga)" opacity="0.25"/><rect transform="translate(241.25 260) scale(0.824 1)" x="-152.9" width="508.3" height="1" fill="url(#ga)" opacity="0.389"/><rect transform="translate(241.25 261) scale(0.824 1)" x="-152.9" width="508.3" height="1" fill="url(#ga)" opacity="0.529"/><rect transform="translate(241.25 262) scale(0.824 1)" x="-152.9" width="508.3" height="1" fill="url(#ga)" opacity="0.668"/><rect transform="translate(241.25 263) scale(0.824 1)" x="-152.9" width="508.3" height="1" fill="url(#ga)" opacity="0.808"/><rect transform="translate(241.25 264) scale(0.824 1)" x="-152.9" width="508.3" height="1" fill="url(#ga)" opacity="0.947"/><rect transform="translate(241.25 265) scale(0.824 1)" x="-152.9" width="508.3" height="1" fill="url(#ga)" opacity="0.914"/><rect transform="translate(241.25 266) scale(0.824 1)" x="-152.9" width="508.3" height="1" fill="url(#ga)" opacity="0.774"/><rect transform="translate(241.25 267) scale(0.824 1)" x="-152.9" width="508.3" height="1" fill="url(#ga)" opacity="0.635"/><rect transform="translate(241.25 268) scale(0.824 1)" x="-152.9" width="508.3" height="1" fill="url(#ga)" opacity="0.495"/><rect transform="translate(241.25 269) scale(0.824 1)" x="-152.9" width="508.3" height="1" fill="url(#ga)" opacity="0.356"/><rect transform="translate(241.25 270) scale(0.824 1)" x="-152.9" width="508.3" height="1" fill="url(#ga)" opacity="0.216"/><rect transform="translate(241.25 271) scale(0.824 1)" x="-152.9" width="508.3" height="1" fill="url(#ga)" opacity="0.077"/><rect transform="translate(225.21 272) scale(0.864 1)" x="-127.3" width="485" height="1" fill="url(#ga)" opacity="0.063"/><rect transform="translate(225.21 273) scale(0.864 1)" x="-127.3" width="485" height="1" fill="url(#ga)" opacity="0.202"/><rect transform="translate(225.21 274) scale(0.864 1)" x="-127.3" width="485" height="1" fill="url(#ga)" opacity="0.342"/><rect transform="translate(225.21 275) scale(0.864 1)" x="-127.3" width="485" height="1" fill="url(#ga)" opacity="0.481"/><rect transform="translate(225.21 276) scale(0.864 1)" x="-127.3" width="485" height="1" fill="url(#ga)" opacity="0.621"/><rect transform="translate(225.21 277) scale(0.864 1)" x="-127.3" width="485" height="1" fill="url(#ga)" opacity="0.76"/><rect transform="translate(225.21 278) scale(0.864 1)" x="-127.3" width="485" height="1" fill="url(#ga)" opacity="0.9"/><rect transform="translate(225.21 279) scale(0.864 1)" x="-127.3" width="485" height="1" fill="url(#ga)" opacity="0.961"/><rect transform="translate(225.21 280) scale(0.864 1)" x="-127.3" width="485" height="1" fill="url(#ga)" opacity="0.821"/><rect transform="translate(225.21 281) scale(0.864 1)" x="-127.3" width="485" height="1" fill="url(#ga)" opacity="0.682"/><rect transform="translate(225.21 282) scale(0.864 1)" x="-127.3" width="485" height="1" fill="url(#ga)" opacity="0.543"/><rect transform="translate(225.21 283) scale(0.864 1)" x="-127.3" width="485" height="1" fill="url(#ga)" opacity="0.403"/><rect transform="translate(225.21 284) scale(0.864 1)" x="-127.3" width="485" height="1" fill="url(#ga)" opacity="0.264"/><rect transform="translate(225.21 285) scale(0.864 1)" x="-127.3" width="485" height="1" fill="url(#ga)" opacity="0.124"/><rect transform="translate(209.22 286) scale(0.897 1)" x="-104.8" width="467.2" height="1" fill="url(#ga)" opacity="0.015"/><rect transform="translate(209.22 287) scale(0.897 1)" x="-104.8" width="467.2" height="1" fill="url(#ga)" opacity="0.155"/><rect transform="translate(209.22 288) scale(0.897 1)" x="-104.8" width="467.2" height="1" fill="url(#ga)" opacity="0.294"/><rect transform="translate(209.22 289) scale(0.897 1)" x="-104.8" width="467.2" height="1" fill="url(#ga)" opacity="0.434"/><rect transform="translate(209.22 290) scale(0.897 1)" x="-104.8" width="467.2" height="1" fill="url(#ga)" opacity="0.573"/><rect transform="translate(209.22 291) scale(0.897 1)" x="-104.8" width="467.2" height="1" fill="url(#ga)" opacity="0.713"/><rect transform="translate(209.22 292) scale(0.897 1)" x="-104.8" width="467.2" height="1" fill="url(#ga)" opacity="0.852"/><rect transform="translate(209.22 293) scale(0.897 1)" x="-104.8" width="467.2" height="1" fill="url(#ga)" opacity="0.992"/><rect transform="translate(209.22 294) scale(0.897 1)" x="-104.8" width="467.2" height="1" fill="url(#ga)" opacity="0.869"/><rect transform="translate(209.22 295) scale(0.897 1)" x="-104.8" width="467.2" height="1" fill="url(#ga)" opacity="0.729"/><rect transform="translate(209.22 296) scale(0.897 1)" x="-104.8" width="467.2" height="1" fill="url(#ga)" opacity="0.59"/><rect transform="translate(209.22 297) scale(0.897 1)" x="-104.8" width="467.2" height="1" fill="url(#ga)" opacity="0.45"/><rect transform="translate(209.22 298) scale(0.897 1)" x="-104.8" width="467.2" height="1" fill="url(#ga)" opacity="0.311"/><rect transform="translate(209.22 299) scale(0.897 1)" x="-104.8" width="467.2" height="1" fill="url(#ga)" opacity="0.172"/><rect transform="translate(209.22 300) scale(0.897 1)" x="-104.8" width="467.2" height="1" fill="url(#ga)" opacity="0.032"/><rect transform="translate(193.29 301) scale(0.926 1)" x="-84.3" width="452.5" height="1" fill="url(#ga)" opacity="0.107"/><rect transform="translate(193.29 302) scale(0.926 1)" x="-84.3" width="452.5" height="1" fill="url(#ga)" opacity="0.247"/><rect transform="translate(193.29 303) scale(0.926 1)" x="-84.3" width="452.5" height="1" fill="url(#ga)" opacity="0.386"/><rect transform="translate(193.29 304) scale(0.926 1)" x="-84.3" width="452.5" height="1" fill="url(#ga)" opacity="0.526"/><rect transform="translate(193.29 305) scale(0.926 1)" x="-84.3" width="452.5" height="1" fill="url(#ga)" opacity="0.665"/><rect transform="translate(193.29 306) scale(0.926 1)" x="-84.3" width="452.5" height="1" fill="url(#ga)" opacity="0.805"/><rect transform="translate(193.29 307) scale(0.926 1)" x="-84.3" width="452.5" height="1" fill="url(#ga)" opacity="0.944"/><rect transform="translate(193.29 308) scale(0.926 1)" x="-84.3" width="452.5" height="1" fill="url(#ga)" opacity="0.916"/><rect transform="translate(193.29 309) scale(0.926 1)" x="-84.3" width="452.5" height="1" fill="url(#ga)" opacity="0.777"/><rect transform="translate(193.29 310) scale(0.926 1)" x="-84.3" width="452.5" height="1" fill="url(#ga)" opacity="0.637"/><rect transform="translate(193.29 311) scale(0.926 1)" x="-84.3" width="452.5" height="1" fill="url(#ga)" opacity="0.498"/><rect transform="translate(193.29 312) scale(0.926 1)" x="-84.3" width="452.5" height="1" fill="url(#ga)" opacity="0.358"/><rect transform="translate(193.29 313) scale(0.926 1)" x="-84.3" width="452.5" height="1" fill="url(#ga)" opacity="0.219"/><rect transform="translate(193.29 314) scale(0.926 1)" x="-84.3" width="452.5" height="1" fill="url(#ga)" opacity="0.079"/><rect transform="translate(177.4 315) scale(0.953 1)" x="-65.3" width="439.8" height="1" fill="url(#ga)" opacity="0.06"/><rect transform="translate(177.4 316) scale(0.953 1)" x="-65.3" width="439.8" height="1" fill="url(#ga)" opacity="0.199"/><rect transform="translate(177.4 317) scale(0.953 1)" x="-65.3" width="439.8" height="1" fill="url(#ga)" opacity="0.339"/><rect transform="translate(177.4 318) scale(0.953 1)" x="-65.3" width="439.8" height="1" fill="url(#ga)" opacity="0.478"/><rect transform="translate(177.4 319) scale(0.953 1)" x="-65.3" width="439.8" height="1" fill="url(#ga)" opacity="0.618"/><rect transform="translate(177.4 320) scale(0.953 1)" x="-65.3" width="439.8" height="1" fill="url(#ga)" opacity="0.757"/><rect transform="translate(177.4 321) scale(0.953 1)" x="-65.3" width="439.8" height="1" fill="url(#ga)" opacity="0.897"/><rect transform="translate(177.4 322) scale(0.953 1)" x="-65.3" width="439.8" height="1" fill="url(#ga)" opacity="0.964"/><rect transform="translate(177.4 323) scale(0.953 1)" x="-65.3" width="439.8" height="1" fill="url(#ga)" opacity="0.824"/><rect transform="translate(177.4 324) scale(0.953 1)" x="-65.3" width="439.8" height="1" fill="url(#ga)" opacity="0.685"/><rect transform="translate(177.4 325) scale(0.953 1)" x="-65.3" width="439.8" height="1" fill="url(#ga)" opacity="0.545"/><rect transform="translate(177.4 326) scale(0.953 1)" x="-65.3" width="439.8" height="1" fill="url(#ga)" opacity="0.406"/><rect transform="translate(177.4 327) scale(0.953 1)" x="-65.3" width="439.8" height="1" fill="url(#ga)" opacity="0.266"/><rect transform="translate(177.4 328) scale(0.953 1)" x="-65.3" width="439.8" height="1" fill="url(#ga)" opacity="0.127"/><rect transform="translate(161.57 329) scale(0.979 1)" x="-47.4" width="428.1" height="1" fill="url(#ga)" opacity="0.013"/><rect transform="translate(161.57 330) scale(0.979 1)" x="-47.4" width="428.1" height="1" fill="url(#ga)" opacity="0.152"/><rect transform="translate(161.57 331) scale(0.979 1)" x="-47.4" width="428.1" height="1" fill="url(#ga)" opacity="0.291"/><rect transform="translate(161.57 332) scale(0.979 1)" x="-47.4" width="428.1" height="1" fill="url(#ga)" opacity="0.431"/><rect transform="translate(161.57 333) scale(0.979 1)" x="-47.4" width="428.1" height="1" fill="url(#ga)" opacity="0.57"/><rect transform="translate(161.57 334) scale(0.979 1)" x="-47.4" width="428.1" height="1" fill="url(#ga)" opacity="0.71"/><rect transform="translate(161.57 335) scale(0.979 1)" x="-47.4" width="428.1" height="1" fill="url(#ga)" opacity="0.849"/><rect transform="translate(161.57 336) scale(0.979 1)" x="-47.4" width="428.1" height="1" fill="url(#ga)" opacity="0.989"/><rect transform="translate(161.57 337) scale(0.979 1)" x="-47.4" width="428.1" height="1" fill="url(#ga)" opacity="0.872"/><rect transform="translate(161.57 338) scale(0.979 1)" x="-47.4" width="428.1" height="1" fill="url(#ga)" opacity="0.732"/><rect transform="translate(161.57 339) scale(0.979 1)" x="-47.4" width="428.1" height="1" fill="url(#ga)" opacity="0.593"/><rect transform="translate(161.57 340) scale(0.979 1)" x="-47.4" width="428.1" height="1" fill="url(#ga)" opacity="0.453"/><rect transform="translate(161.57 341) scale(0.979 1)" x="-47.4" width="428.1" height="1" fill="url(#ga)" opacity="0.314"/><rect transform="translate(161.57 342) scale(0.979 1)" x="-47.4" width="428.1" height="1" fill="url(#ga)" opacity="0.174"/><rect transform="translate(161.57 343) scale(0.979 1)" x="-47.4" width="428.1" height="1" fill="url(#ga)" opacity="0.035"/><rect transform="translate(145.79 344) scale(1.006 1)" x="-30.4" width="416.7" height="1" fill="url(#ga)" opacity="0.105"/><rect transform="translate(145.79 345) scale(1.006 1)" x="-30.4" width="416.7" height="1" fill="url(#ga)" opacity="0.244"/><rect transform="translate(145.79 346) scale(1.006 1)" x="-30.4" width="416.7" height="1" fill="url(#ga)" opacity="0.384"/><rect transform="translate(145.79 347) scale(1.006 1)" x="-30.4" width="416.7" height="1" fill="url(#ga)" opacity="0.523"/><rect transform="translate(145.79 348) scale(1.006 1)" x="-30.4" width="416.7" height="1" fill="url(#ga)" opacity="0.662"/><rect transform="translate(145.79 349) scale(1.006 1)" x="-30.4" width="416.7" height="1" fill="url(#ga)" opacity="0.802"/><rect transform="translate(145.79 350) scale(1.006 1)" x="-30.4" width="416.7" height="1" fill="url(#ga)" opacity="0.941"/><rect transform="translate(145.79 351) scale(1.006 1)" x="-30.4" width="416.7" height="1" fill="url(#ga)" opacity="0.919"/><rect transform="translate(145.79 352) scale(1.006 1)" x="-30.4" width="416.7" height="1" fill="url(#ga)" opacity="0.78"/><rect transform="translate(145.79 353) scale(1.006 1)" x="-30.4" width="416.7" height="1" fill="url(#ga)" opacity="0.64"/><rect transform="translate(145.79 354) scale(1.006 1)" x="-30.4" width="416.7" height="1" fill="url(#ga)" opacity="0.501"/><rect transform="translate(145.79 355) scale(1.006 1)" x="-30.4" width="416.7" height="1" fill="url(#ga)" opacity="0.361"/><rect transform="translate(145.79 356) scale(1.006 1)" x="-30.4" width="416.7" height="1" fill="url(#ga)" opacity="0.222"/><rect transform="translate(145.79 357) scale(1.006 1)" x="-30.4" width="416.7" height="1" fill="url(#ga)" opacity="0.082"/><rect transform="translate(130.06 358) scale(1.032 1)" x="-14.4" width="406.2" height="1" fill="url(#ga)" opacity="0.057"/><rect transform="translate(130.06 359) scale(1.032 1)" x="-14.4" width="406.2" height="1" fill="url(#ga)" opacity="0.197"/><rect transform="translate(130.06 360) scale(1.032 1)" x="-14.4" width="406.2" height="1" fill="url(#ga)" opacity="0.336"/><rect x="115.2" y="17.5" width="419" height="342.5" fill="url(#env)"/></g></g>
<rect x="1116.8" y="20" width="19.2" height="347" fill="url(#cbar)"/><path d="M1117.3 20V367M1135.5 20V367" stroke="#000" stroke-opacity=".55" stroke-width="1.2" fill="none"/><path d="M1116.8 54.7h4M1136 54.7h-4M1116.8 89.4h4M1136 89.4h-4M1116.8 124.1h4M1136 124.1h-4M1116.8 158.8h4M1136 158.8h-4M1116.8 193.5h4M1136 193.5h-4M1116.8 228.2h4M1136 228.2h-4M1116.8 262.9h4M1136 262.9h-4M1116.8 297.6h4M1136 297.6h-4M1116.8 332.3h4M1136 332.3h-4" stroke="#000" stroke-opacity=".75" stroke-width="1.2" fill="none"/>
<rect x="1118" y="455.5" width="19.8" height="338.8" fill="url(#cbar)"/><path d="M1118.5 455.5V794.3M1137.3 455.5V794.3" stroke="#000" stroke-opacity=".55" stroke-width="1.2" fill="none"/><path d="M1118 489.38h4M1137.8 489.38h-4M1118 523.26h4M1137.8 523.26h-4M1118 557.14h4M1137.8 557.14h-4M1118 591.02h4M1137.8 591.02h-4M1118 624.9h4M1137.8 624.9h-4M1118 658.78h4M1137.8 658.78h-4M1118 692.66h4M1137.8 692.66h-4M1118 726.54h4M1137.8 726.54h-4M1118 760.42h4M1137.8 760.42h-4" stroke="#000" stroke-opacity=".75" stroke-width="1.2" fill="none"/>
<g fill="none" stroke="#000" stroke-width="2.4"><rect x="116.2" y="18.5" width="417" height="340.5"/><rect x="684.6" y="18.5" width="411.6" height="348.3"/><rect x="116.6" y="453.5" width="413.6" height="341.5"/><rect x="688" y="453.5" width="412.5" height="340.7"/><path d="M116.2 18.5h-8.5M116.2 179h-8.5M116.2 334.7h-8.5M232 359v9.5M378.5 359v9.5M531.5 359v9.5M684.6 182.2h-8.5M684.6 340.3h-8.5M746 366.8v9.5M898.5 366.8v9.5M1044 366.8v9.5M116.6 453.5h-8.5M116.6 547.3h-8.5M116.6 631h-8.5M116.6 719h-8.5M116.6 795h-8.5M172.5 795v9.5M277.7 795v9.5M384.7 795v9.5M490.8 795v9.5M688 453.5h-8.5M688 547.3h-8.5M688 631.2h-8.5M688 718.7h-8.5M688 794.2h-8.5M688 794.2v9.5M823 794.2v9.5M962 794.2v9.5M1100.5 794.2v9.5"/></g>
<g stroke="#000" stroke-width=".35" stroke-linejoin="round">
<text transform="translate(4.22 38.95) scale(1 1)" font-size="32">(a)</text>
<text transform="translate(53.64 31.5) scale(0.912 1)" font-size="28.5">1.42</text>
<text transform="translate(53.14 189) scale(0.912 1)" font-size="28.5">1.38</text>
<text transform="translate(52.94 338.9) scale(0.912 1)" font-size="28.5">1.34</text>
<text transform="translate(216.95 397.05) scale(0.912 1)" font-size="28.5">625</text>
<text transform="translate(361.05 397.05) scale(0.912 1)" font-size="28.5">640</text>
<text transform="translate(506.5 396.85) scale(0.912 1)" font-size="28.5">655</text>
<text transform="translate(280.73 436.5) scale(1.056 1)" font-size="32">λ (nm)</text>
<text transform="translate(578.57 37.06) scale(0.955 1)" font-size="33.5">(b)</text>
<text transform="translate(621.08 32.03) scale(0.892 1)" font-size="29.5">1.42</text>
<text transform="translate(621.32 192.33) scale(0.892 1)" font-size="29.5">1.38</text>
<text transform="translate(620.67 344.73) scale(0.892 1)" font-size="29.5">1.34</text>
<text transform="translate(730.48 404.48) scale(0.892 1)" font-size="29.5">650</text>
<text transform="translate(880.38 404.48) scale(0.892 1)" font-size="29.5">660</text>
<text transform="translate(1024.08 404.48) scale(0.892 1)" font-size="29.5">670</text>
<text transform="translate(881.58 439.25) scale(1.056 1)" font-size="32">λ (nm)</text>
<text transform="translate(1146.75 39.86) scale(1.059 1)" font-size="27">1.0</text>
<text transform="translate(1145.62 99.51) scale(1.059 1)" font-size="27">0.8</text>
<text transform="translate(1145.4 168.36) scale(1.059 1)" font-size="27">0.6</text>
<text transform="translate(1145.4 240.96) scale(1.059 1)" font-size="27">0.4</text>
<text transform="translate(1145.85 308.56) scale(1.059 1)" font-size="27">0.2</text>
<text transform="translate(1145.62 371.76) scale(1.059 1)" font-size="27">0.0</text>
<text transform="translate(19.82 467.35) scale(1 1)" font-size="32">(c)</text>
<text transform="translate(62.29 465.24) scale(1.04 1)" font-size="27.4">2.0</text>
<text transform="translate(62.62 547.64) scale(1.04 1)" font-size="27.4">1.5</text>
<text transform="translate(63.02 642.34) scale(1.04 1)" font-size="27.4">1.0</text>
<text transform="translate(62.74 725.64) scale(1.04 1)" font-size="27.4">0.5</text>
<text transform="translate(64.49 796.69) scale(1.04 1)" font-size="27.4">0.0</text>
<text transform="translate(151.35 836.11) scale(0.976 1)" font-size="29.3">610</text>
<text transform="translate(254.3 836.11) scale(0.976 1)" font-size="29.3">615</text>
<text transform="translate(363.6 836.11) scale(0.976 1)" font-size="29.3">620</text>
<text transform="translate(466.05 836.11) scale(0.976 1)" font-size="29.3">625</text>
<text transform="translate(285.48 874.95) scale(1.056 1)" font-size="32">λ (nm)</text>
<text transform="translate(579.87 470.66) scale(0.955 1)" font-size="33.5">(d)</text>
<text transform="translate(628.69 465.24) scale(1.04 1)" font-size="27.4">2.0</text>
<text transform="translate(629.22 550.74) scale(1.04 1)" font-size="27.4">1.5</text>
<text transform="translate(629.22 646.44) scale(1.04 1)" font-size="27.4">1.0</text>
<text transform="translate(631.24 729.24) scale(1.04 1)" font-size="27.4">0.5</text>
<text transform="translate(631.84 799.99) scale(1.04 1)" font-size="27.4">0.0</text>
<text transform="translate(669.25 833.56) scale(0.976 1)" font-size="29.3">650</text>
<text transform="translate(805.55 835.01) scale(0.976 1)" font-size="29.3">655</text>
<text transform="translate(943.7 837.91) scale(0.976 1)" font-size="29.3">660</text>
<text transform="translate(1077.7 832.96) scale(0.976 1)" font-size="29.3">665</text>
<text transform="translate(867.08 872.95) scale(1.056 1)" font-size="32">λ (nm)</text>
<text transform="translate(1144.85 476.91) scale(1.059 1)" font-size="27">1.0</text>
<text transform="translate(1144.28 534.36) scale(1.059 1)" font-size="27">0.8</text>
<text transform="translate(1144.25 604.66) scale(1.059 1)" font-size="27">0.6</text>
<text transform="translate(1144.25 671.21) scale(1.059 1)" font-size="27">0.4</text>
<text transform="translate(1144.1 738.36) scale(1.059 1)" font-size="27">0.2</text>
<text transform="translate(1144.53 797.36) scale(1.059 1)" font-size="27">0.0</text>
<text transform="translate(41.21 677.76) rotate(-90) scale(1.038 1)" font-size="34.5">θ (degree)</text>
<text transform="translate(604.58 676.62) rotate(-90) scale(1.024 1)" font-size="34">θ (degree)</text>
<text transform="translate(32.44 192) rotate(-90) scale(1.1 1)" font-size="40" font-style="italic">n</text>
<text transform="translate(47.09 171.6) rotate(-90) scale(1.038 1)" font-size="26" font-style="italic">s</text>
<text transform="translate(602.69 192.15) rotate(-90) scale(1.1 1)" font-size="40" font-style="italic">n</text>
<text transform="translate(617.64 171.6) rotate(-90) scale(1.038 1)" font-size="26" font-style="italic">s</text>
</g>
<g>
<text transform="translate(159.44 73.71) scale(0.987 1)" font-size="31" font-weight="bold" fill="#fff">X-pol</text>
<text transform="translate(729.26 72.01) scale(0.974 1)" font-size="31" font-weight="bold" fill="#fff">Y-pol</text>
<text transform="translate(380.22 493.11) scale(1.016 1)" font-size="31" font-weight="bold" fill="#fff">X-pol</text>
<text transform="translate(722.69 495.71) scale(1.01 1)" font-size="31" font-weight="bold" fill="#fff">Y-pol</text>
</g>
</svg>
</body></html>
